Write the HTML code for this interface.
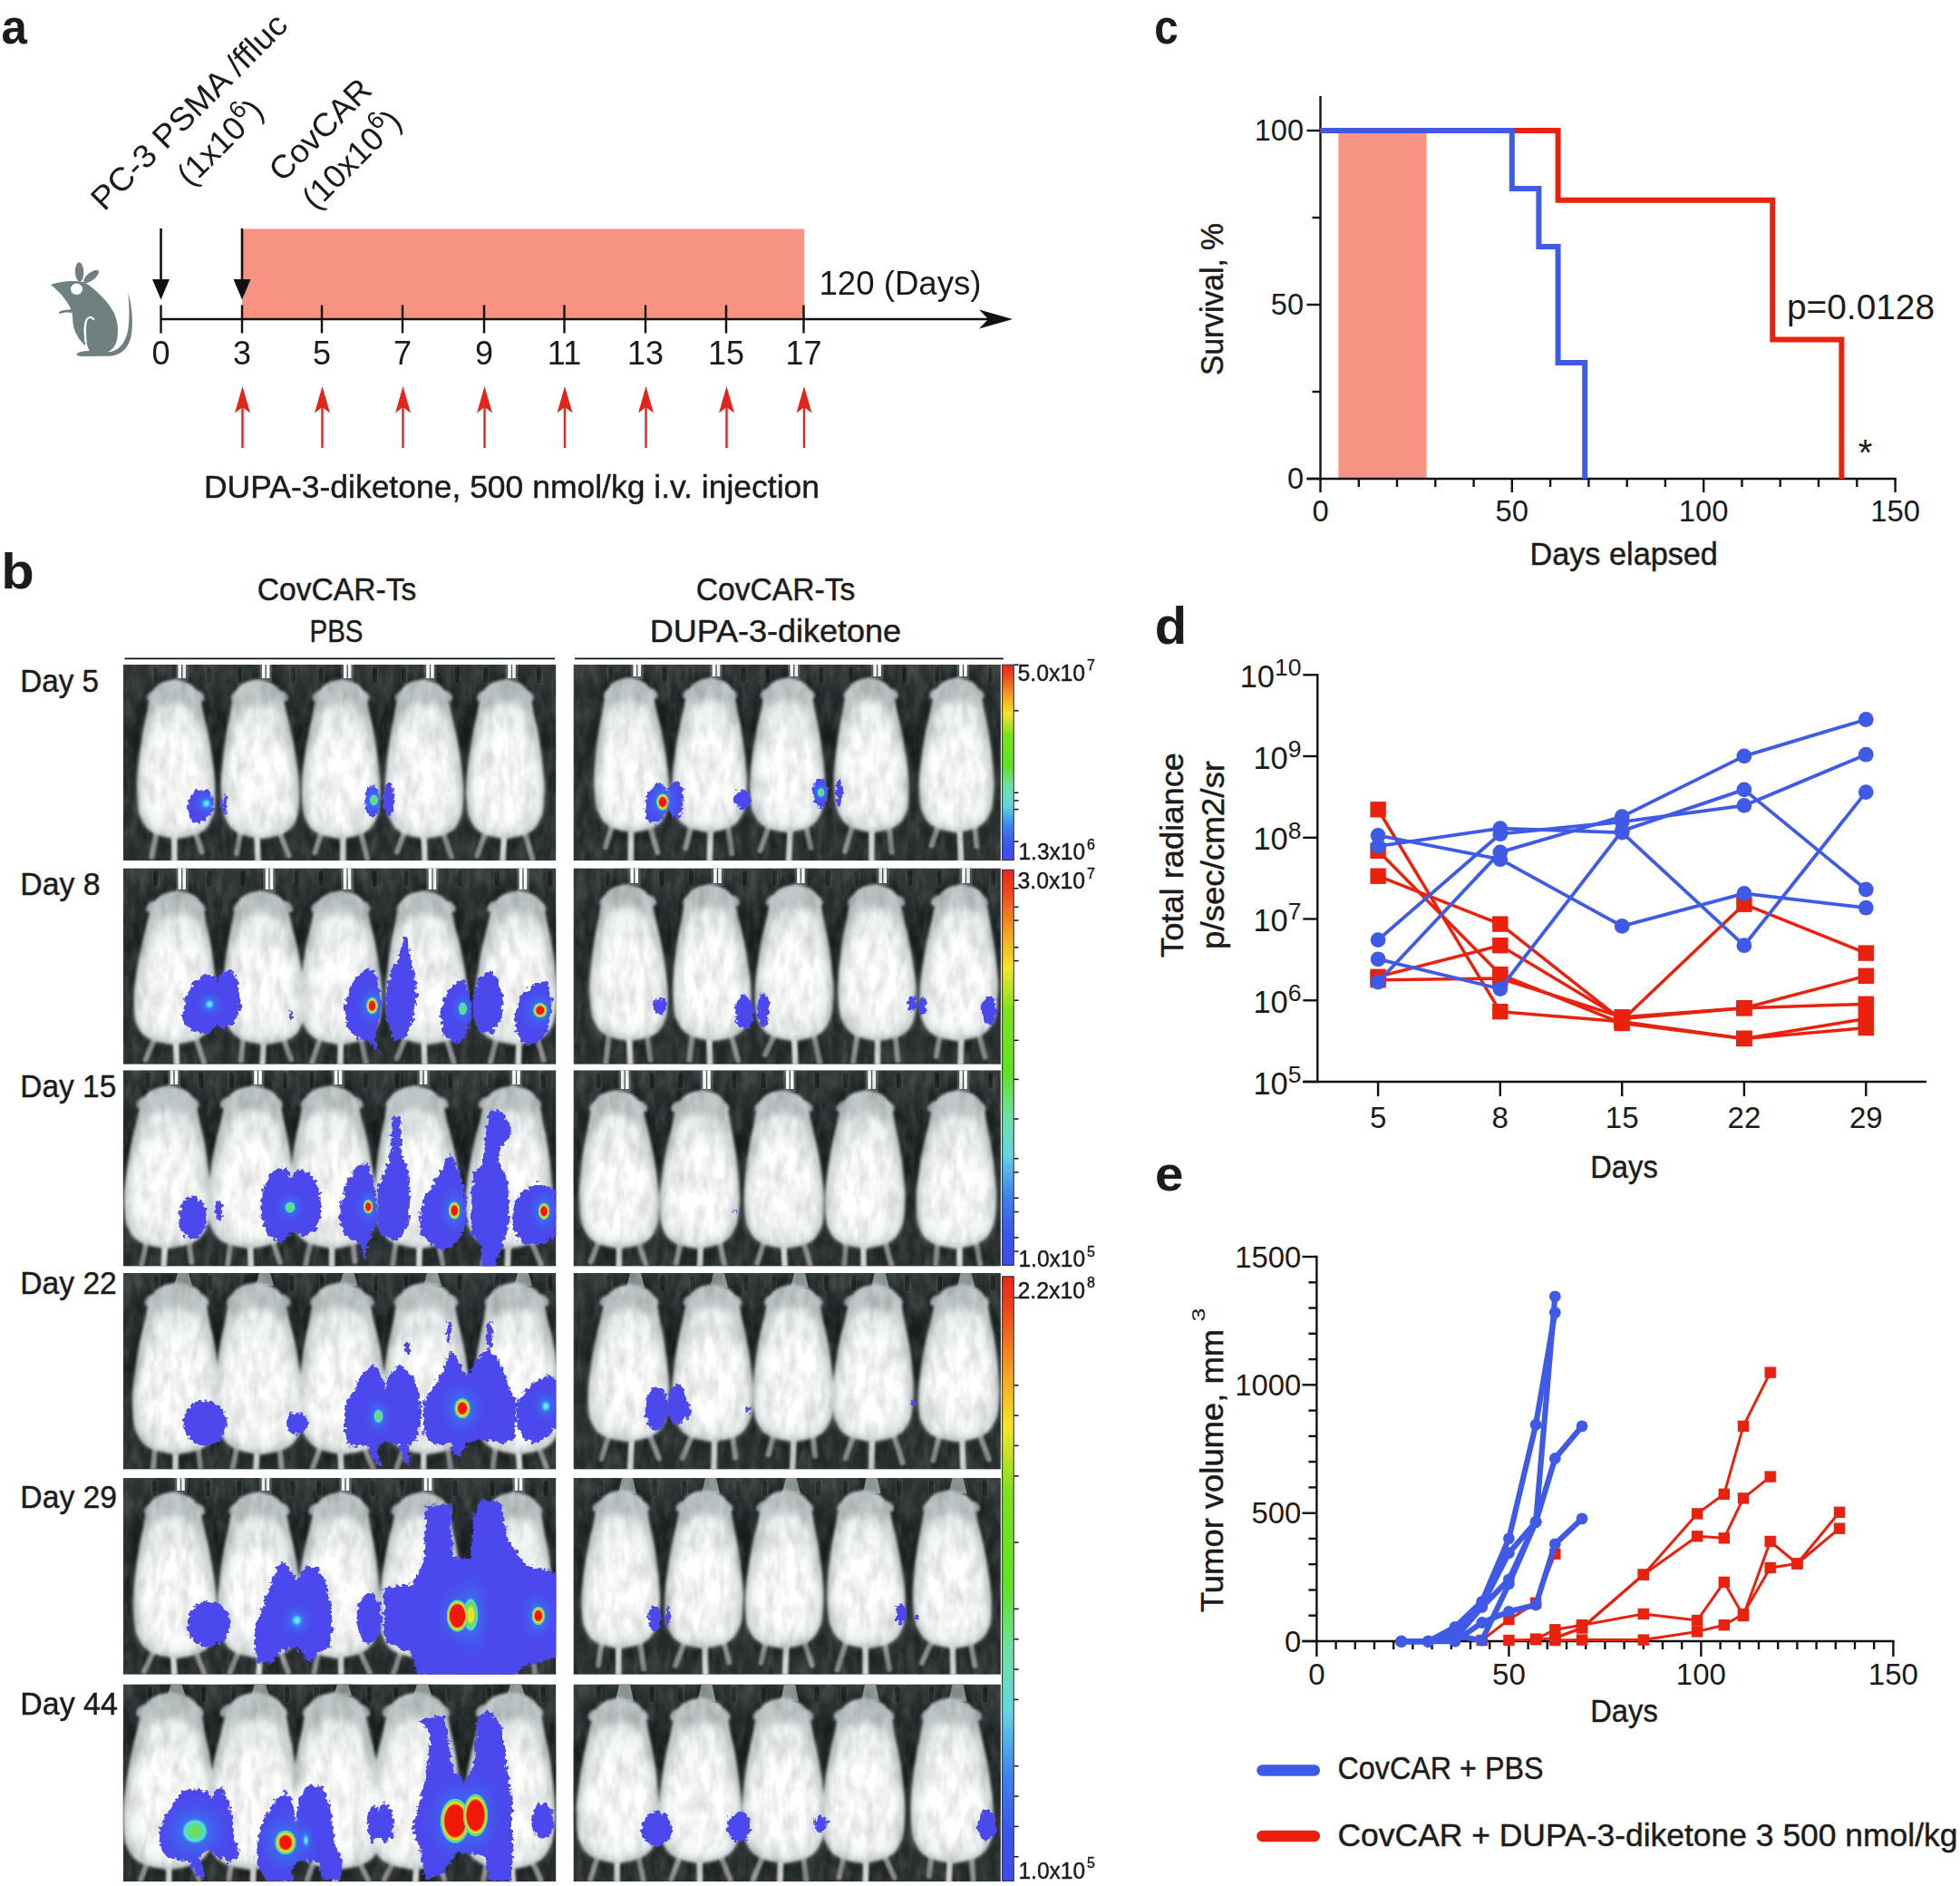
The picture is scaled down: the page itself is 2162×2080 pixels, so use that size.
<!DOCTYPE html>
<html><head><meta charset="utf-8"><title>Figure</title>
<style>
html,body{margin:0;padding:0;background:#fff;}
svg{display:block;}
text{font-family:"Liberation Sans",sans-serif;fill:#1c1a1a;}
.my{stroke:#1c1a1a;stroke-width:0.45px;}
</style></head><body>
<svg width="2162" height="2080" viewBox="0 0 2162 2080">
<defs>
<linearGradient id="bgG" x1="0" y1="0" x2="0" y2="1"><stop offset="0" stop-color="#323838"/><stop offset="0.2" stop-color="#2b3131"/><stop offset="1" stop-color="#282e2e"/></linearGradient>
<filter id="bl1" x="-20%" y="-20%" width="140%" height="140%"><feGaussianBlur stdDeviation="1.1"/></filter>
<filter id="bl2" x="-20%" y="-20%" width="140%" height="140%"><feGaussianBlur stdDeviation="1.5"/></filter>
<filter id="bl4" x="-20%" y="-20%" width="140%" height="140%"><feGaussianBlur stdDeviation="4.5"/></filter>
<filter id="furw" x="0" y="0" width="100%" height="100%"><feTurbulence type="fractalNoise" baseFrequency="0.11 0.04" numOctaves="3" seed="5"/><feColorMatrix type="matrix" values="0 0 0 0 1  0 0 0 0 1  0 0 0 0 1  1.8 0 0 0 -0.6"/></filter>
<filter id="bl5" x="-30%" y="-30%" width="160%" height="160%"><feGaussianBlur stdDeviation="7"/></filter>
<filter id="bl6" x="-30%" y="-30%" width="160%" height="160%"><feGaussianBlur stdDeviation="7"/></filter>
<filter id="rag" x="-10%" y="-10%" width="120%" height="120%"><feTurbulence type="fractalNoise" baseFrequency="0.22" numOctaves="2" seed="4" result="n"/><feDisplacementMap in="SourceGraphic" in2="n" scale="9" xChannelSelector="R" yChannelSelector="G"/></filter>
<filter id="fur" x="0" y="0" width="100%" height="100%"><feTurbulence type="fractalNoise" baseFrequency="0.09 0.035" numOctaves="3" seed="11"/><feColorMatrix type="matrix" values="0 0 0 0 0  0 0 0 0 0  0 0 0 0 0  1.6 0 0 0 -0.55"/></filter>
<linearGradient id="jet" x1="0" y1="0" x2="0" y2="1"><stop offset="0" stop-color="#e8251c"/><stop offset="0.06" stop-color="#ee4a1e"/><stop offset="0.16" stop-color="#f6a323"/><stop offset="0.25" stop-color="#f2e52c"/><stop offset="0.355" stop-color="#7fe01e"/><stop offset="0.51" stop-color="#5ee226"/><stop offset="0.62" stop-color="#6fe0a0"/><stop offset="0.72" stop-color="#63d6e0"/><stop offset="0.82" stop-color="#3f86ee"/><stop offset="0.92" stop-color="#3a55ee"/><stop offset="1" stop-color="#3f4cee"/></linearGradient>
<radialGradient id="glow"><stop offset="0" stop-color="#2f9cf5" stop-opacity="0.95"/><stop offset="0.4" stop-color="#3a72f0" stop-opacity="0.7"/><stop offset="1" stop-color="#4a48ea" stop-opacity="0"/></radialGradient>
<radialGradient id="hotR"><stop offset="0" stop-color="#f01808"/><stop offset="0.5" stop-color="#f01808"/><stop offset="0.62" stop-color="#f5a01e"/><stop offset="0.72" stop-color="#f0ea30"/><stop offset="0.84" stop-color="#5fdc50"/><stop offset="0.94" stop-color="#4fe0e0"/><stop offset="1" stop-color="#3a9af0" stop-opacity="0"/></radialGradient>
<radialGradient id="hotRR"><stop offset="0" stop-color="#f01808"/><stop offset="0.68" stop-color="#f01808"/><stop offset="0.75" stop-color="#f5a01e"/><stop offset="0.81" stop-color="#f0ea30"/><stop offset="0.89" stop-color="#5fdc50"/><stop offset="0.96" stop-color="#4fe0e0"/><stop offset="1" stop-color="#3a9af0" stop-opacity="0"/></radialGradient>
<radialGradient id="hotY"><stop offset="0" stop-color="#f0d030"/><stop offset="0.35" stop-color="#e8ea38"/><stop offset="0.65" stop-color="#5fdc50"/><stop offset="0.88" stop-color="#4fe0e0"/><stop offset="1" stop-color="#3a9af0" stop-opacity="0"/></radialGradient>
<radialGradient id="hotG"><stop offset="0" stop-color="#7be04a"/><stop offset="0.45" stop-color="#62dc78"/><stop offset="0.8" stop-color="#4fe0e0"/><stop offset="1" stop-color="#3a9af0" stop-opacity="0"/></radialGradient>
<radialGradient id="hotC"><stop offset="0" stop-color="#7cf0f0"/><stop offset="0.5" stop-color="#4ccff2"/><stop offset="1" stop-color="#3a8af0" stop-opacity="0"/></radialGradient>
<clipPath id="cp0"><rect x="135.8" y="733.0" width="477.6" height="216.2"/></clipPath>
<clipPath id="bc1"><ellipse cx="221.2" cy="888.8" rx="13.8" ry="19.0" transform="rotate(15 221.2 888.8)"/><ellipse cx="247.5" cy="887.5" rx="3.0" ry="11.2"/><ellipse cx="410.5" cy="883.8" rx="8.2" ry="17.5"/><ellipse cx="428.8" cy="882.5" rx="6.2" ry="18.0"/></clipPath>
<clipPath id="cp1"><rect x="632.5" y="733.0" width="471.4" height="216.2"/></clipPath>
<clipPath id="bc2"><ellipse cx="724.3" cy="886.0" rx="12.0" ry="22.6" transform="rotate(12 724.3 886.0)"/><ellipse cx="745.4" cy="881.5" rx="8.4" ry="21.1"/><ellipse cx="819.2" cy="881.5" rx="9.6" ry="10.5"/><ellipse cx="905.0" cy="874.6" rx="8.1" ry="15.1"/><ellipse cx="926.0" cy="874.0" rx="4.2" ry="15.1"/></clipPath>
<clipPath id="cp2"><rect x="135.8" y="957.5" width="477.6" height="216.3"/></clipPath>
<clipPath id="bc3"><polygon points="201.2,1120.0 205.0,1100.0 212.5,1085.0 225.0,1075.0 237.5,1076.2 240.2,1083.8 243.8,1072.5 255.0,1070.0 262.5,1085.0 266.2,1105.0 260.0,1125.0 247.5,1135.0 240.0,1130.5 230.0,1140.5 212.5,1138.0 203.8,1130.0"/><polygon points="380.0,1112.5 385.0,1090.0 395.0,1075.0 407.5,1067.5 415.0,1075.0 420.0,1100.0 420.0,1120.0 412.5,1140.0 417.5,1157.5 420.0,1163.0 405.0,1147.5 392.5,1145.0 382.5,1132.5"/><polygon points="425.0,1100.0 430.0,1075.0 440.0,1055.0 445.0,1032.5 450.0,1035.0 452.5,1057.5 457.5,1075.0 460.0,1100.0 455.0,1125.0 447.5,1145.0 435.0,1147.5 426.2,1125.0"/><polygon points="485.0,1120.0 490.0,1100.0 500.0,1085.0 512.5,1080.0 518.8,1100.0 520.0,1120.0 512.5,1145.0 502.5,1150.5 490.0,1142.5"/><polygon points="521.2,1105.0 527.5,1080.0 540.0,1070.0 550.0,1080.0 555.0,1100.0 552.5,1125.0 542.5,1140.0 530.0,1137.5 522.5,1122.5"/><polygon points="567.5,1120.0 575.0,1097.5 590.0,1085.0 605.0,1082.5 608.8,1105.0 605.0,1135.0 592.5,1150.0 580.0,1153.0 570.0,1140.0"/><ellipse cx="321.2" cy="1120.0" rx="2.2" ry="5.0"/></clipPath>
<clipPath id="cp3"><rect x="632.5" y="957.5" width="471.4" height="216.3"/></clipPath>
<clipPath id="cp4"><rect x="135.8" y="1180.3" width="477.6" height="216.3"/></clipPath>
<clipPath id="bc4"><ellipse cx="212.5" cy="1343.2" rx="15.5" ry="23.8"/><ellipse cx="241.2" cy="1334.5" rx="4.0" ry="11.2"/><polygon points="290.0,1312.0 300.0,1292.0 315.0,1287.0 321.2,1298.2 327.5,1289.5 342.5,1294.5 352.5,1312.0 355.0,1334.5 350.0,1354.5 337.5,1364.5 322.5,1358.2 310.0,1372.0 295.0,1362.0 287.5,1342.0"/><polygon points="376.2,1327.0 382.5,1302.0 395.0,1284.5 405.0,1282.0 413.8,1312.0 415.0,1347.0 410.0,1362.0 405.0,1372.0 403.0,1392.0 397.5,1372.0 380.0,1362.0 375.0,1344.5"/><polygon points="416.2,1312.0 425.0,1289.5 430.0,1277.0 433.8,1230.8 441.2,1230.8 442.5,1272.0 450.0,1289.5 452.5,1322.0 450.0,1352.0 437.5,1369.5 420.0,1362.0 415.0,1347.0"/><polygon points="462.5,1342.0 467.5,1322.0 480.0,1302.0 490.0,1282.0 497.5,1272.0 505.0,1289.5 512.5,1312.0 515.0,1347.0 505.0,1369.5 490.0,1379.5 475.0,1372.0 465.0,1362.0"/><polygon points="520.0,1322.0 522.5,1292.0 532.5,1282.0 535.0,1254.5 540.0,1223.2 555.0,1227.0 565.0,1247.0 552.5,1267.0 550.0,1282.0 560.0,1302.0 562.5,1347.0 555.0,1372.0 545.0,1398.2 532.5,1398.2 530.0,1372.0 520.0,1362.0"/><polygon points="565.0,1332.0 575.0,1314.5 592.5,1304.5 613.8,1312.0 613.8,1362.0 600.0,1372.0 577.5,1372.0 566.2,1357.0"/></clipPath>
<clipPath id="cp5"><rect x="632.5" y="1180.3" width="471.4" height="216.3"/></clipPath>
<clipPath id="cp6"><rect x="135.8" y="1403.9" width="477.6" height="216.7"/></clipPath>
<clipPath id="bc5"><ellipse cx="226.2" cy="1569.5" rx="23.8" ry="25.0"/><ellipse cx="327.5" cy="1569.5" rx="11.5" ry="12.0"/><polygon points="380.0,1552.0 387.5,1537.0 400.0,1514.5 412.5,1504.5 420.0,1514.5 425.0,1530.8 430.0,1514.5 442.5,1504.5 455.0,1517.0 462.5,1537.0 465.0,1567.0 460.0,1587.0 450.0,1594.5 452.5,1617.0 445.0,1612.0 440.0,1594.5 425.0,1589.5 415.0,1597.0 420.0,1618.2 412.5,1612.0 405.0,1594.5 385.0,1594.5 380.0,1577.0"/><polygon points="466.2,1547.0 480.0,1527.0 490.0,1507.0 497.5,1489.5 502.5,1494.5 515.0,1518.2 527.5,1497.0 540.0,1487.0 555.0,1507.0 562.5,1532.0 570.0,1547.0 567.5,1587.0 555.0,1592.0 530.0,1587.0 515.0,1592.0 507.5,1607.0 500.0,1604.5 497.5,1592.0 480.0,1594.5 467.5,1582.0"/><ellipse cx="540.0" cy="1472.0" rx="3.5" ry="15.0"/><ellipse cx="495.5" cy="1469.5" rx="2.5" ry="12.5"/><ellipse cx="450.0" cy="1487.0" rx="3.0" ry="6.2"/><polygon points="570.0,1547.0 580.0,1532.0 592.5,1522.0 605.0,1517.0 616.2,1522.0 616.2,1572.0 605.0,1582.0 592.5,1592.0 577.5,1587.0 570.0,1572.0"/></clipPath>
<clipPath id="cp7"><rect x="632.5" y="1403.9" width="471.4" height="216.7"/></clipPath>
<clipPath id="cp8"><rect x="135.8" y="1630.0" width="477.6" height="216.8"/></clipPath>
<clipPath id="bc6"><ellipse cx="230.0" cy="1790.8" rx="23.8" ry="25.0"/><polygon points="282.5,1792.0 290.0,1772.0 300.0,1742.0 310.0,1722.0 320.0,1729.5 327.5,1743.2 337.5,1727.0 350.0,1729.5 360.0,1747.0 365.0,1772.0 367.5,1797.0 362.5,1819.5 350.0,1822.0 342.5,1834.5 327.5,1817.0 310.0,1819.5 300.0,1834.5 285.0,1834.5 280.0,1812.0"/><ellipse cx="407.5" cy="1784.5" rx="14.0" ry="28.0"/><polygon points="422.5,1752.0 455.0,1747.0 467.5,1722.0 470.0,1659.5 497.5,1659.5 500.0,1717.0 518.8,1719.5 522.5,1669.5 530.0,1654.5 552.5,1657.0 560.0,1697.0 580.0,1727.0 616.2,1734.5 616.2,1827.0 580.0,1837.0 567.5,1848.2 462.5,1848.2 452.5,1822.0 425.0,1812.0"/></clipPath>
<clipPath id="cp9"><rect x="632.5" y="1630.0" width="471.4" height="216.8"/></clipPath>
<clipPath id="cp10"><rect x="135.8" y="1857.5" width="477.6" height="217.7"/></clipPath>
<clipPath id="bc7"><polygon points="175.0,2022.0 180.0,2007.0 192.5,1987.0 202.5,1974.5 217.5,1973.2 230.0,1977.0 233.8,1984.0 237.5,1974.5 245.0,1972.0 252.5,1987.0 256.2,2007.0 257.5,2027.0 265.0,2044.5 255.0,2054.5 240.0,2047.0 230.0,2039.5 220.0,2047.0 225.0,2064.5 226.2,2073.2 215.0,2067.0 207.5,2052.0 187.5,2049.5 177.5,2039.5"/><polygon points="283.8,2032.0 290.0,2007.0 302.5,1987.0 315.0,1975.8 322.5,1987.0 326.2,2009.5 330.0,1982.0 340.0,1969.5 355.0,1969.5 363.8,1987.0 366.2,2012.0 370.0,2034.5 377.5,2054.5 376.2,2073.2 355.0,2073.2 352.5,2054.5 330.0,2052.0 320.0,2062.0 325.0,2074.5 292.5,2074.5 282.5,2052.0"/><polygon points="405.0,2012.0 407.5,1997.0 412.5,1989.5 418.8,1997.5 423.8,1987.0 430.0,1994.5 435.0,2009.5 432.5,2027.0 425.0,2032.0 417.5,2027.0 410.0,2032.0 406.2,2022.0"/><polygon points="462.5,1897.0 490.0,1892.0 500.0,1952.0 512.5,1964.5 522.5,1947.0 527.5,1892.0 540.0,1887.0 552.5,1902.0 565.0,1987.0 565.0,2074.5 540.0,2074.5 535.0,2047.0 505.0,2042.0 490.0,2064.5 470.0,2074.5 462.5,2037.0 455.0,2017.0 470.0,1959.5 475.0,1912.0"/><ellipse cx="598.8" cy="2008.2" rx="12.0" ry="19.5"/></clipPath>
<clipPath id="cp11"><rect x="632.5" y="1857.5" width="471.4" height="217.7"/></clipPath>
</defs>
<rect width="2162" height="2080" fill="#fff"/>
<text x="1.2" y="648.8" font-size="55.5" textLength="36.5" lengthAdjust="spacingAndGlyphs" font-weight="bold">b</text>
<text x="371.5" y="662.0" font-size="35.5" class="my" text-anchor="middle" textLength="175.5" lengthAdjust="spacingAndGlyphs">CovCAR-Ts</text>
<text x="855.5" y="662.0" font-size="35.5" class="my" text-anchor="middle" textLength="175.5" lengthAdjust="spacingAndGlyphs">CovCAR-Ts</text>
<text x="371.0" y="707.7" font-size="35.5" class="my" text-anchor="middle" textLength="59.0" lengthAdjust="spacingAndGlyphs">PBS</text>
<text x="855.4" y="707.7" font-size="35.5" class="my" text-anchor="middle" textLength="277.5" lengthAdjust="spacingAndGlyphs">DUPA-3-diketone</text>
<line x1="137.5" y1="726.3" x2="612.0" y2="726.3" stroke="#111" stroke-width="1.8"/>
<line x1="634.0" y1="726.3" x2="1107.0" y2="726.3" stroke="#111" stroke-width="1.8"/>
<g clip-path="url(#cp0)">
<rect x="135.8" y="733.0" width="477.6" height="216.2" fill="url(#bgG)"/>
<g filter="url(#bl6)" fill="#161a1a" opacity="0.8">
<ellipse cx="193.8" cy="837.0" rx="49.9" ry="98.6"/>
<ellipse cx="286.2" cy="837.0" rx="49.9" ry="98.6"/>
<ellipse cx="376.2" cy="837.0" rx="49.9" ry="98.6"/>
<ellipse cx="467.5" cy="837.0" rx="49.9" ry="98.6"/>
<ellipse cx="557.5" cy="837.0" rx="49.9" ry="98.6"/>
</g>
<rect x="168.6" y="735.0" width="6.4" height="19" rx="3" fill="#1c2222" stroke="#3d4545" stroke-width="1"/>
<rect x="227.6" y="735.0" width="6.4" height="19" rx="3" fill="#1c2222" stroke="#3d4545" stroke-width="1"/>
<rect x="193.8" y="733.0" width="14" height="18.0" fill="#9aa5a5" opacity="0.35"/>
<rect x="196.4" y="733.0" width="3.6" height="15.0" fill="#fff"/>
<rect x="201.4" y="733.0" width="3.6" height="15.0" fill="#fff"/>
<rect x="261.1" y="735.0" width="6.4" height="19" rx="3" fill="#1c2222" stroke="#3d4545" stroke-width="1"/>
<rect x="320.1" y="735.0" width="6.4" height="19" rx="3" fill="#1c2222" stroke="#3d4545" stroke-width="1"/>
<rect x="286.2" y="733.0" width="14" height="18.0" fill="#9aa5a5" opacity="0.35"/>
<rect x="288.9" y="733.0" width="3.6" height="15.0" fill="#fff"/>
<rect x="293.9" y="733.0" width="3.6" height="15.0" fill="#fff"/>
<rect x="351.1" y="735.0" width="6.4" height="19" rx="3" fill="#1c2222" stroke="#3d4545" stroke-width="1"/>
<rect x="410.1" y="735.0" width="6.4" height="19" rx="3" fill="#1c2222" stroke="#3d4545" stroke-width="1"/>
<rect x="376.2" y="733.0" width="14" height="18.0" fill="#9aa5a5" opacity="0.35"/>
<rect x="378.9" y="733.0" width="3.6" height="15.0" fill="#fff"/>
<rect x="383.9" y="733.0" width="3.6" height="15.0" fill="#fff"/>
<rect x="442.3" y="735.0" width="6.4" height="19" rx="3" fill="#1c2222" stroke="#3d4545" stroke-width="1"/>
<rect x="501.3" y="735.0" width="6.4" height="19" rx="3" fill="#1c2222" stroke="#3d4545" stroke-width="1"/>
<rect x="467.5" y="733.0" width="14" height="18.0" fill="#9aa5a5" opacity="0.35"/>
<rect x="470.2" y="733.0" width="3.6" height="15.0" fill="#fff"/>
<rect x="475.2" y="733.0" width="3.6" height="15.0" fill="#fff"/>
<rect x="532.3" y="735.0" width="6.4" height="19" rx="3" fill="#1c2222" stroke="#3d4545" stroke-width="1"/>
<rect x="591.3" y="735.0" width="6.4" height="19" rx="3" fill="#1c2222" stroke="#3d4545" stroke-width="1"/>
<rect x="557.5" y="733.0" width="14" height="18.0" fill="#9aa5a5" opacity="0.35"/>
<rect x="560.2" y="733.0" width="3.6" height="15.0" fill="#fff"/>
<rect x="565.2" y="733.0" width="3.6" height="15.0" fill="#fff"/>
<g filter="url(#bl1)" stroke-linecap="round" fill="none">
<line x1="192.2" y1="917.0" x2="192.4" y2="953.2" stroke="#d6d6d6" stroke-width="6.5"/>
<line x1="173.1" y1="915.0" x2="167.4" y2="945.0" stroke="#8c8c8c" stroke-width="6"/>
<line x1="214.4" y1="915.0" x2="222.6" y2="939.7" stroke="#8c8c8c" stroke-width="6"/>
<line x1="283.3" y1="917.0" x2="284.7" y2="953.2" stroke="#d6d6d6" stroke-width="6.5"/>
<line x1="265.6" y1="915.0" x2="261.0" y2="941.3" stroke="#8c8c8c" stroke-width="6"/>
<line x1="306.9" y1="915.0" x2="318.8" y2="943.7" stroke="#8c8c8c" stroke-width="6"/>
<line x1="378.3" y1="917.0" x2="378.2" y2="953.2" stroke="#d6d6d6" stroke-width="6.5"/>
<line x1="355.6" y1="915.0" x2="347.2" y2="940.5" stroke="#8c8c8c" stroke-width="6"/>
<line x1="396.9" y1="915.0" x2="405.2" y2="947.2" stroke="#8c8c8c" stroke-width="6"/>
<line x1="467.6" y1="917.0" x2="468.6" y2="953.2" stroke="#d6d6d6" stroke-width="6.5"/>
<line x1="446.9" y1="915.0" x2="438.1" y2="939.6" stroke="#8c8c8c" stroke-width="6"/>
<line x1="488.1" y1="915.0" x2="497.7" y2="944.9" stroke="#8c8c8c" stroke-width="6"/>
<line x1="556.3" y1="917.0" x2="554.4" y2="953.2" stroke="#d6d6d6" stroke-width="6.5"/>
<line x1="536.9" y1="915.0" x2="526.2" y2="943.7" stroke="#8c8c8c" stroke-width="6"/>
<line x1="578.1" y1="915.0" x2="587.3" y2="947.2" stroke="#8c8c8c" stroke-width="6"/>
</g>
<g filter="url(#bl2)">
<ellipse cx="167.9" cy="767.5" rx="6.9" ry="4.6" fill="#a4afaf" transform="rotate(-48 167.9 767.5)"/>
<ellipse cx="219.6" cy="767.5" rx="6.9" ry="4.6" fill="#a4afaf" transform="rotate(48 219.6 767.5)"/>
<path d="M192.6,749.0 L204.6,751.8 L210.2,754.6 L213.7,757.4 L216.1,760.3 L217.9,763.1 L219.6,766.6 L222.2,775.4 L223.8,784.2 L225.8,793.0 L227.9,801.8 L229.7,810.6 L231.4,819.4 L232.8,828.2 L234.0,837.0 L235.1,845.8 L236.2,854.6 L237.0,863.4 L237.2,872.2 L237.0,881.0 L236.4,889.8 L235.1,898.6 L231.2,907.4 L229.1,910.9 L226.8,913.7 L223.5,916.6 L218.7,919.4 L209.6,922.2 L194.9,925.0 L194.9,925.0 L180.1,922.2 L170.9,919.4 L166.0,916.6 L162.6,913.7 L160.3,910.9 L158.0,907.4 L153.9,898.6 L152.4,889.8 L151.6,881.0 L151.2,872.2 L151.2,863.4 L151.7,854.6 L152.6,845.8 L153.5,837.0 L154.5,828.2 L155.7,819.4 L157.1,810.6 L158.7,801.8 L160.6,793.0 L162.4,784.2 L163.8,775.4 L166.1,766.6 L167.8,763.1 L169.5,760.3 L171.8,757.4 L175.2,754.6 L180.7,751.8 L192.6,749.0Z" fill="#bdc6c6"/>
<ellipse cx="260.4" cy="767.5" rx="6.9" ry="4.6" fill="#a4afaf" transform="rotate(-48 260.4 767.5)"/>
<ellipse cx="312.1" cy="767.5" rx="6.9" ry="4.6" fill="#a4afaf" transform="rotate(48 312.1 767.5)"/>
<path d="M284.1,749.0 L296.1,751.8 L301.7,754.6 L305.3,757.4 L307.6,760.3 L309.5,763.1 L311.2,766.6 L313.9,775.4 L315.7,784.2 L317.7,793.0 L320.0,801.8 L321.9,810.6 L323.6,819.4 L325.2,828.2 L326.5,837.0 L327.7,845.8 L328.9,854.6 L329.8,863.4 L330.1,872.2 L330.0,881.0 L329.6,889.8 L328.4,898.6 L324.6,907.4 L322.5,910.9 L320.2,913.7 L316.9,916.6 L312.2,919.4 L303.1,922.2 L288.4,925.0 L288.4,925.0 L273.6,922.2 L264.4,919.4 L259.5,916.6 L256.0,913.7 L253.7,910.9 L251.4,907.4 L247.2,898.6 L245.5,889.8 L244.7,881.0 L244.1,872.2 L244.0,863.4 L244.4,854.6 L245.2,845.8 L246.0,837.0 L246.9,828.2 L248.0,819.4 L249.3,810.6 L250.8,801.8 L252.6,793.0 L254.2,784.2 L255.5,775.4 L257.8,766.6 L259.4,763.1 L261.1,760.3 L263.3,757.4 L266.7,754.6 L272.2,751.8 L284.1,749.0Z" fill="#bdc6c6"/>
<ellipse cx="350.4" cy="767.5" rx="6.9" ry="4.6" fill="#a4afaf" transform="rotate(-48 350.4 767.5)"/>
<ellipse cx="402.1" cy="767.5" rx="6.9" ry="4.6" fill="#a4afaf" transform="rotate(48 402.1 767.5)"/>
<path d="M376.8,749.0 L388.7,751.8 L394.3,754.6 L397.7,757.4 L400.0,760.3 L401.7,763.1 L403.4,766.6 L405.8,775.4 L407.3,784.2 L409.1,793.0 L411.1,801.8 L412.7,810.6 L414.2,819.4 L415.4,828.2 L416.5,837.0 L417.5,845.8 L418.4,854.6 L419.0,863.4 L419.0,872.2 L418.6,881.0 L418.0,889.8 L416.5,898.6 L412.4,907.4 L410.2,910.9 L407.9,913.7 L404.5,916.6 L399.7,919.4 L390.5,922.2 L375.7,925.0 L375.7,925.0 L361.0,922.2 L351.8,919.4 L347.0,916.6 L343.7,913.7 L341.4,910.9 L339.2,907.4 L335.3,898.6 L333.9,889.8 L333.3,881.0 L333.1,872.2 L333.2,863.4 L333.9,854.6 L334.9,845.8 L336.0,837.0 L337.2,828.2 L338.5,819.4 L340.1,810.6 L341.9,801.8 L344.0,793.0 L345.8,784.2 L347.4,775.4 L350.0,766.6 L351.7,763.1 L353.4,760.3 L355.7,757.4 L359.3,754.6 L364.8,751.8 L376.8,749.0Z" fill="#bdc6c6"/>
<ellipse cx="441.7" cy="767.5" rx="6.9" ry="4.6" fill="#a4afaf" transform="rotate(-48 441.7 767.5)"/>
<ellipse cx="493.3" cy="767.5" rx="6.9" ry="4.6" fill="#a4afaf" transform="rotate(48 493.3 767.5)"/>
<path d="M465.9,749.0 L477.9,751.8 L483.6,754.6 L487.1,757.4 L489.4,760.3 L491.2,763.1 L493.0,766.6 L495.6,775.4 L497.3,784.2 L499.3,793.0 L501.5,801.8 L503.4,810.6 L505.0,819.4 L506.5,828.2 L507.7,837.0 L508.9,845.8 L510.0,854.6 L510.8,863.4 L511.1,872.2 L510.9,881.0 L510.5,889.8 L509.2,898.6 L505.3,907.4 L503.2,910.9 L501.0,913.7 L497.6,916.6 L492.9,919.4 L483.7,922.2 L469.1,925.0 L469.1,925.0 L454.3,922.2 L445.0,919.4 L440.2,916.6 L436.8,913.7 L434.4,910.9 L432.1,907.4 L428.0,898.6 L426.4,889.8 L425.6,881.0 L425.2,872.2 L425.1,863.4 L425.6,854.6 L426.4,845.8 L427.3,837.0 L428.2,828.2 L429.4,819.4 L430.7,810.6 L432.3,801.8 L434.2,793.0 L435.8,784.2 L437.2,775.4 L439.5,766.6 L441.2,763.1 L442.9,760.3 L445.1,757.4 L448.5,754.6 L454.1,751.8 L465.9,749.0Z" fill="#bdc6c6"/>
<ellipse cx="531.7" cy="767.5" rx="6.9" ry="4.6" fill="#a4afaf" transform="rotate(-48 531.7 767.5)"/>
<ellipse cx="583.3" cy="767.5" rx="6.9" ry="4.6" fill="#a4afaf" transform="rotate(48 583.3 767.5)"/>
<path d="M557.8,749.0 L569.7,751.8 L575.3,754.6 L578.8,757.4 L581.0,760.3 L582.8,763.1 L584.5,766.6 L586.9,775.4 L588.4,784.2 L590.2,793.0 L592.2,801.8 L593.9,810.6 L595.4,819.4 L596.7,828.2 L597.7,837.0 L598.7,845.8 L599.7,854.6 L600.3,863.4 L600.4,872.2 L600.0,881.0 L599.4,889.8 L597.9,898.6 L593.9,907.4 L591.7,910.9 L589.4,913.7 L586.0,916.6 L581.2,919.4 L572.0,922.2 L557.2,925.0 L557.2,925.0 L542.5,922.2 L533.3,919.4 L528.5,916.6 L525.2,913.7 L522.9,910.9 L520.7,907.4 L516.7,898.6 L515.3,889.8 L514.7,881.0 L514.4,872.2 L514.5,863.4 L515.2,854.6 L516.2,845.8 L517.3,837.0 L518.4,828.2 L519.7,819.4 L521.3,810.6 L523.0,801.8 L525.1,793.0 L526.9,784.2 L528.5,775.4 L531.0,766.6 L532.7,763.1 L534.5,760.3 L536.8,757.4 L540.3,754.6 L545.8,751.8 L557.8,749.0Z" fill="#bdc6c6"/>
</g>
<g filter="url(#bl4)">
<path d="M192.6,775.4 L203.6,777.7 L208.6,780.1 L211.9,782.4 L214.0,784.7 L215.6,787.1 L217.2,790.0 L219.6,797.3 L221.0,804.6 L222.8,811.9 L224.8,819.2 L226.5,826.5 L227.9,833.8 L229.3,841.1 L230.4,848.4 L231.4,855.7 L232.4,863.0 L233.1,870.4 L233.3,877.7 L233.1,885.0 L232.7,892.3 L231.5,899.6 L227.9,906.9 L226.0,909.8 L223.9,912.1 L220.9,914.5 L216.6,916.8 L208.2,919.1 L194.9,921.5 L194.9,921.5 L181.4,919.1 L173.0,916.8 L168.6,914.5 L165.5,912.1 L163.4,909.8 L161.3,906.9 L157.6,899.6 L156.2,892.3 L155.5,885.0 L155.1,877.7 L155.1,870.4 L155.5,863.0 L156.3,855.7 L157.1,848.4 L158.0,841.1 L159.1,833.8 L160.4,826.5 L161.8,819.2 L163.6,811.9 L165.1,804.6 L166.4,797.3 L168.5,790.0 L170.0,787.1 L171.6,784.7 L173.6,782.4 L176.8,780.1 L181.8,777.7 L192.6,775.4Z" fill="#f1f4f4"/>
<path d="M284.1,775.4 L295.0,777.7 L300.1,780.1 L303.4,782.4 L305.5,784.7 L307.2,787.1 L308.8,790.0 L311.3,797.3 L312.9,804.6 L314.8,811.9 L316.9,819.2 L318.7,826.5 L320.2,833.8 L321.7,841.1 L322.9,848.4 L324.0,855.7 L325.1,863.0 L325.9,870.4 L326.2,877.7 L326.2,885.0 L325.8,892.3 L324.7,899.6 L321.3,906.9 L319.4,909.8 L317.4,912.1 L314.4,914.5 L310.1,916.8 L301.8,919.1 L288.4,921.5 L288.4,921.5 L274.9,919.1 L266.5,916.8 L262.1,914.5 L258.9,912.1 L256.8,909.8 L254.7,906.9 L250.8,899.6 L249.3,892.3 L248.5,885.0 L248.0,877.7 L247.9,870.4 L248.2,863.0 L248.9,855.7 L249.6,848.4 L250.4,841.1 L251.4,833.8 L252.5,826.5 L253.9,819.2 L255.5,811.9 L257.0,804.6 L258.1,797.3 L260.2,790.0 L261.6,787.1 L263.2,784.7 L265.2,782.4 L268.3,780.1 L273.3,777.7 L284.1,775.4Z" fill="#f1f4f4"/>
<path d="M376.8,775.4 L387.6,777.7 L392.7,780.1 L395.8,782.4 L397.9,784.7 L399.5,787.1 L401.0,790.0 L403.2,797.3 L404.5,804.6 L406.2,811.9 L408.0,819.2 L409.5,826.5 L410.8,833.8 L411.9,841.1 L412.9,848.4 L413.8,855.7 L414.6,863.0 L415.1,870.4 L415.1,877.7 L414.8,885.0 L414.2,892.3 L412.8,899.6 L409.1,906.9 L407.1,909.8 L405.0,912.1 L401.9,914.5 L397.5,916.8 L389.1,919.1 L375.7,921.5 L375.7,921.5 L362.3,919.1 L354.0,916.8 L349.6,914.5 L346.6,912.1 L344.5,909.8 L342.5,906.9 L338.9,899.6 L337.7,892.3 L337.2,885.0 L336.9,877.7 L337.1,870.4 L337.7,863.0 L338.6,855.7 L339.6,848.4 L340.7,841.1 L341.9,833.8 L343.4,826.5 L345.0,819.2 L346.9,811.9 L348.6,804.6 L350.0,797.3 L352.4,790.0 L353.9,787.1 L355.5,784.7 L357.6,782.4 L360.8,780.1 L365.9,777.7 L376.8,775.4Z" fill="#f1f4f4"/>
<path d="M465.9,775.4 L476.9,777.7 L482.0,780.1 L485.2,782.4 L487.3,784.7 L489.0,787.1 L490.6,790.0 L493.0,797.3 L494.5,804.6 L496.4,811.9 L498.4,819.2 L500.1,826.5 L501.6,833.8 L503.0,841.1 L504.1,848.4 L505.2,855.7 L506.2,863.0 L507.0,870.4 L507.2,877.7 L507.1,885.0 L506.7,892.3 L505.5,899.6 L502.0,906.9 L500.1,909.8 L498.1,912.1 L495.0,914.5 L490.7,916.8 L482.4,919.1 L469.1,921.5 L469.1,921.5 L455.6,919.1 L447.2,916.8 L442.8,914.5 L439.6,912.1 L437.5,909.8 L435.4,906.9 L431.6,899.6 L430.2,892.3 L429.5,885.0 L429.0,877.7 L428.9,870.4 L429.4,863.0 L430.1,855.7 L430.9,848.4 L431.7,841.1 L432.8,833.8 L434.0,826.5 L435.4,819.2 L437.1,811.9 L438.6,804.6 L439.8,797.3 L441.9,790.0 L443.4,787.1 L445.0,784.7 L447.0,782.4 L450.1,780.1 L455.1,777.7 L465.9,775.4Z" fill="#f1f4f4"/>
<path d="M557.8,775.4 L568.6,777.7 L573.7,780.1 L576.9,782.4 L578.9,784.7 L580.5,787.1 L582.1,790.0 L584.3,797.3 L585.6,804.6 L587.3,811.9 L589.1,819.2 L590.6,826.5 L592.0,833.8 L593.2,841.1 L594.1,848.4 L595.0,855.7 L595.9,863.0 L596.4,870.4 L596.5,877.7 L596.2,885.0 L595.6,892.3 L594.3,899.6 L590.6,906.9 L588.6,909.8 L586.5,912.1 L583.4,914.5 L579.0,916.8 L570.6,919.1 L557.2,921.5 L557.2,921.5 L543.8,919.1 L535.5,916.8 L531.1,914.5 L528.0,912.1 L526.0,909.8 L524.0,906.9 L520.3,899.6 L519.1,892.3 L518.5,885.0 L518.3,877.7 L518.4,870.4 L519.0,863.0 L519.9,855.7 L520.9,848.4 L521.9,841.1 L523.1,833.8 L524.5,826.5 L526.1,819.2 L528.0,811.9 L529.7,804.6 L531.1,797.3 L533.4,790.0 L535.0,787.1 L536.6,784.7 L538.7,782.4 L541.8,780.1 L546.9,777.7 L557.8,775.4Z" fill="#f1f4f4"/>
</g>
<g filter="url(#bl5)">
<ellipse cx="193.8" cy="858.1" rx="31.8" ry="52.8" fill="#fff"/>
<ellipse cx="286.2" cy="858.1" rx="31.8" ry="52.8" fill="#fff"/>
<ellipse cx="376.2" cy="858.1" rx="31.8" ry="52.8" fill="#fff"/>
<ellipse cx="467.5" cy="858.1" rx="31.8" ry="52.8" fill="#fff"/>
<ellipse cx="557.5" cy="858.1" rx="31.8" ry="52.8" fill="#fff"/>
</g>
<rect x="135.8" y="733.0" width="477.6" height="216.2" filter="url(#fur)" opacity="0.16"/>
<rect x="135.8" y="733.0" width="477.6" height="216.2" filter="url(#furw)" opacity="0.12"/>
<g filter="url(#rag)" fill="#4c48ee">
<ellipse cx="221.2" cy="888.8" rx="13.8" ry="19.0" transform="rotate(15 221.2 888.8)"/>
<ellipse cx="247.5" cy="887.5" rx="3.0" ry="11.2"/>
<ellipse cx="410.5" cy="883.8" rx="8.2" ry="17.5"/>
<ellipse cx="428.8" cy="882.5" rx="6.2" ry="18.0"/>
</g>
<g clip-path="url(#bc1)">
<ellipse cx="227.5" cy="886.2" rx="16.5" ry="16.5" fill="url(#glow)"/>
<ellipse cx="412.5" cy="882.5" rx="15.0" ry="19.5" fill="url(#glow)"/>
<ellipse cx="227.5" cy="886.2" rx="5.5" ry="5.5" fill="url(#hotC)"/>
<ellipse cx="412.5" cy="882.5" rx="5.0" ry="6.5" fill="url(#hotG)"/>
</g>
</g>
<g clip-path="url(#cp1)">
<rect x="632.5" y="733.0" width="471.4" height="216.2" fill="url(#bgG)"/>
<g filter="url(#bl6)" fill="#161a1a" opacity="0.8">
<ellipse cx="695.7" cy="832.5" rx="47.6" ry="95.8"/>
<ellipse cx="783.0" cy="832.5" rx="47.6" ry="95.8"/>
<ellipse cx="868.8" cy="832.5" rx="47.6" ry="95.8"/>
<ellipse cx="960.6" cy="832.5" rx="47.6" ry="95.8"/>
<ellipse cx="1055.5" cy="832.5" rx="47.6" ry="95.8"/>
</g>
<rect x="670.5" y="735.0" width="6.4" height="19" rx="3" fill="#1c2222" stroke="#3d4545" stroke-width="1"/>
<rect x="729.5" y="735.0" width="6.4" height="19" rx="3" fill="#1c2222" stroke="#3d4545" stroke-width="1"/>
<rect x="695.7" y="733.0" width="14" height="16.0" fill="#9aa5a5" opacity="0.35"/>
<rect x="698.4" y="733.0" width="3.6" height="13.0" fill="#fff"/>
<rect x="703.4" y="733.0" width="3.6" height="13.0" fill="#fff"/>
<rect x="757.8" y="735.0" width="6.4" height="19" rx="3" fill="#1c2222" stroke="#3d4545" stroke-width="1"/>
<rect x="816.8" y="735.0" width="6.4" height="19" rx="3" fill="#1c2222" stroke="#3d4545" stroke-width="1"/>
<rect x="783.0" y="733.0" width="14" height="16.0" fill="#9aa5a5" opacity="0.35"/>
<rect x="785.7" y="733.0" width="3.6" height="13.0" fill="#fff"/>
<rect x="790.7" y="733.0" width="3.6" height="13.0" fill="#fff"/>
<rect x="843.6" y="735.0" width="6.4" height="19" rx="3" fill="#1c2222" stroke="#3d4545" stroke-width="1"/>
<rect x="902.6" y="735.0" width="6.4" height="19" rx="3" fill="#1c2222" stroke="#3d4545" stroke-width="1"/>
<rect x="868.8" y="733.0" width="14" height="16.0" fill="#9aa5a5" opacity="0.35"/>
<rect x="871.5" y="733.0" width="3.6" height="13.0" fill="#fff"/>
<rect x="876.5" y="733.0" width="3.6" height="13.0" fill="#fff"/>
<rect x="935.4" y="735.0" width="6.4" height="19" rx="3" fill="#1c2222" stroke="#3d4545" stroke-width="1"/>
<rect x="994.4" y="735.0" width="6.4" height="19" rx="3" fill="#1c2222" stroke="#3d4545" stroke-width="1"/>
<rect x="960.6" y="733.0" width="14" height="16.0" fill="#9aa5a5" opacity="0.35"/>
<rect x="963.3" y="733.0" width="3.6" height="13.0" fill="#fff"/>
<rect x="968.3" y="733.0" width="3.6" height="13.0" fill="#fff"/>
<rect x="1030.3" y="735.0" width="6.4" height="19" rx="3" fill="#1c2222" stroke="#3d4545" stroke-width="1"/>
<rect x="1089.3" y="735.0" width="6.4" height="19" rx="3" fill="#1c2222" stroke="#3d4545" stroke-width="1"/>
<rect x="1055.5" y="733.0" width="14" height="16.0" fill="#9aa5a5" opacity="0.35"/>
<rect x="1058.2" y="733.0" width="3.6" height="13.0" fill="#fff"/>
<rect x="1063.2" y="733.0" width="3.6" height="13.0" fill="#fff"/>
<g filter="url(#bl1)" stroke-linecap="round" fill="none">
<line x1="696.1" y1="910.0" x2="695.8" y2="953.2" stroke="#d6d6d6" stroke-width="6.5"/>
<line x1="676.0" y1="908.0" x2="668.2" y2="934.1" stroke="#8c8c8c" stroke-width="6"/>
<line x1="715.4" y1="908.0" x2="725.5" y2="940.2" stroke="#8c8c8c" stroke-width="6"/>
<line x1="783.9" y1="910.0" x2="782.6" y2="953.2" stroke="#d6d6d6" stroke-width="6.5"/>
<line x1="763.3" y1="908.0" x2="756.1" y2="935.3" stroke="#8c8c8c" stroke-width="6"/>
<line x1="802.7" y1="908.0" x2="807.2" y2="941.5" stroke="#8c8c8c" stroke-width="6"/>
<line x1="871.8" y1="910.0" x2="870.0" y2="953.2" stroke="#d6d6d6" stroke-width="6.5"/>
<line x1="849.1" y1="908.0" x2="838.5" y2="938.0" stroke="#8c8c8c" stroke-width="6"/>
<line x1="888.5" y1="908.0" x2="894.3" y2="934.8" stroke="#8c8c8c" stroke-width="6"/>
<line x1="961.6" y1="910.0" x2="961.5" y2="953.2" stroke="#d6d6d6" stroke-width="6.5"/>
<line x1="940.9" y1="908.0" x2="932.1" y2="938.6" stroke="#8c8c8c" stroke-width="6"/>
<line x1="980.3" y1="908.0" x2="983.6" y2="939.7" stroke="#8c8c8c" stroke-width="6"/>
<line x1="1058.4" y1="910.0" x2="1060.3" y2="953.2" stroke="#d6d6d6" stroke-width="6.5"/>
<line x1="1035.8" y1="908.0" x2="1027.7" y2="932.4" stroke="#8c8c8c" stroke-width="6"/>
<line x1="1075.2" y1="908.0" x2="1077.2" y2="933.3" stroke="#8c8c8c" stroke-width="6"/>
</g>
<g filter="url(#bl2)">
<ellipse cx="671.1" cy="765.0" rx="6.6" ry="4.4" fill="#a4afaf" transform="rotate(-48 671.1 765.0)"/>
<ellipse cx="720.3" cy="765.0" rx="6.6" ry="4.4" fill="#a4afaf" transform="rotate(48 720.3 765.0)"/>
<path d="M693.5,747.0 L705.0,749.7 L710.4,752.5 L713.8,755.2 L716.0,757.9 L717.8,760.7 L719.5,764.1 L722.0,772.6 L723.7,781.2 L725.7,789.8 L727.8,798.3 L729.7,806.9 L731.3,815.4 L732.8,824.0 L734.1,832.5 L735.3,841.0 L736.4,849.6 L737.2,858.1 L737.5,866.7 L737.5,875.2 L737.1,883.8 L735.9,892.4 L732.3,900.9 L730.3,904.3 L728.2,907.1 L725.0,909.8 L720.6,912.5 L711.9,915.3 L697.9,918.0 L697.9,918.0 L683.7,915.3 L674.9,912.5 L670.3,909.8 L667.0,907.1 L664.7,904.3 L662.5,900.9 L658.5,892.4 L656.9,883.8 L656.1,875.2 L655.6,866.7 L655.5,858.1 L655.9,849.6 L656.6,841.0 L657.3,832.5 L658.2,824.0 L659.2,815.4 L660.4,806.9 L661.8,798.3 L663.6,789.8 L665.1,781.2 L666.3,772.6 L668.5,764.1 L670.0,760.7 L671.6,757.9 L673.7,755.2 L677.0,752.5 L682.2,749.7 L693.5,747.0Z" fill="#bdc6c6"/>
<ellipse cx="758.4" cy="765.0" rx="6.6" ry="4.4" fill="#a4afaf" transform="rotate(-48 758.4 765.0)"/>
<ellipse cx="807.6" cy="765.0" rx="6.6" ry="4.4" fill="#a4afaf" transform="rotate(48 807.6 765.0)"/>
<path d="M784.0,747.0 L795.3,749.7 L800.6,752.5 L803.9,755.2 L806.1,757.9 L807.7,760.7 L809.3,764.1 L811.5,772.6 L812.9,781.2 L814.5,789.8 L816.4,798.3 L817.9,806.9 L819.3,815.4 L820.4,824.0 L821.4,832.5 L822.3,841.0 L823.1,849.6 L823.6,858.1 L823.6,866.7 L823.2,875.2 L822.5,883.8 L821.0,892.4 L817.1,900.9 L815.0,904.3 L812.8,907.1 L809.5,909.8 L804.9,912.5 L796.1,915.3 L782.0,918.0 L782.0,918.0 L768.0,915.3 L759.3,912.5 L754.7,909.8 L751.5,907.1 L749.4,904.3 L747.3,900.9 L743.6,892.4 L742.3,883.8 L741.8,875.2 L741.6,866.7 L741.8,858.1 L742.5,849.6 L743.5,841.0 L744.6,832.5 L745.8,824.0 L747.1,815.4 L748.7,806.9 L750.4,798.3 L752.4,789.8 L754.3,781.2 L755.8,772.6 L758.3,764.1 L759.9,760.7 L761.6,757.9 L763.9,755.2 L767.2,752.5 L772.5,749.7 L784.0,747.0Z" fill="#bdc6c6"/>
<ellipse cx="844.2" cy="765.0" rx="6.6" ry="4.4" fill="#a4afaf" transform="rotate(-48 844.2 765.0)"/>
<ellipse cx="893.4" cy="765.0" rx="6.6" ry="4.4" fill="#a4afaf" transform="rotate(48 893.4 765.0)"/>
<path d="M869.5,747.0 L880.8,749.7 L886.1,752.5 L889.4,755.2 L891.6,757.9 L893.2,760.7 L894.8,764.1 L897.1,772.6 L898.5,781.2 L900.2,789.8 L902.1,798.3 L903.6,806.9 L905.0,815.4 L906.2,824.0 L907.2,832.5 L908.1,841.0 L908.9,849.6 L909.5,858.1 L909.5,866.7 L909.1,875.2 L908.5,883.8 L907.1,892.4 L903.2,900.9 L901.0,904.3 L898.8,907.1 L895.6,909.8 L891.0,912.5 L882.2,915.3 L868.1,918.0 L868.1,918.0 L854.1,915.3 L845.4,912.5 L840.8,909.8 L837.6,907.1 L835.4,904.3 L833.4,900.9 L829.6,892.4 L828.3,883.8 L827.8,875.2 L827.6,866.7 L827.7,858.1 L828.4,849.6 L829.4,841.0 L830.4,832.5 L831.5,824.0 L832.9,815.4 L834.4,806.9 L836.1,798.3 L838.1,789.8 L839.9,781.2 L841.4,772.6 L843.8,764.1 L845.5,760.7 L847.2,757.9 L849.4,755.2 L852.7,752.5 L858.0,749.7 L869.5,747.0Z" fill="#bdc6c6"/>
<ellipse cx="936.0" cy="765.0" rx="6.6" ry="4.4" fill="#a4afaf" transform="rotate(-48 936.0 765.0)"/>
<ellipse cx="985.2" cy="765.0" rx="6.6" ry="4.4" fill="#a4afaf" transform="rotate(48 985.2 765.0)"/>
<path d="M958.6,747.0 L970.1,749.7 L975.5,752.5 L978.8,755.2 L981.1,757.9 L982.8,760.7 L984.5,764.1 L987.1,772.6 L988.7,781.2 L990.7,789.8 L992.8,798.3 L994.6,806.9 L996.3,815.4 L997.7,824.0 L999.0,832.5 L1000.2,841.0 L1001.3,849.6 L1002.1,858.1 L1002.4,866.7 L1002.2,875.2 L1001.9,883.8 L1000.7,892.4 L997.1,900.9 L995.0,904.3 L992.9,907.1 L989.8,909.8 L985.3,912.5 L976.5,915.3 L962.6,918.0 L962.6,918.0 L948.4,915.3 L939.6,912.5 L935.0,909.8 L931.7,907.1 L929.4,904.3 L927.3,900.9 L923.2,892.4 L921.7,883.8 L920.9,875.2 L920.4,866.7 L920.3,858.1 L920.7,849.6 L921.4,841.0 L922.2,832.5 L923.1,824.0 L924.1,815.4 L925.4,806.9 L926.8,798.3 L928.6,789.8 L930.1,781.2 L931.4,772.6 L933.5,764.1 L935.1,760.7 L936.7,757.9 L938.8,755.2 L942.1,752.5 L947.3,749.7 L958.6,747.0Z" fill="#bdc6c6"/>
<ellipse cx="1030.9" cy="765.0" rx="6.6" ry="4.4" fill="#a4afaf" transform="rotate(-48 1030.9 765.0)"/>
<ellipse cx="1080.1" cy="765.0" rx="6.6" ry="4.4" fill="#a4afaf" transform="rotate(48 1080.1 765.0)"/>
<path d="M1056.4,747.0 L1067.8,749.7 L1073.0,752.5 L1076.3,755.2 L1078.5,757.9 L1080.1,760.7 L1081.7,764.1 L1084.0,772.6 L1085.3,781.2 L1087.0,789.8 L1088.9,798.3 L1090.4,806.9 L1091.7,815.4 L1092.9,824.0 L1093.9,832.5 L1094.8,841.0 L1095.6,849.6 L1096.1,858.1 L1096.1,866.7 L1095.7,875.2 L1095.0,883.8 L1093.6,892.4 L1089.7,900.9 L1087.5,904.3 L1085.3,907.1 L1082.1,909.8 L1077.5,912.5 L1068.7,915.3 L1054.6,918.0 L1054.6,918.0 L1040.6,915.3 L1031.8,912.5 L1027.3,909.8 L1024.1,907.1 L1021.9,904.3 L1019.9,900.9 L1016.1,892.4 L1014.9,883.8 L1014.4,875.2 L1014.2,866.7 L1014.3,858.1 L1015.0,849.6 L1016.1,841.0 L1017.1,832.5 L1018.3,824.0 L1019.6,815.4 L1021.1,806.9 L1022.9,798.3 L1024.9,789.8 L1026.7,781.2 L1028.3,772.6 L1030.7,764.1 L1032.4,760.7 L1034.1,757.9 L1036.3,755.2 L1039.7,752.5 L1045.0,749.7 L1056.4,747.0Z" fill="#bdc6c6"/>
</g>
<g filter="url(#bl4)">
<path d="M693.5,772.6 L704.0,774.9 L708.9,777.2 L712.0,779.5 L714.0,781.7 L715.6,784.0 L717.2,786.8 L719.5,793.9 L721.1,801.0 L722.9,808.1 L724.9,815.2 L726.6,822.3 L728.1,829.4 L729.4,836.5 L730.6,843.6 L731.7,850.7 L732.8,857.8 L733.6,864.9 L733.9,872.0 L733.8,879.1 L733.5,886.2 L732.5,893.3 L729.2,900.4 L727.4,903.2 L725.4,905.5 L722.6,907.8 L718.5,910.0 L710.6,912.3 L697.9,914.6 L697.9,914.6 L685.0,912.3 L677.0,910.0 L672.7,907.8 L669.7,905.5 L667.7,903.2 L665.7,900.4 L662.0,893.3 L660.5,886.2 L659.8,879.1 L659.3,872.0 L659.1,864.9 L659.5,857.8 L660.1,850.7 L660.8,843.6 L661.5,836.5 L662.4,829.4 L663.5,822.3 L664.8,815.2 L666.4,808.1 L667.7,801.0 L668.8,793.9 L670.8,786.8 L672.1,784.0 L673.6,781.7 L675.5,779.5 L678.5,777.2 L683.2,774.9 L693.5,772.6Z" fill="#f1f4f4"/>
<path d="M784.0,772.6 L794.3,774.9 L799.1,777.2 L802.1,779.5 L804.1,781.7 L805.5,784.0 L807.0,786.8 L809.0,793.9 L810.2,801.0 L811.7,808.1 L813.4,815.2 L814.8,822.3 L816.0,829.4 L817.1,836.5 L817.9,843.6 L818.7,850.7 L819.5,857.8 L819.9,864.9 L819.9,872.0 L819.5,879.1 L818.9,886.2 L817.6,893.3 L814.0,900.4 L812.0,903.2 L810.0,905.5 L807.0,907.8 L802.9,910.0 L794.8,912.3 L782.0,914.6 L782.0,914.6 L769.3,912.3 L761.3,910.0 L757.2,907.8 L754.3,905.5 L752.3,903.2 L750.5,900.4 L747.1,893.3 L745.9,886.2 L745.5,879.1 L745.3,872.0 L745.5,864.9 L746.2,857.8 L747.1,850.7 L748.1,843.6 L749.1,836.5 L750.4,829.4 L751.8,822.3 L753.4,815.2 L755.2,808.1 L756.9,801.0 L758.3,793.9 L760.6,786.8 L762.1,784.0 L763.6,781.7 L765.7,779.5 L768.7,777.2 L773.6,774.9 L784.0,772.6Z" fill="#f1f4f4"/>
<path d="M869.5,772.6 L879.8,774.9 L884.6,777.2 L887.6,779.5 L889.6,781.7 L891.1,784.0 L892.5,786.8 L894.6,793.9 L895.9,801.0 L897.4,808.1 L899.1,815.2 L900.5,822.3 L901.7,829.4 L902.8,836.5 L903.7,843.6 L904.5,850.7 L905.3,857.8 L905.8,864.9 L905.8,872.0 L905.5,879.1 L904.9,886.2 L903.6,893.3 L900.0,900.4 L898.1,903.2 L896.1,905.5 L893.1,907.8 L889.0,910.0 L880.9,912.3 L868.1,914.6 L868.1,914.6 L855.4,912.3 L847.4,910.0 L843.3,907.8 L840.4,905.5 L838.4,903.2 L836.5,900.4 L833.1,893.3 L831.9,886.2 L831.5,879.1 L831.3,872.0 L831.4,864.9 L832.0,857.8 L832.9,850.7 L833.9,843.6 L834.9,836.5 L836.1,829.4 L837.5,822.3 L839.0,815.2 L840.9,808.1 L842.5,801.0 L843.9,793.9 L846.1,786.8 L847.6,784.0 L849.2,781.7 L851.2,779.5 L854.2,777.2 L859.1,774.9 L869.5,772.6Z" fill="#f1f4f4"/>
<path d="M958.6,772.6 L969.1,774.9 L974.0,777.2 L977.0,779.5 L979.1,781.7 L980.7,784.0 L982.2,786.8 L984.6,793.9 L986.1,801.0 L987.9,808.1 L989.8,815.2 L991.5,822.3 L993.0,829.4 L994.4,836.5 L995.5,843.6 L996.6,850.7 L997.6,857.8 L998.4,864.9 L998.7,872.0 L998.6,879.1 L998.2,886.2 L997.2,893.3 L993.9,900.4 L992.1,903.2 L990.2,905.5 L987.3,907.8 L983.2,910.0 L975.3,912.3 L962.6,914.6 L962.6,914.6 L949.7,912.3 L941.7,910.0 L937.5,907.8 L934.5,905.5 L932.4,903.2 L930.4,900.4 L926.7,893.3 L925.3,886.2 L924.6,879.1 L924.1,872.0 L924.0,864.9 L924.3,857.8 L925.0,850.7 L925.7,843.6 L926.4,836.5 L927.4,829.4 L928.5,822.3 L929.8,815.2 L931.4,808.1 L932.8,801.0 L933.9,793.9 L935.8,786.8 L937.2,784.0 L938.7,781.7 L940.6,779.5 L943.6,777.2 L948.3,774.9 L958.6,772.6Z" fill="#f1f4f4"/>
<path d="M1056.4,772.6 L1066.7,774.9 L1071.5,777.2 L1074.5,779.5 L1076.5,781.7 L1078.0,784.0 L1079.4,786.8 L1081.5,793.9 L1082.7,801.0 L1084.2,808.1 L1085.9,815.2 L1087.3,822.3 L1088.5,829.4 L1089.6,836.5 L1090.4,843.6 L1091.2,850.7 L1092.0,857.8 L1092.4,864.9 L1092.4,872.0 L1092.1,879.1 L1091.4,886.2 L1090.1,893.3 L1086.5,900.4 L1084.6,903.2 L1082.6,905.5 L1079.6,907.8 L1075.4,910.0 L1067.4,912.3 L1054.6,914.6 L1054.6,914.6 L1041.8,912.3 L1033.9,910.0 L1029.8,907.8 L1026.9,905.5 L1024.9,903.2 L1023.0,900.4 L1019.6,893.3 L1018.5,886.2 L1018.0,879.1 L1017.9,872.0 L1018.0,864.9 L1018.7,857.8 L1019.6,850.7 L1020.6,843.6 L1021.6,836.5 L1022.9,829.4 L1024.3,822.3 L1025.8,815.2 L1027.7,808.1 L1029.4,801.0 L1030.8,793.9 L1033.0,786.8 L1034.5,784.0 L1036.1,781.7 L1038.1,779.5 L1041.2,777.2 L1046.0,774.9 L1056.4,772.6Z" fill="#f1f4f4"/>
</g>
<g filter="url(#bl5)">
<ellipse cx="695.7" cy="853.0" rx="30.3" ry="51.3" fill="#fff"/>
<ellipse cx="783.0" cy="853.0" rx="30.3" ry="51.3" fill="#fff"/>
<ellipse cx="868.8" cy="853.0" rx="30.3" ry="51.3" fill="#fff"/>
<ellipse cx="960.6" cy="853.0" rx="30.3" ry="51.3" fill="#fff"/>
<ellipse cx="1055.5" cy="853.0" rx="30.3" ry="51.3" fill="#fff"/>
</g>
<rect x="632.5" y="733.0" width="471.4" height="216.2" filter="url(#fur)" opacity="0.16"/>
<rect x="632.5" y="733.0" width="471.4" height="216.2" filter="url(#furw)" opacity="0.12"/>
<g filter="url(#rag)" fill="#4c48ee">
<ellipse cx="724.3" cy="886.0" rx="12.0" ry="22.6" transform="rotate(12 724.3 886.0)"/>
<ellipse cx="745.4" cy="881.5" rx="8.4" ry="21.1"/>
<ellipse cx="819.2" cy="881.5" rx="9.6" ry="10.5"/>
<ellipse cx="905.0" cy="874.6" rx="8.1" ry="15.1"/>
<ellipse cx="926.0" cy="874.0" rx="4.2" ry="15.1"/>
</g>
<g clip-path="url(#bc2)">
<ellipse cx="731.0" cy="884.5" rx="21.7" ry="28.9" fill="url(#glow)"/>
<ellipse cx="905.6" cy="874.0" rx="12.6" ry="16.3" fill="url(#glow)"/>
<ellipse cx="731.0" cy="884.5" rx="7.2" ry="9.6" fill="url(#hotR)"/>
<ellipse cx="905.6" cy="874.0" rx="4.2" ry="5.4" fill="url(#hotG)"/>
</g>
</g>
<text x="22.3" y="763.0" font-size="35.5" class="my" textLength="86.8" lengthAdjust="spacingAndGlyphs">Day 5</text>
<g clip-path="url(#cp2)">
<rect x="135.8" y="957.5" width="477.6" height="216.3" fill="url(#bgG)"/>
<g filter="url(#bl6)" fill="#161a1a" opacity="0.8">
<ellipse cx="193.8" cy="1067.0" rx="52.2" ry="95.2"/>
<ellipse cx="290.0" cy="1067.0" rx="52.2" ry="95.2"/>
<ellipse cx="376.0" cy="1067.0" rx="52.2" ry="95.2"/>
<ellipse cx="470.0" cy="1067.0" rx="52.2" ry="95.2"/>
<ellipse cx="570.0" cy="1067.0" rx="52.2" ry="95.2"/>
</g>
<rect x="168.6" y="959.5" width="6.4" height="19" rx="3" fill="#1c2222" stroke="#3d4545" stroke-width="1"/>
<rect x="227.6" y="959.5" width="6.4" height="19" rx="3" fill="#1c2222" stroke="#3d4545" stroke-width="1"/>
<rect x="193.8" y="957.5" width="14" height="26.5" fill="#9aa5a5" opacity="0.35"/>
<rect x="196.4" y="957.5" width="3.6" height="23.5" fill="#fff"/>
<rect x="201.4" y="957.5" width="3.6" height="23.5" fill="#fff"/>
<rect x="264.8" y="959.5" width="6.4" height="19" rx="3" fill="#1c2222" stroke="#3d4545" stroke-width="1"/>
<rect x="323.8" y="959.5" width="6.4" height="19" rx="3" fill="#1c2222" stroke="#3d4545" stroke-width="1"/>
<rect x="290.0" y="957.5" width="14" height="26.5" fill="#9aa5a5" opacity="0.35"/>
<rect x="292.7" y="957.5" width="3.6" height="23.5" fill="#fff"/>
<rect x="297.7" y="957.5" width="3.6" height="23.5" fill="#fff"/>
<rect x="350.8" y="959.5" width="6.4" height="19" rx="3" fill="#1c2222" stroke="#3d4545" stroke-width="1"/>
<rect x="409.8" y="959.5" width="6.4" height="19" rx="3" fill="#1c2222" stroke="#3d4545" stroke-width="1"/>
<rect x="376.0" y="957.5" width="14" height="26.5" fill="#9aa5a5" opacity="0.35"/>
<rect x="378.7" y="957.5" width="3.6" height="23.5" fill="#fff"/>
<rect x="383.7" y="957.5" width="3.6" height="23.5" fill="#fff"/>
<rect x="444.8" y="959.5" width="6.4" height="19" rx="3" fill="#1c2222" stroke="#3d4545" stroke-width="1"/>
<rect x="503.8" y="959.5" width="6.4" height="19" rx="3" fill="#1c2222" stroke="#3d4545" stroke-width="1"/>
<rect x="470.0" y="957.5" width="14" height="26.5" fill="#9aa5a5" opacity="0.35"/>
<rect x="472.7" y="957.5" width="3.6" height="23.5" fill="#fff"/>
<rect x="477.7" y="957.5" width="3.6" height="23.5" fill="#fff"/>
<rect x="544.8" y="959.5" width="6.4" height="19" rx="3" fill="#1c2222" stroke="#3d4545" stroke-width="1"/>
<rect x="603.8" y="959.5" width="6.4" height="19" rx="3" fill="#1c2222" stroke="#3d4545" stroke-width="1"/>
<rect x="570.0" y="957.5" width="14" height="26.5" fill="#9aa5a5" opacity="0.35"/>
<rect x="572.7" y="957.5" width="3.6" height="23.5" fill="#fff"/>
<rect x="577.7" y="957.5" width="3.6" height="23.5" fill="#fff"/>
<g filter="url(#bl1)" stroke-linecap="round" fill="none">
<line x1="193.9" y1="1144.0" x2="195.1" y2="1177.8" stroke="#d6d6d6" stroke-width="6.5"/>
<line x1="172.2" y1="1142.0" x2="160.5" y2="1168.9" stroke="#8c8c8c" stroke-width="6"/>
<line x1="215.3" y1="1142.0" x2="225.0" y2="1171.8" stroke="#8c8c8c" stroke-width="6"/>
<line x1="291.0" y1="1144.0" x2="289.4" y2="1177.8" stroke="#d6d6d6" stroke-width="6.5"/>
<line x1="268.4" y1="1142.0" x2="266.1" y2="1169.8" stroke="#8c8c8c" stroke-width="6"/>
<line x1="311.6" y1="1142.0" x2="321.1" y2="1168.5" stroke="#8c8c8c" stroke-width="6"/>
<line x1="376.0" y1="1144.0" x2="375.3" y2="1177.8" stroke="#d6d6d6" stroke-width="6.5"/>
<line x1="354.4" y1="1142.0" x2="343.9" y2="1171.8" stroke="#8c8c8c" stroke-width="6"/>
<line x1="397.6" y1="1142.0" x2="403.6" y2="1171.8" stroke="#8c8c8c" stroke-width="6"/>
<line x1="467.4" y1="1144.0" x2="468.6" y2="1177.8" stroke="#d6d6d6" stroke-width="6.5"/>
<line x1="448.4" y1="1142.0" x2="437.6" y2="1167.5" stroke="#8c8c8c" stroke-width="6"/>
<line x1="491.6" y1="1142.0" x2="500.7" y2="1171.6" stroke="#8c8c8c" stroke-width="6"/>
<line x1="572.7" y1="1144.0" x2="571.6" y2="1177.8" stroke="#d6d6d6" stroke-width="6.5"/>
<line x1="548.4" y1="1142.0" x2="541.0" y2="1171.8" stroke="#8c8c8c" stroke-width="6"/>
<line x1="591.6" y1="1142.0" x2="600.0" y2="1169.1" stroke="#8c8c8c" stroke-width="6"/>
</g>
<g filter="url(#bl2)">
<ellipse cx="166.8" cy="999.9" rx="7.2" ry="4.4" fill="#a4afaf" transform="rotate(-48 166.8 999.9)"/>
<ellipse cx="220.8" cy="999.9" rx="7.2" ry="4.4" fill="#a4afaf" transform="rotate(48 220.8 999.9)"/>
<path d="M196.0,982.0 L208.4,984.7 L214.2,987.4 L217.8,990.2 L220.1,992.9 L221.9,995.6 L223.5,999.0 L225.9,1007.5 L227.3,1016.0 L229.0,1024.5 L230.9,1033.0 L232.4,1041.5 L233.8,1050.0 L234.9,1058.5 L235.9,1067.0 L236.7,1075.5 L237.5,1084.0 L237.9,1092.5 L237.8,1101.0 L237.3,1109.5 L236.4,1118.0 L234.7,1126.5 L230.2,1135.0 L227.9,1138.4 L225.4,1141.1 L221.8,1143.8 L216.7,1146.6 L207.0,1149.3 L191.5,1152.0 L191.5,1152.0 L176.1,1149.3 L166.6,1146.6 L161.7,1143.8 L158.2,1141.1 L155.9,1138.4 L153.6,1135.0 L149.7,1126.5 L148.4,1118.0 L148.0,1109.5 L147.9,1101.0 L148.2,1092.5 L149.1,1084.0 L150.3,1075.5 L151.6,1067.0 L153.0,1058.5 L154.6,1050.0 L156.4,1041.5 L158.4,1033.0 L160.8,1024.5 L162.9,1016.0 L164.8,1007.5 L167.6,999.0 L169.4,995.6 L171.3,992.9 L173.8,990.2 L177.5,987.4 L183.4,984.7 L196.0,982.0Z" fill="#bdc6c6"/>
<ellipse cx="263.0" cy="999.9" rx="7.2" ry="4.4" fill="#a4afaf" transform="rotate(-48 263.0 999.9)"/>
<ellipse cx="317.0" cy="999.9" rx="7.2" ry="4.4" fill="#a4afaf" transform="rotate(48 317.0 999.9)"/>
<path d="M287.6,982.0 L300.2,984.7 L306.1,987.4 L309.8,990.2 L312.3,992.9 L314.2,995.6 L316.1,999.0 L318.9,1007.5 L320.7,1016.0 L322.9,1024.5 L325.3,1033.0 L327.3,1041.5 L329.1,1050.0 L330.7,1058.5 L332.1,1067.0 L333.4,1075.5 L334.7,1084.0 L335.6,1092.5 L335.9,1101.0 L335.8,1109.5 L335.4,1118.0 L334.2,1126.5 L330.2,1135.0 L328.0,1138.4 L325.7,1141.1 L322.2,1143.8 L317.3,1146.6 L307.7,1149.3 L292.4,1152.0 L292.4,1152.0 L276.9,1149.3 L267.2,1146.6 L262.1,1143.8 L258.5,1141.1 L256.0,1138.4 L253.6,1135.0 L249.2,1126.5 L247.4,1118.0 L246.5,1109.5 L246.0,1101.0 L245.8,1092.5 L246.3,1084.0 L247.0,1075.5 L247.9,1067.0 L248.8,1058.5 L249.9,1050.0 L251.3,1041.5 L252.8,1033.0 L254.7,1024.5 L256.4,1016.0 L257.8,1007.5 L260.1,999.0 L261.8,995.6 L263.6,992.9 L265.9,990.2 L269.5,987.4 L275.2,984.7 L287.6,982.0Z" fill="#bdc6c6"/>
<ellipse cx="349.0" cy="999.9" rx="7.2" ry="4.4" fill="#a4afaf" transform="rotate(-48 349.0 999.9)"/>
<ellipse cx="403.0" cy="999.9" rx="7.2" ry="4.4" fill="#a4afaf" transform="rotate(48 403.0 999.9)"/>
<path d="M376.1,982.0 L388.6,984.7 L394.5,987.4 L398.1,990.2 L400.5,992.9 L402.3,995.6 L404.1,999.0 L406.7,1007.5 L408.2,1016.0 L410.1,1024.5 L412.3,1033.0 L414.1,1041.5 L415.6,1050.0 L417.0,1058.5 L418.1,1067.0 L419.2,1075.5 L420.2,1084.0 L420.8,1092.5 L420.9,1101.0 L420.6,1109.5 L419.9,1118.0 L418.4,1126.5 L414.2,1135.0 L411.9,1138.4 L409.5,1141.1 L405.9,1143.8 L400.9,1146.6 L391.3,1149.3 L375.9,1152.0 L375.9,1152.0 L360.4,1149.3 L350.8,1146.6 L345.8,1143.8 L342.3,1141.1 L339.9,1138.4 L337.6,1135.0 L333.4,1126.5 L331.9,1118.0 L331.3,1109.5 L331.0,1101.0 L331.1,1092.5 L331.8,1084.0 L332.8,1075.5 L333.9,1067.0 L335.0,1058.5 L336.4,1050.0 L338.0,1041.5 L339.8,1033.0 L342.0,1024.5 L343.9,1016.0 L345.5,1007.5 L348.1,999.0 L349.9,995.6 L351.7,992.9 L354.2,990.2 L357.8,987.4 L363.6,984.7 L376.1,982.0Z" fill="#bdc6c6"/>
<ellipse cx="443.0" cy="999.9" rx="7.2" ry="4.4" fill="#a4afaf" transform="rotate(-48 443.0 999.9)"/>
<ellipse cx="497.0" cy="999.9" rx="7.2" ry="4.4" fill="#a4afaf" transform="rotate(48 497.0 999.9)"/>
<path d="M467.3,982.0 L479.9,984.7 L485.8,987.4 L489.5,990.2 L492.0,992.9 L494.0,995.6 L495.8,999.0 L498.7,1007.5 L500.5,1016.0 L502.7,1024.5 L505.1,1033.0 L507.2,1041.5 L509.0,1050.0 L510.7,1058.5 L512.1,1067.0 L513.5,1075.5 L514.7,1084.0 L515.7,1092.5 L516.0,1101.0 L516.0,1109.5 L515.6,1118.0 L514.4,1126.5 L510.4,1135.0 L508.3,1138.4 L505.9,1141.1 L502.5,1143.8 L497.6,1146.6 L488.0,1149.3 L472.7,1152.0 L472.7,1152.0 L457.2,1149.3 L447.5,1146.6 L442.4,1143.8 L438.7,1141.1 L436.3,1138.4 L433.8,1135.0 L429.4,1126.5 L427.6,1118.0 L426.7,1109.5 L426.1,1101.0 L425.9,1092.5 L426.3,1084.0 L427.1,1075.5 L427.9,1067.0 L428.8,1058.5 L429.9,1050.0 L431.2,1041.5 L432.7,1033.0 L434.6,1024.5 L436.2,1016.0 L437.6,1007.5 L439.9,999.0 L441.5,995.6 L443.3,992.9 L445.6,990.2 L449.2,987.4 L454.9,984.7 L467.3,982.0Z" fill="#bdc6c6"/>
<ellipse cx="543.0" cy="999.9" rx="7.2" ry="4.4" fill="#a4afaf" transform="rotate(-48 543.0 999.9)"/>
<ellipse cx="597.0" cy="999.9" rx="7.2" ry="4.4" fill="#a4afaf" transform="rotate(48 597.0 999.9)"/>
<path d="M571.9,982.0 L584.4,984.7 L590.1,987.4 L593.7,990.2 L596.1,992.9 L597.8,995.6 L599.5,999.0 L601.9,1007.5 L603.3,1016.0 L605.0,1024.5 L607.0,1033.0 L608.6,1041.5 L610.0,1050.0 L611.2,1058.5 L612.1,1067.0 L613.0,1075.5 L613.8,1084.0 L614.3,1092.5 L614.2,1101.0 L613.7,1109.5 L612.8,1118.0 L611.1,1126.5 L606.8,1135.0 L604.4,1138.4 L601.9,1141.1 L598.3,1143.8 L593.2,1146.6 L583.5,1149.3 L568.1,1152.0 L568.1,1152.0 L552.7,1149.3 L543.1,1146.6 L538.2,1143.8 L534.7,1141.1 L532.4,1138.4 L530.1,1135.0 L526.1,1126.5 L524.9,1118.0 L524.4,1109.5 L524.3,1101.0 L524.5,1092.5 L525.4,1084.0 L526.6,1075.5 L527.9,1067.0 L529.2,1058.5 L530.8,1050.0 L532.6,1041.5 L534.6,1033.0 L536.9,1024.5 L539.0,1016.0 L540.8,1007.5 L543.6,999.0 L545.4,995.6 L547.3,992.9 L549.8,990.2 L553.5,987.4 L559.4,984.7 L571.9,982.0Z" fill="#bdc6c6"/>
</g>
<g filter="url(#bl4)">
<path d="M196.0,1007.5 L207.3,1009.8 L212.5,1012.0 L215.8,1014.3 L217.9,1016.5 L219.5,1018.8 L221.0,1021.6 L223.1,1028.7 L224.4,1035.7 L225.9,1042.8 L227.6,1049.8 L229.0,1056.9 L230.2,1063.9 L231.3,1071.0 L232.1,1078.0 L232.8,1085.1 L233.5,1092.2 L233.9,1099.2 L233.8,1106.3 L233.2,1113.3 L232.4,1120.4 L230.8,1127.4 L226.8,1134.5 L224.6,1137.3 L222.4,1139.6 L219.1,1141.8 L214.4,1144.1 L205.6,1146.3 L191.5,1148.6 L191.5,1148.6 L177.5,1146.3 L168.8,1144.1 L164.4,1141.8 L161.2,1139.6 L159.1,1137.3 L157.1,1134.5 L153.5,1127.4 L152.4,1120.4 L152.0,1113.3 L151.9,1106.3 L152.2,1099.2 L153.1,1092.2 L154.2,1085.1 L155.4,1078.0 L156.7,1071.0 L158.2,1063.9 L159.8,1056.9 L161.7,1049.8 L163.9,1042.8 L165.8,1035.7 L167.5,1028.7 L170.1,1021.6 L171.8,1018.8 L173.5,1016.5 L175.8,1014.3 L179.2,1012.0 L184.6,1009.8 L196.0,1007.5Z" fill="#f1f4f4"/>
<path d="M287.6,1007.5 L299.1,1009.8 L304.4,1012.0 L307.8,1014.3 L310.1,1016.5 L311.9,1018.8 L313.6,1021.6 L316.2,1028.7 L317.8,1035.7 L319.8,1042.8 L322.0,1049.8 L323.9,1056.9 L325.5,1063.9 L327.0,1071.0 L328.3,1078.0 L329.5,1085.1 L330.7,1092.2 L331.5,1099.2 L331.9,1106.3 L331.8,1113.3 L331.5,1120.4 L330.3,1127.4 L326.8,1134.5 L324.8,1137.3 L322.6,1139.6 L319.5,1141.8 L315.0,1144.1 L306.3,1146.3 L292.4,1148.6 L292.4,1148.6 L278.3,1146.3 L269.4,1144.1 L264.8,1141.8 L261.5,1139.6 L259.2,1137.3 L257.0,1134.5 L253.0,1127.4 L251.4,1120.4 L250.6,1113.3 L250.0,1106.3 L249.9,1099.2 L250.3,1092.2 L250.9,1085.1 L251.7,1078.0 L252.5,1071.0 L253.5,1063.9 L254.7,1056.9 L256.1,1049.8 L257.8,1042.8 L259.3,1035.7 L260.5,1028.7 L262.6,1021.6 L264.2,1018.8 L265.7,1016.5 L267.9,1014.3 L271.1,1012.0 L276.3,1009.8 L287.6,1007.5Z" fill="#f1f4f4"/>
<path d="M376.1,1007.5 L387.5,1009.8 L392.8,1012.0 L396.1,1014.3 L398.3,1016.5 L400.0,1018.8 L401.6,1021.6 L403.9,1028.7 L405.3,1035.7 L407.1,1042.8 L409.0,1049.8 L410.6,1056.9 L412.0,1063.9 L413.3,1071.0 L414.3,1078.0 L415.3,1085.1 L416.2,1092.2 L416.8,1099.2 L416.9,1106.3 L416.6,1113.3 L415.9,1120.4 L414.6,1127.4 L410.7,1134.5 L408.6,1137.3 L406.4,1139.6 L403.2,1141.8 L398.7,1144.1 L389.9,1146.3 L375.9,1148.6 L375.9,1148.6 L361.8,1146.3 L353.1,1144.1 L348.5,1141.8 L345.3,1139.6 L343.1,1137.3 L341.0,1134.5 L337.2,1127.4 L335.9,1120.4 L335.3,1113.3 L335.0,1106.3 L335.1,1099.2 L335.7,1092.2 L336.7,1085.1 L337.7,1078.0 L338.7,1071.0 L340.0,1063.9 L341.4,1056.9 L343.1,1049.8 L345.1,1042.8 L346.8,1035.7 L348.3,1028.7 L350.7,1021.6 L352.3,1018.8 L353.9,1016.5 L356.1,1014.3 L359.5,1012.0 L364.8,1009.8 L376.1,1007.5Z" fill="#f1f4f4"/>
<path d="M467.3,1007.5 L478.8,1009.8 L484.2,1012.0 L487.6,1014.3 L489.8,1016.5 L491.6,1018.8 L493.3,1021.6 L495.9,1028.7 L497.7,1035.7 L499.7,1042.8 L501.9,1049.8 L503.8,1056.9 L505.5,1063.9 L507.0,1071.0 L508.3,1078.0 L509.6,1085.1 L510.8,1092.2 L511.6,1099.2 L512.0,1106.3 L512.0,1113.3 L511.6,1120.4 L510.6,1127.4 L507.0,1134.5 L505.0,1137.3 L502.9,1139.6 L499.8,1141.8 L495.3,1144.1 L486.6,1146.3 L472.7,1148.6 L472.7,1148.6 L458.6,1146.3 L449.7,1144.1 L445.1,1141.8 L441.8,1139.6 L439.5,1137.3 L437.3,1134.5 L433.2,1127.4 L431.6,1120.4 L430.7,1113.3 L430.2,1106.3 L430.0,1099.2 L430.3,1092.2 L431.0,1085.1 L431.7,1078.0 L432.5,1071.0 L433.4,1063.9 L434.6,1056.9 L436.0,1049.8 L437.6,1042.8 L439.1,1035.7 L440.3,1028.7 L442.4,1021.6 L443.9,1018.8 L445.5,1016.5 L447.6,1014.3 L450.8,1012.0 L456.0,1009.8 L467.3,1007.5Z" fill="#f1f4f4"/>
<path d="M571.9,1007.5 L583.2,1009.8 L588.5,1012.0 L591.7,1014.3 L593.9,1016.5 L595.5,1018.8 L597.0,1021.6 L599.2,1028.7 L600.4,1035.7 L602.0,1042.8 L603.7,1049.8 L605.2,1056.9 L606.4,1063.9 L607.5,1071.0 L608.3,1078.0 L609.1,1085.1 L609.8,1092.2 L610.3,1099.2 L610.1,1106.3 L609.7,1113.3 L608.9,1120.4 L607.3,1127.4 L603.3,1134.5 L601.1,1137.3 L598.9,1139.6 L595.6,1141.8 L591.0,1144.1 L582.2,1146.3 L568.1,1148.6 L568.1,1148.6 L554.1,1146.3 L545.4,1144.1 L540.9,1141.8 L537.7,1139.6 L535.6,1137.3 L533.6,1134.5 L530.0,1127.4 L528.8,1120.4 L528.4,1113.3 L528.3,1106.3 L528.6,1099.2 L529.4,1092.2 L530.5,1085.1 L531.7,1078.0 L532.9,1071.0 L534.4,1063.9 L536.0,1056.9 L537.8,1049.8 L540.0,1042.8 L541.9,1035.7 L543.5,1028.7 L546.1,1021.6 L547.8,1018.8 L549.5,1016.5 L551.8,1014.3 L555.1,1012.0 L560.5,1009.8 L571.9,1007.5Z" fill="#f1f4f4"/>
</g>
<g filter="url(#bl5)">
<ellipse cx="193.8" cy="1087.4" rx="33.3" ry="51.0" fill="#fff"/>
<ellipse cx="290.0" cy="1087.4" rx="33.3" ry="51.0" fill="#fff"/>
<ellipse cx="376.0" cy="1087.4" rx="33.3" ry="51.0" fill="#fff"/>
<ellipse cx="470.0" cy="1087.4" rx="33.3" ry="51.0" fill="#fff"/>
<ellipse cx="570.0" cy="1087.4" rx="33.3" ry="51.0" fill="#fff"/>
</g>
<rect x="135.8" y="957.5" width="477.6" height="216.3" filter="url(#fur)" opacity="0.16"/>
<rect x="135.8" y="957.5" width="477.6" height="216.3" filter="url(#furw)" opacity="0.12"/>
<g filter="url(#rag)" fill="#4c48ee">
<polygon points="201.2,1120.0 205.0,1100.0 212.5,1085.0 225.0,1075.0 237.5,1076.2 240.2,1083.8 243.8,1072.5 255.0,1070.0 262.5,1085.0 266.2,1105.0 260.0,1125.0 247.5,1135.0 240.0,1130.5 230.0,1140.5 212.5,1138.0 203.8,1130.0"/>
<polygon points="380.0,1112.5 385.0,1090.0 395.0,1075.0 407.5,1067.5 415.0,1075.0 420.0,1100.0 420.0,1120.0 412.5,1140.0 417.5,1157.5 420.0,1163.0 405.0,1147.5 392.5,1145.0 382.5,1132.5"/>
<polygon points="425.0,1100.0 430.0,1075.0 440.0,1055.0 445.0,1032.5 450.0,1035.0 452.5,1057.5 457.5,1075.0 460.0,1100.0 455.0,1125.0 447.5,1145.0 435.0,1147.5 426.2,1125.0"/>
<polygon points="485.0,1120.0 490.0,1100.0 500.0,1085.0 512.5,1080.0 518.8,1100.0 520.0,1120.0 512.5,1145.0 502.5,1150.5 490.0,1142.5"/>
<polygon points="521.2,1105.0 527.5,1080.0 540.0,1070.0 550.0,1080.0 555.0,1100.0 552.5,1125.0 542.5,1140.0 530.0,1137.5 522.5,1122.5"/>
<polygon points="567.5,1120.0 575.0,1097.5 590.0,1085.0 605.0,1082.5 608.8,1105.0 605.0,1135.0 592.5,1150.0 580.0,1153.0 570.0,1140.0"/>
<ellipse cx="321.2" cy="1120.0" rx="2.2" ry="5.0"/>
</g>
<g clip-path="url(#bc3)">
<ellipse cx="231.2" cy="1107.5" rx="16.5" ry="16.5" fill="url(#glow)"/>
<ellipse cx="410.5" cy="1109.2" rx="19.5" ry="28.5" fill="url(#glow)"/>
<ellipse cx="510.5" cy="1112.5" rx="15.0" ry="22.5" fill="url(#glow)"/>
<ellipse cx="595.8" cy="1114.2" rx="24.0" ry="25.5" fill="url(#glow)"/>
<ellipse cx="231.2" cy="1107.5" rx="5.5" ry="5.5" fill="url(#hotC)"/>
<ellipse cx="410.5" cy="1109.2" rx="6.5" ry="9.5" fill="url(#hotR)"/>
<ellipse cx="510.5" cy="1112.5" rx="5.0" ry="7.5" fill="url(#hotG)"/>
<ellipse cx="595.8" cy="1114.2" rx="8.0" ry="8.5" fill="url(#hotR)"/>
</g>
</g>
<g clip-path="url(#cp3)">
<rect x="632.5" y="957.5" width="471.4" height="216.3" fill="url(#bgG)"/>
<g filter="url(#bl6)" fill="#161a1a" opacity="0.8">
<ellipse cx="692.7" cy="1061.5" rx="49.9" ry="96.9"/>
<ellipse cx="784.5" cy="1061.5" rx="49.9" ry="96.9"/>
<ellipse cx="876.4" cy="1061.5" rx="49.9" ry="96.9"/>
<ellipse cx="966.7" cy="1061.5" rx="49.9" ry="96.9"/>
<ellipse cx="1058.5" cy="1061.5" rx="49.9" ry="96.9"/>
</g>
<rect x="667.5" y="959.5" width="6.4" height="19" rx="3" fill="#1c2222" stroke="#3d4545" stroke-width="1"/>
<rect x="726.5" y="959.5" width="6.4" height="19" rx="3" fill="#1c2222" stroke="#3d4545" stroke-width="1"/>
<rect x="692.7" y="957.5" width="14" height="19.5" fill="#9aa5a5" opacity="0.35"/>
<rect x="695.4" y="957.5" width="3.6" height="16.5" fill="#fff"/>
<rect x="700.4" y="957.5" width="3.6" height="16.5" fill="#fff"/>
<rect x="759.3" y="959.5" width="6.4" height="19" rx="3" fill="#1c2222" stroke="#3d4545" stroke-width="1"/>
<rect x="818.3" y="959.5" width="6.4" height="19" rx="3" fill="#1c2222" stroke="#3d4545" stroke-width="1"/>
<rect x="784.5" y="957.5" width="14" height="19.5" fill="#9aa5a5" opacity="0.35"/>
<rect x="787.2" y="957.5" width="3.6" height="16.5" fill="#fff"/>
<rect x="792.2" y="957.5" width="3.6" height="16.5" fill="#fff"/>
<rect x="851.2" y="959.5" width="6.4" height="19" rx="3" fill="#1c2222" stroke="#3d4545" stroke-width="1"/>
<rect x="910.2" y="959.5" width="6.4" height="19" rx="3" fill="#1c2222" stroke="#3d4545" stroke-width="1"/>
<rect x="876.4" y="957.5" width="14" height="19.5" fill="#9aa5a5" opacity="0.35"/>
<rect x="879.1" y="957.5" width="3.6" height="16.5" fill="#fff"/>
<rect x="884.1" y="957.5" width="3.6" height="16.5" fill="#fff"/>
<rect x="941.5" y="959.5" width="6.4" height="19" rx="3" fill="#1c2222" stroke="#3d4545" stroke-width="1"/>
<rect x="1000.5" y="959.5" width="6.4" height="19" rx="3" fill="#1c2222" stroke="#3d4545" stroke-width="1"/>
<rect x="966.7" y="957.5" width="14" height="19.5" fill="#9aa5a5" opacity="0.35"/>
<rect x="969.4" y="957.5" width="3.6" height="16.5" fill="#fff"/>
<rect x="974.4" y="957.5" width="3.6" height="16.5" fill="#fff"/>
<rect x="1033.3" y="959.5" width="6.4" height="19" rx="3" fill="#1c2222" stroke="#3d4545" stroke-width="1"/>
<rect x="1092.3" y="959.5" width="6.4" height="19" rx="3" fill="#1c2222" stroke="#3d4545" stroke-width="1"/>
<rect x="1058.5" y="957.5" width="14" height="19.5" fill="#9aa5a5" opacity="0.35"/>
<rect x="1061.2" y="957.5" width="3.6" height="16.5" fill="#fff"/>
<rect x="1066.2" y="957.5" width="3.6" height="16.5" fill="#fff"/>
<g filter="url(#bl1)" stroke-linecap="round" fill="none">
<line x1="694.0" y1="1140.0" x2="695.3" y2="1177.8" stroke="#d6d6d6" stroke-width="6.5"/>
<line x1="672.1" y1="1138.0" x2="668.2" y2="1171.8" stroke="#8c8c8c" stroke-width="6"/>
<line x1="713.3" y1="1138.0" x2="717.3" y2="1168.7" stroke="#8c8c8c" stroke-width="6"/>
<line x1="782.1" y1="1140.0" x2="783.1" y2="1177.8" stroke="#d6d6d6" stroke-width="6.5"/>
<line x1="763.9" y1="1138.0" x2="760.3" y2="1169.1" stroke="#8c8c8c" stroke-width="6"/>
<line x1="805.1" y1="1138.0" x2="814.4" y2="1169.7" stroke="#8c8c8c" stroke-width="6"/>
<line x1="876.0" y1="1140.0" x2="877.5" y2="1177.8" stroke="#d6d6d6" stroke-width="6.5"/>
<line x1="855.8" y1="1138.0" x2="843.9" y2="1163.2" stroke="#8c8c8c" stroke-width="6"/>
<line x1="897.0" y1="1138.0" x2="904.2" y2="1171.6" stroke="#8c8c8c" stroke-width="6"/>
<line x1="968.1" y1="1140.0" x2="967.9" y2="1177.8" stroke="#d6d6d6" stroke-width="6.5"/>
<line x1="946.1" y1="1138.0" x2="941.0" y2="1171.5" stroke="#8c8c8c" stroke-width="6"/>
<line x1="987.3" y1="1138.0" x2="990.2" y2="1169.6" stroke="#8c8c8c" stroke-width="6"/>
<line x1="1060.6" y1="1140.0" x2="1059.2" y2="1177.8" stroke="#d6d6d6" stroke-width="6.5"/>
<line x1="1037.9" y1="1138.0" x2="1032.6" y2="1165.1" stroke="#8c8c8c" stroke-width="6"/>
<line x1="1079.1" y1="1138.0" x2="1086.6" y2="1165.7" stroke="#8c8c8c" stroke-width="6"/>
</g>
<g filter="url(#bl2)">
<ellipse cx="666.9" cy="993.2" rx="6.9" ry="4.5" fill="#a4afaf" transform="rotate(-48 666.9 993.2)"/>
<ellipse cx="718.5" cy="993.2" rx="6.9" ry="4.5" fill="#a4afaf" transform="rotate(48 718.5 993.2)"/>
<path d="M690.7,975.0 L702.7,977.8 L708.3,980.5 L711.9,983.3 L714.2,986.1 L716.0,988.8 L717.8,992.3 L720.5,1001.0 L722.2,1009.6 L724.2,1018.2 L726.5,1026.9 L728.4,1035.5 L730.1,1044.2 L731.6,1052.8 L732.9,1061.5 L734.2,1070.2 L735.3,1078.8 L736.2,1087.5 L736.5,1096.1 L736.4,1104.8 L736.0,1113.4 L734.7,1122.0 L730.9,1130.7 L728.8,1134.2 L726.6,1136.9 L723.3,1139.7 L718.5,1142.5 L709.4,1145.2 L694.7,1148.0 L694.7,1148.0 L679.9,1145.2 L670.7,1142.5 L665.8,1139.7 L662.4,1136.9 L660.0,1134.2 L657.7,1130.7 L653.5,1122.0 L651.9,1113.4 L651.1,1104.8 L650.5,1096.1 L650.4,1087.5 L650.9,1078.8 L651.6,1070.2 L652.5,1061.5 L653.4,1052.8 L654.5,1044.2 L655.8,1035.5 L657.3,1026.9 L659.1,1018.2 L660.8,1009.6 L662.1,1001.0 L664.3,992.3 L666.0,988.8 L667.6,986.1 L669.9,983.3 L673.3,980.5 L678.8,977.8 L690.7,975.0Z" fill="#bdc6c6"/>
<ellipse cx="758.7" cy="993.2" rx="6.9" ry="4.5" fill="#a4afaf" transform="rotate(-48 758.7 993.2)"/>
<ellipse cx="810.3" cy="993.2" rx="6.9" ry="4.5" fill="#a4afaf" transform="rotate(48 810.3 993.2)"/>
<path d="M782.3,975.0 L794.3,977.8 L800.0,980.5 L803.5,983.3 L805.9,986.1 L807.7,988.8 L809.5,992.3 L812.2,1001.0 L813.9,1009.6 L816.0,1018.2 L818.2,1026.9 L820.2,1035.5 L821.9,1044.2 L823.4,1052.8 L824.7,1061.5 L826.0,1070.2 L827.2,1078.8 L828.0,1087.5 L828.3,1096.1 L828.2,1104.8 L827.8,1113.4 L826.6,1122.0 L822.9,1130.7 L820.7,1134.2 L818.5,1136.9 L815.2,1139.7 L810.5,1142.5 L801.4,1145.2 L786.7,1148.0 L786.7,1148.0 L771.9,1145.2 L762.6,1142.5 L757.8,1139.7 L754.3,1136.9 L751.9,1134.2 L749.7,1130.7 L745.4,1122.0 L743.8,1113.4 L742.9,1104.8 L742.4,1096.1 L742.3,1087.5 L742.7,1078.8 L743.4,1070.2 L744.3,1061.5 L745.1,1052.8 L746.2,1044.2 L747.5,1035.5 L749.0,1026.9 L750.8,1018.2 L752.5,1009.6 L753.8,1001.0 L756.0,992.3 L757.6,988.8 L759.3,986.1 L761.5,983.3 L764.9,980.5 L770.4,977.8 L782.3,975.0Z" fill="#bdc6c6"/>
<ellipse cx="850.6" cy="993.2" rx="6.9" ry="4.5" fill="#a4afaf" transform="rotate(-48 850.6 993.2)"/>
<ellipse cx="902.2" cy="993.2" rx="6.9" ry="4.5" fill="#a4afaf" transform="rotate(48 902.2 993.2)"/>
<path d="M877.3,975.0 L889.3,977.8 L894.8,980.5 L898.2,983.3 L900.5,986.1 L902.2,988.8 L903.9,992.3 L906.3,1001.0 L907.7,1009.6 L909.4,1018.2 L911.4,1026.9 L913.0,1035.5 L914.4,1044.2 L915.6,1052.8 L916.6,1061.5 L917.6,1070.2 L918.4,1078.8 L919.0,1087.5 L919.0,1096.1 L918.6,1104.8 L917.9,1113.4 L916.4,1122.0 L912.2,1130.7 L910.0,1134.2 L907.7,1136.9 L904.3,1139.7 L899.4,1142.5 L890.2,1145.2 L875.5,1148.0 L875.5,1148.0 L860.7,1145.2 L851.6,1142.5 L846.8,1139.7 L843.5,1136.9 L841.2,1134.2 L839.0,1130.7 L835.1,1122.0 L833.8,1113.4 L833.3,1104.8 L833.1,1096.1 L833.2,1087.5 L834.0,1078.8 L835.0,1070.2 L836.2,1061.5 L837.3,1052.8 L838.8,1044.2 L840.4,1035.5 L842.2,1026.9 L844.3,1018.2 L846.2,1009.6 L847.9,1001.0 L850.4,992.3 L852.2,988.8 L853.9,986.1 L856.3,983.3 L859.8,980.5 L865.4,977.8 L877.3,975.0Z" fill="#bdc6c6"/>
<ellipse cx="940.9" cy="993.2" rx="6.9" ry="4.5" fill="#a4afaf" transform="rotate(-48 940.9 993.2)"/>
<ellipse cx="992.5" cy="993.2" rx="6.9" ry="4.5" fill="#a4afaf" transform="rotate(48 992.5 993.2)"/>
<path d="M964.7,975.0 L976.7,977.8 L982.3,980.5 L985.9,983.3 L988.2,986.1 L990.0,988.8 L991.8,992.3 L994.5,1001.0 L996.2,1009.6 L998.2,1018.2 L1000.5,1026.9 L1002.4,1035.5 L1004.1,1044.2 L1005.6,1052.8 L1006.9,1061.5 L1008.2,1070.2 L1009.3,1078.8 L1010.2,1087.5 L1010.5,1096.1 L1010.4,1104.8 L1010.0,1113.4 L1008.7,1122.0 L1004.9,1130.7 L1002.8,1134.2 L1000.6,1136.9 L997.3,1139.7 L992.5,1142.5 L983.4,1145.2 L968.7,1148.0 L968.7,1148.0 L953.9,1145.2 L944.7,1142.5 L939.8,1139.7 L936.4,1136.9 L934.0,1134.2 L931.7,1130.7 L927.5,1122.0 L925.9,1113.4 L925.1,1104.8 L924.5,1096.1 L924.4,1087.5 L924.9,1078.8 L925.6,1070.2 L926.5,1061.5 L927.4,1052.8 L928.5,1044.2 L929.8,1035.5 L931.3,1026.9 L933.1,1018.2 L934.8,1009.6 L936.1,1001.0 L938.3,992.3 L939.9,988.8 L941.6,986.1 L943.9,983.3 L947.3,980.5 L952.8,977.8 L964.7,975.0Z" fill="#bdc6c6"/>
<ellipse cx="1032.7" cy="993.2" rx="6.9" ry="4.5" fill="#a4afaf" transform="rotate(-48 1032.7 993.2)"/>
<ellipse cx="1084.3" cy="993.2" rx="6.9" ry="4.5" fill="#a4afaf" transform="rotate(48 1084.3 993.2)"/>
<path d="M1060.7,975.0 L1072.6,977.8 L1078.1,980.5 L1081.5,983.3 L1083.7,986.1 L1085.4,988.8 L1087.0,992.3 L1089.3,1001.0 L1090.6,1009.6 L1092.2,1018.2 L1094.0,1026.9 L1095.5,1035.5 L1096.8,1044.2 L1097.9,1052.8 L1098.7,1061.5 L1099.6,1070.2 L1100.3,1078.8 L1100.7,1087.5 L1100.6,1096.1 L1100.0,1104.8 L1099.2,1113.4 L1097.6,1122.0 L1093.3,1130.7 L1091.0,1134.2 L1088.7,1136.9 L1085.2,1139.7 L1080.4,1142.5 L1071.1,1145.2 L1056.3,1148.0 L1056.3,1148.0 L1041.6,1145.2 L1032.5,1142.5 L1027.8,1139.7 L1024.5,1136.9 L1022.2,1134.2 L1020.1,1130.7 L1016.3,1122.0 L1015.1,1113.4 L1014.7,1104.8 L1014.6,1096.1 L1015.0,1087.5 L1015.8,1078.8 L1017.0,1070.2 L1018.3,1061.5 L1019.6,1052.8 L1021.1,1044.2 L1022.8,1035.5 L1024.8,1026.9 L1027.0,1018.2 L1029.1,1009.6 L1030.8,1001.0 L1033.5,992.3 L1035.3,988.8 L1037.1,986.1 L1039.5,983.3 L1043.1,980.5 L1048.7,977.8 L1060.7,975.0Z" fill="#bdc6c6"/>
</g>
<g filter="url(#bl4)">
<path d="M690.7,1001.0 L701.6,1003.2 L706.7,1005.5 L710.0,1007.8 L712.1,1010.1 L713.8,1012.4 L715.4,1015.3 L717.9,1022.5 L719.4,1029.7 L721.3,1036.8 L723.4,1044.0 L725.1,1051.2 L726.7,1058.4 L728.1,1065.6 L729.3,1072.7 L730.5,1079.9 L731.5,1087.1 L732.3,1094.3 L732.6,1101.5 L732.5,1108.6 L732.2,1115.8 L731.1,1123.0 L727.6,1130.2 L725.7,1133.1 L723.7,1135.4 L720.7,1137.6 L716.4,1139.9 L708.1,1142.2 L694.7,1144.5 L694.7,1144.5 L681.3,1142.2 L672.8,1139.9 L668.4,1137.6 L665.3,1135.4 L663.1,1133.1 L661.0,1130.2 L657.2,1123.0 L655.7,1115.8 L654.9,1108.6 L654.4,1101.5 L654.3,1094.3 L654.7,1087.1 L655.3,1079.9 L656.1,1072.7 L656.9,1065.6 L657.9,1058.4 L659.0,1051.2 L660.4,1044.0 L662.1,1036.8 L663.5,1029.7 L664.7,1022.5 L666.8,1015.3 L668.2,1012.4 L669.7,1010.1 L671.8,1007.8 L674.9,1005.5 L679.9,1003.2 L690.7,1001.0Z" fill="#f1f4f4"/>
<path d="M782.3,1001.0 L793.2,1003.2 L798.4,1005.5 L801.6,1007.8 L803.8,1010.1 L805.4,1012.4 L807.1,1015.3 L809.5,1022.5 L811.1,1029.7 L813.0,1036.8 L815.1,1044.0 L816.9,1051.2 L818.5,1058.4 L819.9,1065.6 L821.1,1072.7 L822.3,1079.9 L823.4,1087.1 L824.2,1094.3 L824.5,1101.5 L824.4,1108.6 L824.1,1115.8 L823.0,1123.0 L819.6,1130.2 L817.6,1133.1 L815.6,1135.4 L812.6,1137.6 L808.3,1139.9 L800.0,1142.2 L786.7,1144.5 L786.7,1144.5 L773.2,1142.2 L764.8,1139.9 L760.3,1137.6 L757.2,1135.4 L755.0,1133.1 L752.9,1130.2 L749.1,1123.0 L747.6,1115.8 L746.8,1108.6 L746.3,1101.5 L746.1,1094.3 L746.5,1087.1 L747.2,1079.9 L747.9,1072.7 L748.7,1065.6 L749.6,1058.4 L750.8,1051.2 L752.1,1044.0 L753.8,1036.8 L755.2,1029.7 L756.4,1022.5 L758.4,1015.3 L759.9,1012.4 L761.4,1010.1 L763.4,1007.8 L766.5,1005.5 L771.5,1003.2 L782.3,1001.0Z" fill="#f1f4f4"/>
<path d="M877.3,1001.0 L888.2,1003.2 L893.2,1005.5 L896.4,1007.8 L898.4,1010.1 L900.0,1012.4 L901.5,1015.3 L903.6,1022.5 L904.9,1029.7 L906.5,1036.8 L908.3,1044.0 L909.7,1051.2 L911.0,1058.4 L912.1,1065.6 L913.0,1072.7 L913.9,1079.9 L914.6,1087.1 L915.1,1094.3 L915.1,1101.5 L914.7,1108.6 L914.1,1115.8 L912.7,1123.0 L908.9,1130.2 L906.9,1133.1 L904.8,1135.4 L901.7,1137.6 L897.3,1139.9 L888.9,1142.2 L875.5,1144.5 L875.5,1144.5 L862.1,1142.2 L853.7,1139.9 L849.4,1137.6 L846.4,1135.4 L844.3,1133.1 L842.3,1130.2 L838.8,1123.0 L837.6,1115.8 L837.1,1108.6 L836.9,1101.5 L837.1,1094.3 L837.8,1087.1 L838.7,1079.9 L839.8,1072.7 L840.9,1065.6 L842.2,1058.4 L843.6,1051.2 L845.3,1044.0 L847.2,1036.8 L849.0,1029.7 L850.5,1022.5 L852.8,1015.3 L854.4,1012.4 L856.0,1010.1 L858.2,1007.8 L861.4,1005.5 L866.4,1003.2 L877.3,1001.0Z" fill="#f1f4f4"/>
<path d="M964.7,1001.0 L975.6,1003.2 L980.7,1005.5 L984.0,1007.8 L986.1,1010.1 L987.8,1012.4 L989.4,1015.3 L991.9,1022.5 L993.4,1029.7 L995.3,1036.8 L997.4,1044.0 L999.1,1051.2 L1000.7,1058.4 L1002.1,1065.6 L1003.3,1072.7 L1004.5,1079.9 L1005.5,1087.1 L1006.3,1094.3 L1006.6,1101.5 L1006.5,1108.6 L1006.2,1115.8 L1005.1,1123.0 L1001.6,1130.2 L999.7,1133.1 L997.7,1135.4 L994.7,1137.6 L990.4,1139.9 L982.1,1142.2 L968.7,1144.5 L968.7,1144.5 L955.3,1142.2 L946.8,1139.9 L942.4,1137.6 L939.3,1135.4 L937.1,1133.1 L935.0,1130.2 L931.2,1123.0 L929.7,1115.8 L928.9,1108.6 L928.4,1101.5 L928.3,1094.3 L928.7,1087.1 L929.3,1079.9 L930.1,1072.7 L930.9,1065.6 L931.9,1058.4 L933.0,1051.2 L934.4,1044.0 L936.0,1036.8 L937.5,1029.7 L938.7,1022.5 L940.7,1015.3 L942.2,1012.4 L943.7,1010.1 L945.8,1007.8 L948.9,1005.5 L953.9,1003.2 L964.7,1001.0Z" fill="#f1f4f4"/>
<path d="M1060.7,1001.0 L1071.5,1003.2 L1076.5,1005.5 L1079.6,1007.8 L1081.6,1010.1 L1083.2,1012.4 L1084.6,1015.3 L1086.6,1022.5 L1087.8,1029.7 L1089.2,1036.8 L1090.9,1044.0 L1092.2,1051.2 L1093.4,1058.4 L1094.3,1065.6 L1095.1,1072.7 L1095.8,1079.9 L1096.5,1087.1 L1096.9,1094.3 L1096.7,1101.5 L1096.2,1108.6 L1095.4,1115.8 L1093.9,1123.0 L1090.0,1130.2 L1087.9,1133.1 L1085.8,1135.4 L1082.6,1137.6 L1078.2,1139.9 L1069.8,1142.2 L1056.3,1144.5 L1056.3,1144.5 L1042.9,1142.2 L1034.6,1139.9 L1030.4,1137.6 L1027.4,1135.4 L1025.3,1133.1 L1023.4,1130.2 L1020.0,1123.0 L1018.9,1115.8 L1018.6,1108.6 L1018.5,1101.5 L1018.8,1094.3 L1019.6,1087.1 L1020.7,1079.9 L1021.9,1072.7 L1023.1,1065.6 L1024.5,1058.4 L1026.1,1051.2 L1027.9,1044.0 L1030.0,1036.8 L1031.9,1029.7 L1033.5,1022.5 L1036.0,1015.3 L1037.6,1012.4 L1039.2,1010.1 L1041.4,1007.8 L1044.6,1005.5 L1049.8,1003.2 L1060.7,1001.0Z" fill="#f1f4f4"/>
</g>
<g filter="url(#bl5)">
<ellipse cx="692.7" cy="1082.3" rx="31.8" ry="51.9" fill="#fff"/>
<ellipse cx="784.5" cy="1082.3" rx="31.8" ry="51.9" fill="#fff"/>
<ellipse cx="876.4" cy="1082.3" rx="31.8" ry="51.9" fill="#fff"/>
<ellipse cx="966.7" cy="1082.3" rx="31.8" ry="51.9" fill="#fff"/>
<ellipse cx="1058.5" cy="1082.3" rx="31.8" ry="51.9" fill="#fff"/>
</g>
<rect x="632.5" y="957.5" width="471.4" height="216.3" filter="url(#fur)" opacity="0.16"/>
<rect x="632.5" y="957.5" width="471.4" height="216.3" filter="url(#furw)" opacity="0.12"/>
<g filter="url(#rag)" fill="#4c48ee">
<ellipse cx="727.3" cy="1109.5" rx="7.5" ry="9.0"/>
<ellipse cx="821.3" cy="1116.2" rx="9.9" ry="18.7"/>
<ellipse cx="841.7" cy="1114.1" rx="6.6" ry="18.7"/>
<ellipse cx="1005.8" cy="1106.5" rx="4.2" ry="9.6"/>
<ellipse cx="1018.4" cy="1110.1" rx="3.6" ry="10.8"/>
<ellipse cx="1091.0" cy="1114.1" rx="8.4" ry="15.7"/>
</g>
</g>
<text x="22.3" y="987.2" font-size="35.5" class="my" textLength="88.3" lengthAdjust="spacingAndGlyphs">Day 8</text>
<g clip-path="url(#cp4)">
<rect x="135.8" y="1180.3" width="477.6" height="216.3" fill="url(#bgG)"/>
<g filter="url(#bl6)" fill="#161a1a" opacity="0.8">
<ellipse cx="185.0" cy="1287.0" rx="55.1" ry="100.8"/>
<ellipse cx="277.5" cy="1287.0" rx="55.1" ry="100.8"/>
<ellipse cx="366.0" cy="1287.0" rx="55.1" ry="100.8"/>
<ellipse cx="460.0" cy="1287.0" rx="55.1" ry="100.8"/>
<ellipse cx="562.5" cy="1287.0" rx="55.1" ry="100.8"/>
</g>
<rect x="159.8" y="1182.3" width="6.4" height="19" rx="3" fill="#1c2222" stroke="#3d4545" stroke-width="1"/>
<rect x="218.8" y="1182.3" width="6.4" height="19" rx="3" fill="#1c2222" stroke="#3d4545" stroke-width="1"/>
<rect x="185.0" y="1180.3" width="14" height="18.7" fill="#9aa5a5" opacity="0.35"/>
<rect x="187.7" y="1180.3" width="3.6" height="15.7" fill="#fff"/>
<rect x="192.7" y="1180.3" width="3.6" height="15.7" fill="#fff"/>
<rect x="252.3" y="1182.3" width="6.4" height="19" rx="3" fill="#1c2222" stroke="#3d4545" stroke-width="1"/>
<rect x="311.3" y="1182.3" width="6.4" height="19" rx="3" fill="#1c2222" stroke="#3d4545" stroke-width="1"/>
<rect x="277.5" y="1180.3" width="14" height="18.7" fill="#9aa5a5" opacity="0.35"/>
<rect x="280.2" y="1180.3" width="3.6" height="15.7" fill="#fff"/>
<rect x="285.2" y="1180.3" width="3.6" height="15.7" fill="#fff"/>
<rect x="340.8" y="1182.3" width="6.4" height="19" rx="3" fill="#1c2222" stroke="#3d4545" stroke-width="1"/>
<rect x="399.8" y="1182.3" width="6.4" height="19" rx="3" fill="#1c2222" stroke="#3d4545" stroke-width="1"/>
<rect x="366.0" y="1180.3" width="14" height="18.7" fill="#9aa5a5" opacity="0.35"/>
<rect x="368.7" y="1180.3" width="3.6" height="15.7" fill="#fff"/>
<rect x="373.7" y="1180.3" width="3.6" height="15.7" fill="#fff"/>
<rect x="434.8" y="1182.3" width="6.4" height="19" rx="3" fill="#1c2222" stroke="#3d4545" stroke-width="1"/>
<rect x="493.8" y="1182.3" width="6.4" height="19" rx="3" fill="#1c2222" stroke="#3d4545" stroke-width="1"/>
<rect x="460.0" y="1180.3" width="14" height="18.7" fill="#9aa5a5" opacity="0.35"/>
<rect x="462.7" y="1180.3" width="3.6" height="15.7" fill="#fff"/>
<rect x="467.7" y="1180.3" width="3.6" height="15.7" fill="#fff"/>
<rect x="537.3" y="1182.3" width="6.4" height="19" rx="3" fill="#1c2222" stroke="#3d4545" stroke-width="1"/>
<rect x="596.3" y="1182.3" width="6.4" height="19" rx="3" fill="#1c2222" stroke="#3d4545" stroke-width="1"/>
<rect x="562.5" y="1180.3" width="14" height="18.7" fill="#9aa5a5" opacity="0.35"/>
<rect x="565.2" y="1180.3" width="3.6" height="15.7" fill="#fff"/>
<rect x="570.2" y="1180.3" width="3.6" height="15.7" fill="#fff"/>
<g filter="url(#bl1)" stroke-linecap="round" fill="none">
<line x1="182.1" y1="1369.0" x2="180.5" y2="1400.6" stroke="#d6d6d6" stroke-width="6.5"/>
<line x1="162.2" y1="1367.0" x2="156.3" y2="1394.6" stroke="#8c8c8c" stroke-width="6"/>
<line x1="207.8" y1="1367.0" x2="211.2" y2="1392.1" stroke="#8c8c8c" stroke-width="6"/>
<line x1="275.9" y1="1369.0" x2="276.9" y2="1400.6" stroke="#d6d6d6" stroke-width="6.5"/>
<line x1="254.7" y1="1367.0" x2="251.2" y2="1394.6" stroke="#8c8c8c" stroke-width="6"/>
<line x1="300.3" y1="1367.0" x2="308.9" y2="1392.4" stroke="#8c8c8c" stroke-width="6"/>
<line x1="366.2" y1="1369.0" x2="366.0" y2="1400.6" stroke="#d6d6d6" stroke-width="6.5"/>
<line x1="343.2" y1="1367.0" x2="337.1" y2="1394.6" stroke="#8c8c8c" stroke-width="6"/>
<line x1="388.8" y1="1367.0" x2="391.7" y2="1391.2" stroke="#8c8c8c" stroke-width="6"/>
<line x1="462.6" y1="1369.0" x2="462.3" y2="1400.6" stroke="#d6d6d6" stroke-width="6.5"/>
<line x1="437.2" y1="1367.0" x2="433.2" y2="1394.3" stroke="#8c8c8c" stroke-width="6"/>
<line x1="482.8" y1="1367.0" x2="488.4" y2="1394.6" stroke="#8c8c8c" stroke-width="6"/>
<line x1="560.8" y1="1369.0" x2="559.6" y2="1400.6" stroke="#d6d6d6" stroke-width="6.5"/>
<line x1="539.7" y1="1367.0" x2="531.9" y2="1394.6" stroke="#8c8c8c" stroke-width="6"/>
<line x1="585.3" y1="1367.0" x2="596.8" y2="1394.6" stroke="#8c8c8c" stroke-width="6"/>
</g>
<g filter="url(#bl2)">
<ellipse cx="156.5" cy="1215.9" rx="7.6" ry="4.7" fill="#a4afaf" transform="rotate(-48 156.5 1215.9)"/>
<ellipse cx="213.5" cy="1215.9" rx="7.6" ry="4.7" fill="#a4afaf" transform="rotate(48 213.5 1215.9)"/>
<path d="M185.8,1197.0 L199.0,1199.9 L205.1,1202.8 L208.9,1205.6 L211.4,1208.5 L213.4,1211.4 L215.2,1215.0 L217.8,1224.0 L219.4,1233.0 L221.4,1242.0 L223.6,1251.0 L225.4,1260.0 L226.9,1269.0 L228.3,1278.0 L229.5,1287.0 L230.5,1296.0 L231.5,1305.0 L232.1,1314.0 L232.1,1323.0 L231.7,1332.0 L230.9,1341.0 L229.3,1350.0 L224.8,1359.0 L222.3,1362.6 L219.7,1365.5 L216.0,1368.4 L210.7,1371.2 L200.5,1374.1 L184.2,1377.0 L184.2,1377.0 L167.9,1374.1 L157.8,1371.2 L152.5,1368.4 L148.8,1365.5 L146.3,1362.6 L143.9,1359.0 L139.6,1350.0 L138.1,1341.0 L137.5,1332.0 L137.2,1323.0 L137.4,1314.0 L138.2,1305.0 L139.3,1296.0 L140.5,1287.0 L141.8,1278.0 L143.4,1269.0 L145.1,1260.0 L147.1,1251.0 L149.4,1242.0 L151.6,1233.0 L153.3,1224.0 L156.1,1215.0 L158.0,1211.4 L160.0,1208.5 L162.6,1205.6 L166.4,1202.8 L172.6,1199.9 L185.8,1197.0Z" fill="#bdc6c6"/>
<ellipse cx="249.0" cy="1215.9" rx="7.6" ry="4.7" fill="#a4afaf" transform="rotate(-48 249.0 1215.9)"/>
<ellipse cx="306.0" cy="1215.9" rx="7.6" ry="4.7" fill="#a4afaf" transform="rotate(48 306.0 1215.9)"/>
<path d="M279.2,1197.0 L292.3,1199.9 L298.4,1202.8 L302.2,1205.6 L304.7,1208.5 L306.6,1211.4 L308.4,1215.0 L311.0,1224.0 L312.5,1233.0 L314.3,1242.0 L316.4,1251.0 L318.1,1260.0 L319.6,1269.0 L320.9,1278.0 L322.0,1287.0 L322.9,1296.0 L323.8,1305.0 L324.4,1314.0 L324.3,1323.0 L323.8,1332.0 L322.9,1341.0 L321.2,1350.0 L316.6,1359.0 L314.1,1362.6 L311.5,1365.5 L307.7,1368.4 L302.4,1371.2 L292.1,1374.1 L275.8,1377.0 L275.8,1377.0 L259.6,1374.1 L249.5,1371.2 L244.2,1368.4 L240.6,1365.5 L238.1,1362.6 L235.7,1359.0 L231.5,1350.0 L230.1,1341.0 L229.5,1332.0 L229.4,1323.0 L229.6,1314.0 L230.5,1305.0 L231.7,1296.0 L233.0,1287.0 L234.4,1278.0 L236.1,1269.0 L237.9,1260.0 L239.9,1251.0 L242.4,1242.0 L244.6,1233.0 L246.4,1224.0 L249.3,1215.0 L251.3,1211.4 L253.2,1208.5 L255.8,1205.6 L259.7,1202.8 L265.9,1199.9 L279.2,1197.0Z" fill="#bdc6c6"/>
<ellipse cx="337.5" cy="1215.9" rx="7.6" ry="4.7" fill="#a4afaf" transform="rotate(-48 337.5 1215.9)"/>
<ellipse cx="394.5" cy="1215.9" rx="7.6" ry="4.7" fill="#a4afaf" transform="rotate(48 394.5 1215.9)"/>
<path d="M364.1,1197.0 L377.3,1199.9 L383.5,1202.8 L387.5,1205.6 L390.1,1208.5 L392.1,1211.4 L394.0,1215.0 L396.9,1224.0 L398.8,1233.0 L401.0,1242.0 L403.5,1251.0 L405.6,1260.0 L407.4,1269.0 L409.1,1278.0 L410.5,1287.0 L411.8,1296.0 L413.0,1305.0 L413.9,1314.0 L414.2,1323.0 L414.1,1332.0 L413.6,1341.0 L412.2,1350.0 L408.0,1359.0 L405.6,1362.6 L403.1,1365.5 L399.5,1368.4 L394.2,1371.2 L384.1,1374.1 L367.9,1377.0 L367.9,1377.0 L351.6,1374.1 L341.4,1371.2 L336.0,1368.4 L332.2,1365.5 L329.6,1362.6 L327.1,1359.0 L322.5,1350.0 L320.7,1341.0 L319.8,1332.0 L319.3,1323.0 L319.2,1314.0 L319.7,1305.0 L320.6,1296.0 L321.5,1287.0 L322.6,1278.0 L323.8,1269.0 L325.3,1260.0 L327.0,1251.0 L329.1,1242.0 L330.9,1233.0 L332.4,1224.0 L334.9,1215.0 L336.7,1211.4 L338.6,1208.5 L341.1,1205.6 L344.9,1202.8 L350.9,1199.9 L364.1,1197.0Z" fill="#bdc6c6"/>
<ellipse cx="431.5" cy="1215.9" rx="7.6" ry="4.7" fill="#a4afaf" transform="rotate(-48 431.5 1215.9)"/>
<ellipse cx="488.5" cy="1215.9" rx="7.6" ry="4.7" fill="#a4afaf" transform="rotate(48 488.5 1215.9)"/>
<path d="M457.2,1197.0 L470.5,1199.9 L476.7,1202.8 L480.7,1205.6 L483.3,1208.5 L485.3,1211.4 L487.3,1215.0 L490.3,1224.0 L492.3,1233.0 L494.6,1242.0 L497.1,1251.0 L499.3,1260.0 L501.2,1269.0 L503.0,1278.0 L504.5,1287.0 L505.9,1296.0 L507.2,1305.0 L508.2,1314.0 L508.6,1323.0 L508.5,1332.0 L508.1,1341.0 L506.8,1350.0 L502.7,1359.0 L500.3,1362.6 L497.9,1365.5 L494.2,1368.4 L489.0,1371.2 L479.0,1374.1 L462.8,1377.0 L462.8,1377.0 L446.4,1374.1 L436.2,1371.2 L430.8,1368.4 L427.0,1365.5 L424.3,1362.6 L421.8,1359.0 L417.1,1350.0 L415.2,1341.0 L414.3,1332.0 L413.6,1323.0 L413.5,1314.0 L413.9,1305.0 L414.7,1296.0 L415.5,1287.0 L416.5,1278.0 L417.7,1269.0 L419.0,1260.0 L420.7,1251.0 L422.6,1242.0 L424.4,1233.0 L425.8,1224.0 L428.2,1215.0 L430.0,1211.4 L431.8,1208.5 L434.3,1205.6 L438.1,1202.8 L444.1,1199.9 L457.2,1197.0Z" fill="#bdc6c6"/>
<ellipse cx="534.0" cy="1215.9" rx="7.6" ry="4.7" fill="#a4afaf" transform="rotate(-48 534.0 1215.9)"/>
<ellipse cx="591.0" cy="1215.9" rx="7.6" ry="4.7" fill="#a4afaf" transform="rotate(48 591.0 1215.9)"/>
<path d="M565.2,1197.0 L578.3,1199.9 L584.3,1202.8 L588.1,1205.6 L590.6,1208.5 L592.4,1211.4 L594.2,1215.0 L596.6,1224.0 L598.0,1233.0 L599.8,1242.0 L601.8,1251.0 L603.4,1260.0 L604.8,1269.0 L606.0,1278.0 L607.0,1287.0 L607.8,1296.0 L608.6,1305.0 L609.1,1314.0 L608.9,1323.0 L608.3,1332.0 L607.3,1341.0 L605.5,1350.0 L600.8,1359.0 L598.3,1362.6 L595.6,1365.5 L591.8,1368.4 L586.4,1371.2 L576.2,1374.1 L559.8,1377.0 L559.8,1377.0 L543.6,1374.1 L533.6,1371.2 L528.4,1368.4 L524.7,1365.5 L522.3,1362.6 L519.9,1359.0 L515.8,1350.0 L514.5,1341.0 L514.0,1332.0 L514.0,1323.0 L514.3,1314.0 L515.3,1305.0 L516.6,1296.0 L518.0,1287.0 L519.5,1278.0 L521.3,1269.0 L523.2,1260.0 L525.3,1251.0 L527.9,1242.0 L530.2,1233.0 L532.1,1224.0 L535.1,1215.0 L537.1,1211.4 L539.1,1208.5 L541.7,1205.6 L545.7,1202.8 L551.9,1199.9 L565.2,1197.0Z" fill="#bdc6c6"/>
</g>
<g filter="url(#bl4)">
<path d="M185.8,1224.0 L197.8,1226.4 L203.4,1228.8 L206.8,1231.2 L209.1,1233.6 L210.9,1236.0 L212.5,1238.9 L214.9,1246.4 L216.4,1253.9 L218.1,1261.3 L220.1,1268.8 L221.8,1276.3 L223.2,1283.8 L224.4,1291.2 L225.5,1298.7 L226.4,1306.2 L227.3,1313.6 L227.9,1321.1 L227.9,1328.6 L227.5,1336.1 L226.8,1343.5 L225.3,1351.0 L221.1,1358.5 L218.9,1361.4 L216.6,1363.8 L213.1,1366.2 L208.3,1368.6 L199.0,1371.0 L184.2,1373.4 L184.2,1373.4 L169.4,1371.0 L160.2,1368.6 L155.4,1366.2 L152.0,1363.8 L149.7,1361.4 L147.5,1358.5 L143.6,1351.0 L142.3,1343.5 L141.7,1336.1 L141.5,1328.6 L141.7,1321.1 L142.4,1313.6 L143.4,1306.2 L144.5,1298.7 L145.7,1291.2 L147.1,1283.8 L148.7,1276.3 L150.5,1268.8 L152.7,1261.3 L154.6,1253.9 L156.2,1246.4 L158.8,1238.9 L160.5,1236.0 L162.3,1233.6 L164.6,1231.2 L168.2,1228.8 L173.8,1226.4 L185.8,1224.0Z" fill="#f1f4f4"/>
<path d="M279.2,1224.0 L291.1,1226.4 L296.7,1228.8 L300.1,1231.2 L302.4,1233.6 L304.1,1236.0 L305.7,1238.9 L308.0,1246.4 L309.4,1253.9 L311.1,1261.3 L313.0,1268.8 L314.5,1276.3 L315.9,1283.8 L317.0,1291.2 L318.0,1298.7 L318.8,1306.2 L319.6,1313.6 L320.1,1321.1 L320.0,1328.6 L319.5,1336.1 L318.7,1343.5 L317.1,1351.0 L312.9,1358.5 L310.7,1361.4 L308.3,1363.8 L304.8,1366.2 L300.0,1368.6 L290.7,1371.0 L275.8,1373.4 L275.8,1373.4 L261.1,1371.0 L251.9,1368.6 L247.1,1366.2 L243.8,1363.8 L241.5,1361.4 L239.4,1358.5 L235.5,1351.0 L234.2,1343.5 L233.8,1336.1 L233.6,1328.6 L233.9,1321.1 L234.7,1313.6 L235.8,1306.2 L237.0,1298.7 L238.3,1291.2 L239.8,1283.8 L241.5,1276.3 L243.4,1268.8 L245.6,1261.3 L247.6,1253.9 L249.3,1246.4 L252.0,1238.9 L253.7,1236.0 L255.6,1233.6 L257.9,1231.2 L261.5,1228.8 L267.1,1226.4 L279.2,1224.0Z" fill="#f1f4f4"/>
<path d="M364.1,1224.0 L376.2,1226.4 L381.8,1228.8 L385.4,1231.2 L387.7,1233.6 L389.6,1236.0 L391.3,1238.9 L394.0,1246.4 L395.7,1253.9 L397.8,1261.3 L400.0,1268.8 L401.9,1276.3 L403.6,1283.8 L405.2,1291.2 L406.5,1298.7 L407.7,1306.2 L408.8,1313.6 L409.7,1321.1 L410.0,1328.6 L409.8,1336.1 L409.4,1343.5 L408.2,1351.0 L404.3,1358.5 L402.2,1361.4 L399.9,1363.8 L396.6,1366.2 L391.9,1368.6 L382.7,1371.0 L367.9,1373.4 L367.9,1373.4 L353.0,1371.0 L343.7,1368.6 L338.9,1366.2 L335.4,1363.8 L333.0,1361.4 L330.7,1358.5 L326.5,1351.0 L324.9,1343.5 L324.1,1336.1 L323.6,1328.6 L323.5,1321.1 L323.9,1313.6 L324.7,1306.2 L325.5,1298.7 L326.5,1291.2 L327.6,1283.8 L328.9,1276.3 L330.4,1268.8 L332.3,1261.3 L334.0,1253.9 L335.3,1246.4 L337.6,1238.9 L339.2,1236.0 L340.9,1233.6 L343.2,1231.2 L346.6,1228.8 L352.1,1226.4 L364.1,1224.0Z" fill="#f1f4f4"/>
<path d="M457.2,1224.0 L469.3,1226.4 L475.0,1228.8 L478.6,1231.2 L481.0,1233.6 L482.8,1236.0 L484.6,1238.9 L487.4,1246.4 L489.2,1253.9 L491.3,1261.3 L493.7,1268.8 L495.7,1276.3 L497.5,1283.8 L499.1,1291.2 L500.5,1298.7 L501.8,1306.2 L503.0,1313.6 L503.9,1321.1 L504.3,1328.6 L504.3,1336.1 L503.9,1343.5 L502.8,1351.0 L499.0,1358.5 L496.9,1361.4 L494.7,1363.8 L491.4,1366.2 L486.7,1368.6 L477.5,1371.0 L462.8,1373.4 L462.8,1373.4 L447.9,1371.0 L438.5,1368.6 L433.6,1366.2 L430.2,1363.8 L427.8,1361.4 L425.4,1358.5 L421.1,1351.0 L419.4,1343.5 L418.5,1336.1 L417.9,1328.6 L417.7,1321.1 L418.1,1313.6 L418.8,1306.2 L419.5,1298.7 L420.4,1291.2 L421.4,1283.8 L422.6,1276.3 L424.1,1268.8 L425.9,1261.3 L427.4,1253.9 L428.7,1246.4 L430.9,1238.9 L432.5,1236.0 L434.2,1233.6 L436.4,1231.2 L439.8,1228.8 L445.3,1226.4 L457.2,1224.0Z" fill="#f1f4f4"/>
<path d="M565.2,1224.0 L577.1,1226.4 L582.6,1228.8 L586.0,1231.2 L588.2,1233.6 L589.9,1236.0 L591.5,1238.9 L593.7,1246.4 L595.0,1253.9 L596.6,1261.3 L598.4,1268.8 L599.8,1276.3 L601.1,1283.8 L602.1,1291.2 L603.0,1298.7 L603.7,1306.2 L604.4,1313.6 L604.8,1321.1 L604.6,1328.6 L604.0,1336.1 L603.1,1343.5 L601.5,1351.0 L597.2,1358.5 L594.8,1361.4 L592.4,1363.8 L589.0,1366.2 L584.1,1368.6 L574.7,1371.0 L559.8,1373.4 L559.8,1373.4 L545.1,1371.0 L535.9,1368.6 L531.2,1366.2 L527.9,1363.8 L525.7,1361.4 L523.6,1358.5 L519.8,1351.0 L518.6,1343.5 L518.3,1336.1 L518.2,1328.6 L518.6,1321.1 L519.5,1313.6 L520.7,1306.2 L522.0,1298.7 L523.4,1291.2 L525.0,1283.8 L526.8,1276.3 L528.8,1268.8 L531.1,1261.3 L533.2,1253.9 L535.0,1246.4 L537.8,1238.9 L539.6,1236.0 L541.4,1233.6 L543.8,1231.2 L547.4,1228.8 L553.1,1226.4 L565.2,1224.0Z" fill="#f1f4f4"/>
</g>
<g filter="url(#bl5)">
<ellipse cx="185.0" cy="1308.6" rx="35.1" ry="54.0" fill="#fff"/>
<ellipse cx="277.5" cy="1308.6" rx="35.1" ry="54.0" fill="#fff"/>
<ellipse cx="366.0" cy="1308.6" rx="35.1" ry="54.0" fill="#fff"/>
<ellipse cx="460.0" cy="1308.6" rx="35.1" ry="54.0" fill="#fff"/>
<ellipse cx="562.5" cy="1308.6" rx="35.1" ry="54.0" fill="#fff"/>
</g>
<rect x="135.8" y="1180.3" width="477.6" height="216.3" filter="url(#fur)" opacity="0.16"/>
<rect x="135.8" y="1180.3" width="477.6" height="216.3" filter="url(#furw)" opacity="0.12"/>
<g filter="url(#rag)" fill="#4c48ee">
<ellipse cx="212.5" cy="1343.2" rx="15.5" ry="23.8"/>
<ellipse cx="241.2" cy="1334.5" rx="4.0" ry="11.2"/>
<polygon points="290.0,1312.0 300.0,1292.0 315.0,1287.0 321.2,1298.2 327.5,1289.5 342.5,1294.5 352.5,1312.0 355.0,1334.5 350.0,1354.5 337.5,1364.5 322.5,1358.2 310.0,1372.0 295.0,1362.0 287.5,1342.0"/>
<polygon points="376.2,1327.0 382.5,1302.0 395.0,1284.5 405.0,1282.0 413.8,1312.0 415.0,1347.0 410.0,1362.0 405.0,1372.0 403.0,1392.0 397.5,1372.0 380.0,1362.0 375.0,1344.5"/>
<polygon points="416.2,1312.0 425.0,1289.5 430.0,1277.0 433.8,1230.8 441.2,1230.8 442.5,1272.0 450.0,1289.5 452.5,1322.0 450.0,1352.0 437.5,1369.5 420.0,1362.0 415.0,1347.0"/>
<polygon points="462.5,1342.0 467.5,1322.0 480.0,1302.0 490.0,1282.0 497.5,1272.0 505.0,1289.5 512.5,1312.0 515.0,1347.0 505.0,1369.5 490.0,1379.5 475.0,1372.0 465.0,1362.0"/>
<polygon points="520.0,1322.0 522.5,1292.0 532.5,1282.0 535.0,1254.5 540.0,1223.2 555.0,1227.0 565.0,1247.0 552.5,1267.0 550.0,1282.0 560.0,1302.0 562.5,1347.0 555.0,1372.0 545.0,1398.2 532.5,1398.2 530.0,1372.0 520.0,1362.0"/>
<polygon points="565.0,1332.0 575.0,1314.5 592.5,1304.5 613.8,1312.0 613.8,1362.0 600.0,1372.0 577.5,1372.0 566.2,1357.0"/>
</g>
<g clip-path="url(#bc4)">
<ellipse cx="320.0" cy="1331.5" rx="18.0" ry="19.5" fill="url(#glow)"/>
<ellipse cx="406.2" cy="1330.8" rx="16.5" ry="24.0" fill="url(#glow)"/>
<ellipse cx="501.2" cy="1335.0" rx="19.5" ry="30.0" fill="url(#glow)"/>
<ellipse cx="600.0" cy="1335.8" rx="19.5" ry="28.5" fill="url(#glow)"/>
<ellipse cx="320.0" cy="1331.5" rx="6.0" ry="6.5" fill="url(#hotG)"/>
<ellipse cx="406.2" cy="1330.8" rx="5.5" ry="8.0" fill="url(#hotR)"/>
<ellipse cx="501.2" cy="1335.0" rx="6.5" ry="10.0" fill="url(#hotR)"/>
<ellipse cx="600.0" cy="1335.8" rx="6.5" ry="9.5" fill="url(#hotR)"/>
</g>
</g>
<g clip-path="url(#cp5)">
<rect x="632.5" y="1180.3" width="471.4" height="216.3" fill="url(#bgG)"/>
<g filter="url(#bl6)" fill="#161a1a" opacity="0.8">
<ellipse cx="682.2" cy="1289.5" rx="51.0" ry="98.0"/>
<ellipse cx="772.5" cy="1289.5" rx="51.0" ry="98.0"/>
<ellipse cx="864.3" cy="1289.5" rx="51.0" ry="98.0"/>
<ellipse cx="954.6" cy="1289.5" rx="51.0" ry="98.0"/>
<ellipse cx="1055.5" cy="1289.5" rx="51.0" ry="98.0"/>
</g>
<rect x="657.0" y="1182.3" width="6.4" height="19" rx="3" fill="#1c2222" stroke="#3d4545" stroke-width="1"/>
<rect x="716.0" y="1182.3" width="6.4" height="19" rx="3" fill="#1c2222" stroke="#3d4545" stroke-width="1"/>
<rect x="682.2" y="1180.3" width="14" height="23.7" fill="#9aa5a5" opacity="0.35"/>
<rect x="684.9" y="1180.3" width="3.6" height="20.7" fill="#fff"/>
<rect x="689.9" y="1180.3" width="3.6" height="20.7" fill="#fff"/>
<rect x="747.3" y="1182.3" width="6.4" height="19" rx="3" fill="#1c2222" stroke="#3d4545" stroke-width="1"/>
<rect x="806.3" y="1182.3" width="6.4" height="19" rx="3" fill="#1c2222" stroke="#3d4545" stroke-width="1"/>
<rect x="772.5" y="1180.3" width="14" height="23.7" fill="#9aa5a5" opacity="0.35"/>
<rect x="775.2" y="1180.3" width="3.6" height="20.7" fill="#fff"/>
<rect x="780.2" y="1180.3" width="3.6" height="20.7" fill="#fff"/>
<rect x="839.1" y="1182.3" width="6.4" height="19" rx="3" fill="#1c2222" stroke="#3d4545" stroke-width="1"/>
<rect x="898.1" y="1182.3" width="6.4" height="19" rx="3" fill="#1c2222" stroke="#3d4545" stroke-width="1"/>
<rect x="864.3" y="1180.3" width="14" height="23.7" fill="#9aa5a5" opacity="0.35"/>
<rect x="867.0" y="1180.3" width="3.6" height="20.7" fill="#fff"/>
<rect x="872.0" y="1180.3" width="3.6" height="20.7" fill="#fff"/>
<rect x="929.4" y="1182.3" width="6.4" height="19" rx="3" fill="#1c2222" stroke="#3d4545" stroke-width="1"/>
<rect x="988.4" y="1182.3" width="6.4" height="19" rx="3" fill="#1c2222" stroke="#3d4545" stroke-width="1"/>
<rect x="954.6" y="1180.3" width="14" height="23.7" fill="#9aa5a5" opacity="0.35"/>
<rect x="957.3" y="1180.3" width="3.6" height="20.7" fill="#fff"/>
<rect x="962.3" y="1180.3" width="3.6" height="20.7" fill="#fff"/>
<rect x="1030.3" y="1182.3" width="6.4" height="19" rx="3" fill="#1c2222" stroke="#3d4545" stroke-width="1"/>
<rect x="1089.3" y="1182.3" width="6.4" height="19" rx="3" fill="#1c2222" stroke="#3d4545" stroke-width="1"/>
<rect x="1055.5" y="1180.3" width="14" height="23.7" fill="#9aa5a5" opacity="0.35"/>
<rect x="1058.2" y="1180.3" width="3.6" height="20.7" fill="#fff"/>
<rect x="1063.2" y="1180.3" width="3.6" height="20.7" fill="#fff"/>
<g filter="url(#bl1)" stroke-linecap="round" fill="none">
<line x1="683.0" y1="1369.0" x2="682.8" y2="1400.6" stroke="#d6d6d6" stroke-width="6.5"/>
<line x1="661.1" y1="1367.0" x2="651.8" y2="1391.7" stroke="#8c8c8c" stroke-width="6"/>
<line x1="703.3" y1="1367.0" x2="712.3" y2="1394.6" stroke="#8c8c8c" stroke-width="6"/>
<line x1="773.1" y1="1369.0" x2="771.8" y2="1400.6" stroke="#d6d6d6" stroke-width="6.5"/>
<line x1="751.4" y1="1367.0" x2="745.9" y2="1393.7" stroke="#8c8c8c" stroke-width="6"/>
<line x1="793.6" y1="1367.0" x2="798.9" y2="1394.6" stroke="#8c8c8c" stroke-width="6"/>
<line x1="864.1" y1="1369.0" x2="866.0" y2="1400.6" stroke="#d6d6d6" stroke-width="6.5"/>
<line x1="843.2" y1="1367.0" x2="835.4" y2="1393.2" stroke="#8c8c8c" stroke-width="6"/>
<line x1="885.4" y1="1367.0" x2="893.5" y2="1394.6" stroke="#8c8c8c" stroke-width="6"/>
<line x1="952.4" y1="1369.0" x2="952.6" y2="1400.6" stroke="#d6d6d6" stroke-width="6.5"/>
<line x1="933.5" y1="1367.0" x2="931.4" y2="1394.6" stroke="#8c8c8c" stroke-width="6"/>
<line x1="975.7" y1="1367.0" x2="983.1" y2="1394.6" stroke="#8c8c8c" stroke-width="6"/>
<line x1="1058.3" y1="1369.0" x2="1058.7" y2="1400.6" stroke="#d6d6d6" stroke-width="6.5"/>
<line x1="1034.4" y1="1367.0" x2="1032.1" y2="1394.6" stroke="#8c8c8c" stroke-width="6"/>
<line x1="1076.6" y1="1367.0" x2="1081.1" y2="1394.6" stroke="#8c8c8c" stroke-width="6"/>
</g>
<g filter="url(#bl2)">
<ellipse cx="655.8" cy="1220.4" rx="7.0" ry="4.5" fill="#a4afaf" transform="rotate(-48 655.8 1220.4)"/>
<ellipse cx="708.6" cy="1220.4" rx="7.0" ry="4.5" fill="#a4afaf" transform="rotate(48 708.6 1220.4)"/>
<path d="M680.1,1202.0 L692.4,1204.8 L698.2,1207.6 L701.8,1210.4 L704.2,1213.2 L706.1,1216.0 L707.9,1219.5 L710.6,1228.2 L712.4,1237.0 L714.5,1245.8 L716.8,1254.5 L718.7,1263.2 L720.5,1272.0 L722.0,1280.8 L723.4,1289.5 L724.6,1298.2 L725.8,1307.0 L726.7,1315.8 L727.0,1324.5 L726.9,1333.2 L726.5,1342.0 L725.2,1350.8 L721.3,1359.5 L719.1,1363.0 L716.9,1365.8 L713.5,1368.6 L708.6,1371.4 L699.3,1374.2 L684.3,1377.0 L684.3,1377.0 L669.1,1374.2 L659.7,1371.4 L654.7,1368.6 L651.2,1365.8 L648.7,1363.0 L646.4,1359.5 L642.1,1350.8 L640.4,1342.0 L639.6,1333.2 L639.1,1324.5 L638.9,1315.8 L639.4,1307.0 L640.2,1298.2 L641.0,1289.5 L641.9,1280.8 L643.1,1272.0 L644.4,1263.2 L646.0,1254.5 L647.8,1245.8 L649.5,1237.0 L650.9,1228.2 L653.2,1219.5 L654.8,1216.0 L656.6,1213.2 L658.8,1210.4 L662.3,1207.6 L668.0,1204.8 L680.1,1202.0Z" fill="#bdc6c6"/>
<ellipse cx="746.1" cy="1220.4" rx="7.0" ry="4.5" fill="#a4afaf" transform="rotate(-48 746.1 1220.4)"/>
<ellipse cx="798.9" cy="1220.4" rx="7.0" ry="4.5" fill="#a4afaf" transform="rotate(48 798.9 1220.4)"/>
<path d="M774.7,1202.0 L786.8,1204.8 L792.5,1207.6 L796.0,1210.4 L798.2,1213.2 L800.0,1216.0 L801.6,1219.5 L803.9,1228.2 L805.3,1237.0 L806.9,1245.8 L808.8,1254.5 L810.3,1263.2 L811.6,1272.0 L812.8,1280.8 L813.7,1289.5 L814.5,1298.2 L815.3,1307.0 L815.7,1315.8 L815.6,1324.5 L815.1,1333.2 L814.2,1342.0 L812.5,1350.8 L808.2,1359.5 L805.9,1363.0 L803.4,1365.8 L799.9,1368.6 L794.9,1371.4 L785.5,1374.2 L770.3,1377.0 L770.3,1377.0 L755.3,1374.2 L746.0,1371.4 L741.1,1368.6 L737.8,1365.8 L735.5,1363.0 L733.3,1359.5 L729.4,1350.8 L728.2,1342.0 L727.8,1333.2 L727.7,1324.5 L728.0,1315.8 L728.8,1307.0 L730.0,1298.2 L731.3,1289.5 L732.7,1280.8 L734.2,1272.0 L736.0,1263.2 L738.0,1254.5 L740.3,1245.8 L742.4,1237.0 L744.1,1228.2 L746.9,1219.5 L748.7,1216.0 L750.6,1213.2 L753.0,1210.4 L756.6,1207.6 L762.4,1204.8 L774.7,1202.0Z" fill="#bdc6c6"/>
<ellipse cx="837.9" cy="1220.4" rx="7.0" ry="4.5" fill="#a4afaf" transform="rotate(-48 837.9 1220.4)"/>
<ellipse cx="890.7" cy="1220.4" rx="7.0" ry="4.5" fill="#a4afaf" transform="rotate(48 890.7 1220.4)"/>
<path d="M862.9,1202.0 L875.1,1204.8 L880.9,1207.6 L884.5,1210.4 L886.9,1213.2 L888.7,1216.0 L890.5,1219.5 L893.2,1228.2 L894.9,1237.0 L896.9,1245.8 L899.1,1254.5 L901.0,1263.2 L902.7,1272.0 L904.2,1280.8 L905.5,1289.5 L906.7,1298.2 L907.8,1307.0 L908.6,1315.8 L908.8,1324.5 L908.7,1333.2 L908.2,1342.0 L906.9,1350.8 L902.9,1359.5 L900.7,1363.0 L898.4,1365.8 L895.0,1368.6 L890.1,1371.4 L880.8,1374.2 L865.7,1377.0 L865.7,1377.0 L850.6,1374.2 L841.2,1371.4 L836.2,1368.6 L832.7,1365.8 L830.3,1363.0 L828.0,1359.5 L823.7,1350.8 L822.2,1342.0 L821.4,1333.2 L820.9,1324.5 L820.9,1315.8 L821.4,1307.0 L822.2,1298.2 L823.1,1289.5 L824.1,1280.8 L825.3,1272.0 L826.7,1263.2 L828.3,1254.5 L830.3,1245.8 L832.0,1237.0 L833.4,1228.2 L835.8,1219.5 L837.5,1216.0 L839.2,1213.2 L841.5,1210.4 L845.0,1207.6 L850.7,1204.8 L862.9,1202.0Z" fill="#bdc6c6"/>
<ellipse cx="928.2" cy="1220.4" rx="7.0" ry="4.5" fill="#a4afaf" transform="rotate(-48 928.2 1220.4)"/>
<ellipse cx="981.0" cy="1220.4" rx="7.0" ry="4.5" fill="#a4afaf" transform="rotate(48 981.0 1220.4)"/>
<path d="M955.7,1202.0 L967.9,1204.8 L973.5,1207.6 L977.1,1210.4 L979.4,1213.2 L981.1,1216.0 L982.8,1219.5 L985.3,1228.2 L986.7,1237.0 L988.5,1245.8 L990.5,1254.5 L992.1,1263.2 L993.5,1272.0 L994.8,1280.8 L995.8,1289.5 L996.7,1298.2 L997.6,1307.0 L998.1,1315.8 L998.1,1324.5 L997.7,1333.2 L997.0,1342.0 L995.4,1350.8 L991.2,1359.5 L988.9,1363.0 L986.5,1365.8 L983.0,1368.6 L978.1,1371.4 L968.6,1374.2 L953.5,1377.0 L953.5,1377.0 L938.5,1374.2 L929.1,1371.4 L924.2,1368.6 L920.8,1365.8 L918.5,1363.0 L916.3,1359.5 L912.3,1350.8 L910.9,1342.0 L910.4,1333.2 L910.2,1324.5 L910.4,1315.8 L911.2,1307.0 L912.3,1298.2 L913.4,1289.5 L914.7,1280.8 L916.1,1272.0 L917.8,1263.2 L919.6,1254.5 L921.8,1245.8 L923.8,1237.0 L925.5,1228.2 L928.1,1219.5 L929.9,1216.0 L931.7,1213.2 L934.1,1210.4 L937.7,1207.6 L943.4,1204.8 L955.7,1202.0Z" fill="#bdc6c6"/>
<ellipse cx="1029.1" cy="1220.4" rx="7.0" ry="4.5" fill="#a4afaf" transform="rotate(-48 1029.1 1220.4)"/>
<ellipse cx="1081.9" cy="1220.4" rx="7.0" ry="4.5" fill="#a4afaf" transform="rotate(48 1081.9 1220.4)"/>
<path d="M1057.2,1202.0 L1069.3,1204.8 L1075.0,1207.6 L1078.5,1210.4 L1080.8,1213.2 L1082.5,1216.0 L1084.2,1219.5 L1086.6,1228.2 L1087.9,1237.0 L1089.7,1245.8 L1091.6,1254.5 L1093.2,1263.2 L1094.5,1272.0 L1095.7,1280.8 L1096.7,1289.5 L1097.6,1298.2 L1098.4,1307.0 L1098.9,1315.8 L1098.8,1324.5 L1098.3,1333.2 L1097.5,1342.0 L1095.9,1350.8 L1091.6,1359.5 L1089.3,1363.0 L1086.9,1365.8 L1083.4,1368.6 L1078.4,1371.4 L1069.0,1374.2 L1053.8,1377.0 L1053.8,1377.0 L1038.8,1374.2 L1029.4,1371.4 L1024.6,1368.6 L1021.2,1365.8 L1018.9,1363.0 L1016.7,1359.5 L1012.8,1350.8 L1011.5,1342.0 L1011.0,1333.2 L1010.9,1324.5 L1011.1,1315.8 L1011.9,1307.0 L1013.1,1298.2 L1014.3,1289.5 L1015.6,1280.8 L1017.1,1272.0 L1018.8,1263.2 L1020.8,1254.5 L1023.0,1245.8 L1025.1,1237.0 L1026.8,1228.2 L1029.5,1219.5 L1031.3,1216.0 L1033.1,1213.2 L1035.5,1210.4 L1039.2,1207.6 L1044.9,1204.8 L1057.2,1202.0Z" fill="#bdc6c6"/>
</g>
<g filter="url(#bl4)">
<path d="M680.1,1228.2 L691.3,1230.6 L696.6,1232.9 L699.9,1235.2 L702.1,1237.5 L703.8,1239.9 L705.4,1242.8 L707.9,1250.0 L709.6,1257.3 L711.5,1264.6 L713.6,1271.8 L715.4,1279.1 L717.0,1286.3 L718.4,1293.6 L719.7,1300.9 L720.8,1308.1 L721.9,1315.4 L722.7,1322.7 L723.0,1329.9 L723.0,1337.2 L722.6,1344.5 L721.5,1351.7 L717.9,1359.0 L716.0,1361.9 L713.9,1364.2 L710.8,1366.5 L706.4,1368.9 L697.9,1371.2 L684.3,1373.5 L684.3,1373.5 L670.5,1371.2 L661.9,1368.9 L657.3,1366.5 L654.1,1364.2 L651.9,1361.9 L649.8,1359.0 L645.8,1351.7 L644.3,1344.5 L643.5,1337.2 L643.0,1329.9 L642.9,1322.7 L643.3,1315.4 L644.0,1308.1 L644.7,1300.9 L645.5,1293.6 L646.6,1286.3 L647.8,1279.1 L649.1,1271.8 L650.8,1264.6 L652.3,1257.3 L653.5,1250.0 L655.6,1242.8 L657.1,1239.9 L658.7,1237.5 L660.8,1235.2 L664.0,1232.9 L669.1,1230.6 L680.1,1228.2Z" fill="#f1f4f4"/>
<path d="M774.7,1228.2 L785.7,1230.6 L790.8,1232.9 L794.0,1235.2 L796.1,1237.5 L797.7,1239.9 L799.1,1242.8 L801.2,1250.0 L802.4,1257.3 L803.9,1264.6 L805.6,1271.8 L807.0,1279.1 L808.2,1286.3 L809.2,1293.6 L810.0,1300.9 L810.7,1308.1 L811.4,1315.4 L811.8,1322.7 L811.6,1329.9 L811.1,1337.2 L810.3,1344.5 L808.8,1351.7 L804.8,1359.0 L802.7,1361.9 L800.5,1364.2 L797.3,1366.5 L792.7,1368.9 L784.1,1371.2 L770.3,1373.5 L770.3,1373.5 L756.7,1371.2 L748.2,1368.9 L743.8,1366.5 L740.7,1364.2 L738.6,1361.9 L736.7,1359.0 L733.2,1351.7 L732.1,1344.5 L731.7,1337.2 L731.6,1329.9 L731.9,1322.7 L732.7,1315.4 L733.8,1308.1 L735.0,1300.9 L736.3,1293.6 L737.7,1286.3 L739.3,1279.1 L741.1,1271.8 L743.3,1264.6 L745.2,1257.3 L746.8,1250.0 L749.4,1242.8 L751.0,1239.9 L752.7,1237.5 L754.9,1235.2 L758.2,1232.9 L763.5,1230.6 L774.7,1228.2Z" fill="#f1f4f4"/>
<path d="M862.9,1228.2 L874.0,1230.6 L879.3,1232.9 L882.6,1235.2 L884.7,1237.5 L886.4,1239.9 L888.0,1242.8 L890.5,1250.0 L892.1,1257.3 L893.9,1264.6 L896.0,1271.8 L897.7,1279.1 L899.2,1286.3 L900.6,1293.6 L901.8,1300.9 L902.9,1308.1 L903.9,1315.4 L904.7,1322.7 L904.9,1329.9 L904.7,1337.2 L904.3,1344.5 L903.1,1351.7 L899.5,1359.0 L897.5,1361.9 L895.4,1364.2 L892.3,1366.5 L887.9,1368.9 L879.4,1371.2 L865.7,1373.5 L865.7,1373.5 L852.0,1371.2 L843.4,1368.9 L838.9,1366.5 L835.7,1364.2 L833.5,1361.9 L831.4,1359.0 L827.5,1351.7 L826.0,1344.5 L825.3,1337.2 L824.9,1329.9 L824.8,1322.7 L825.3,1315.4 L826.0,1308.1 L826.8,1300.9 L827.7,1293.6 L828.8,1286.3 L830.0,1279.1 L831.5,1271.8 L833.3,1264.6 L834.8,1257.3 L836.1,1250.0 L838.3,1242.8 L839.8,1239.9 L841.4,1237.5 L843.5,1235.2 L846.7,1232.9 L851.8,1230.6 L862.9,1228.2Z" fill="#f1f4f4"/>
<path d="M955.7,1228.2 L966.8,1230.6 L971.9,1232.9 L975.1,1235.2 L977.2,1237.5 L978.8,1239.9 L980.4,1242.8 L982.6,1250.0 L983.9,1257.3 L985.5,1264.6 L987.3,1271.8 L988.8,1279.1 L990.0,1286.3 L991.2,1293.6 L992.1,1300.9 L992.9,1308.1 L993.7,1315.4 L994.2,1322.7 L994.2,1329.9 L993.8,1337.2 L993.1,1344.5 L991.7,1351.7 L987.8,1359.0 L985.7,1361.9 L983.5,1364.2 L980.4,1366.5 L975.9,1368.9 L967.3,1371.2 L953.5,1373.5 L953.5,1373.5 L939.8,1371.2 L931.3,1368.9 L926.9,1366.5 L923.8,1364.2 L921.7,1361.9 L919.6,1359.0 L916.0,1351.7 L914.8,1344.5 L914.3,1337.2 L914.2,1329.9 L914.3,1322.7 L915.1,1315.4 L916.1,1308.1 L917.1,1300.9 L918.3,1293.6 L919.6,1286.3 L921.1,1279.1 L922.8,1271.8 L924.8,1264.6 L926.6,1257.3 L928.2,1250.0 L930.6,1242.8 L932.2,1239.9 L933.9,1237.5 L936.0,1235.2 L939.3,1232.9 L944.5,1230.6 L955.7,1228.2Z" fill="#f1f4f4"/>
<path d="M1057.2,1228.2 L1068.2,1230.6 L1073.4,1232.9 L1076.6,1235.2 L1078.6,1237.5 L1080.2,1239.9 L1081.7,1242.8 L1083.9,1250.0 L1085.1,1257.3 L1086.7,1264.6 L1088.4,1271.8 L1089.8,1279.1 L1091.1,1286.3 L1092.1,1293.6 L1093.0,1300.9 L1093.8,1308.1 L1094.5,1315.4 L1094.9,1322.7 L1094.8,1329.9 L1094.4,1337.2 L1093.6,1344.5 L1092.1,1351.7 L1088.2,1359.0 L1086.1,1361.9 L1083.9,1364.2 L1080.7,1366.5 L1076.2,1368.9 L1067.6,1371.2 L1053.8,1373.5 L1053.8,1373.5 L1040.2,1371.2 L1031.6,1368.9 L1027.2,1366.5 L1024.1,1364.2 L1022.1,1361.9 L1020.1,1359.0 L1016.5,1351.7 L1015.4,1344.5 L1014.9,1337.2 L1014.8,1329.9 L1015.1,1322.7 L1015.8,1315.4 L1016.9,1308.1 L1018.0,1300.9 L1019.2,1293.6 L1020.6,1286.3 L1022.2,1279.1 L1023.9,1271.8 L1026.0,1264.6 L1027.9,1257.3 L1029.5,1250.0 L1031.9,1242.8 L1033.6,1239.9 L1035.3,1237.5 L1037.5,1235.2 L1040.8,1232.9 L1046.0,1230.6 L1057.2,1228.2Z" fill="#f1f4f4"/>
</g>
<g filter="url(#bl5)">
<ellipse cx="682.2" cy="1310.5" rx="32.6" ry="52.5" fill="#fff"/>
<ellipse cx="772.5" cy="1310.5" rx="32.6" ry="52.5" fill="#fff"/>
<ellipse cx="864.3" cy="1310.5" rx="32.6" ry="52.5" fill="#fff"/>
<ellipse cx="954.6" cy="1310.5" rx="32.6" ry="52.5" fill="#fff"/>
<ellipse cx="1055.5" cy="1310.5" rx="32.6" ry="52.5" fill="#fff"/>
</g>
<rect x="632.5" y="1180.3" width="471.4" height="216.3" filter="url(#fur)" opacity="0.16"/>
<rect x="632.5" y="1180.3" width="471.4" height="216.3" filter="url(#furw)" opacity="0.12"/>
<g filter="url(#rag)" fill="#4c48ee">
<ellipse cx="810.1" cy="1336.1" rx="1.8" ry="1.5"/>
</g>
</g>
<text x="22.3" y="1210.4" font-size="35.5" class="my" textLength="106.0" lengthAdjust="spacingAndGlyphs">Day 15</text>
<g clip-path="url(#cp6)">
<rect x="135.8" y="1403.9" width="477.6" height="216.7" fill="url(#bgG)"/>
<g filter="url(#bl6)" fill="#161a1a" opacity="0.8">
<ellipse cx="195.0" cy="1509.0" rx="56.3" ry="106.4"/>
<ellipse cx="285.0" cy="1509.0" rx="56.3" ry="106.4"/>
<ellipse cx="377.5" cy="1509.0" rx="56.3" ry="106.4"/>
<ellipse cx="470.0" cy="1509.0" rx="56.3" ry="106.4"/>
<ellipse cx="570.0" cy="1509.0" rx="56.3" ry="106.4"/>
</g>
<rect x="169.8" y="1405.9" width="6.4" height="19" rx="3" fill="#1c2222" stroke="#3d4545" stroke-width="1"/>
<rect x="228.8" y="1405.9" width="6.4" height="19" rx="3" fill="#1c2222" stroke="#3d4545" stroke-width="1"/>
<path d="M196.0,1403.9 L208.0,1403.9 L212.0,1418.0 L192.0,1418.0Z" fill="#8d9696"/>
<rect x="259.8" y="1405.9" width="6.4" height="19" rx="3" fill="#1c2222" stroke="#3d4545" stroke-width="1"/>
<rect x="318.8" y="1405.9" width="6.4" height="19" rx="3" fill="#1c2222" stroke="#3d4545" stroke-width="1"/>
<path d="M286.0,1403.9 L298.0,1403.9 L302.0,1418.0 L282.0,1418.0Z" fill="#8d9696"/>
<rect x="352.3" y="1405.9" width="6.4" height="19" rx="3" fill="#1c2222" stroke="#3d4545" stroke-width="1"/>
<rect x="411.3" y="1405.9" width="6.4" height="19" rx="3" fill="#1c2222" stroke="#3d4545" stroke-width="1"/>
<path d="M378.5,1403.9 L390.5,1403.9 L394.5,1418.0 L374.5,1418.0Z" fill="#8d9696"/>
<rect x="444.8" y="1405.9" width="6.4" height="19" rx="3" fill="#1c2222" stroke="#3d4545" stroke-width="1"/>
<rect x="503.8" y="1405.9" width="6.4" height="19" rx="3" fill="#1c2222" stroke="#3d4545" stroke-width="1"/>
<path d="M471.0,1403.9 L483.0,1403.9 L487.0,1418.0 L467.0,1418.0Z" fill="#8d9696"/>
<rect x="544.8" y="1405.9" width="6.4" height="19" rx="3" fill="#1c2222" stroke="#3d4545" stroke-width="1"/>
<rect x="603.8" y="1405.9" width="6.4" height="19" rx="3" fill="#1c2222" stroke="#3d4545" stroke-width="1"/>
<path d="M571.0,1403.9 L583.0,1403.9 L587.0,1418.0 L567.0,1418.0Z" fill="#8d9696"/>
<g filter="url(#bl1)" stroke-linecap="round" fill="none">
<line x1="193.6" y1="1596.0" x2="193.6" y2="1624.6" stroke="#d6d6d6" stroke-width="6.5"/>
<line x1="171.7" y1="1594.0" x2="168.9" y2="1618.6" stroke="#8c8c8c" stroke-width="6"/>
<line x1="218.3" y1="1594.0" x2="221.0" y2="1618.1" stroke="#8c8c8c" stroke-width="6"/>
<line x1="283.7" y1="1596.0" x2="282.2" y2="1624.6" stroke="#d6d6d6" stroke-width="6.5"/>
<line x1="261.7" y1="1594.0" x2="256.6" y2="1618.6" stroke="#8c8c8c" stroke-width="6"/>
<line x1="308.3" y1="1594.0" x2="310.6" y2="1618.6" stroke="#8c8c8c" stroke-width="6"/>
<line x1="375.3" y1="1596.0" x2="376.5" y2="1624.6" stroke="#d6d6d6" stroke-width="6.5"/>
<line x1="354.2" y1="1594.0" x2="344.9" y2="1618.6" stroke="#8c8c8c" stroke-width="6"/>
<line x1="400.8" y1="1594.0" x2="411.3" y2="1618.6" stroke="#8c8c8c" stroke-width="6"/>
<line x1="467.4" y1="1596.0" x2="467.1" y2="1624.6" stroke="#d6d6d6" stroke-width="6.5"/>
<line x1="446.7" y1="1594.0" x2="437.7" y2="1618.6" stroke="#8c8c8c" stroke-width="6"/>
<line x1="493.3" y1="1594.0" x2="497.0" y2="1618.6" stroke="#8c8c8c" stroke-width="6"/>
<line x1="571.7" y1="1596.0" x2="573.5" y2="1624.6" stroke="#d6d6d6" stroke-width="6.5"/>
<line x1="546.7" y1="1594.0" x2="543.8" y2="1618.6" stroke="#8c8c8c" stroke-width="6"/>
<line x1="593.3" y1="1594.0" x2="602.8" y2="1618.6" stroke="#8c8c8c" stroke-width="6"/>
</g>
<g filter="url(#bl2)">
<ellipse cx="165.9" cy="1434.0" rx="7.8" ry="4.9" fill="#a4afaf" transform="rotate(-48 165.9 1434.0)"/>
<ellipse cx="224.1" cy="1434.0" rx="7.8" ry="4.9" fill="#a4afaf" transform="rotate(48 224.1 1434.0)"/>
<path d="M195.7,1414.0 L209.1,1417.0 L215.4,1420.1 L219.3,1423.1 L221.8,1426.2 L223.8,1429.2 L225.7,1433.0 L228.4,1442.5 L230.1,1452.0 L232.1,1461.5 L234.3,1471.0 L236.2,1480.5 L237.8,1490.0 L239.2,1499.5 L240.4,1509.0 L241.5,1518.5 L242.5,1528.0 L243.2,1537.5 L243.2,1547.0 L242.8,1556.5 L242.0,1566.0 L240.3,1575.5 L235.8,1585.0 L233.2,1588.8 L230.6,1591.8 L226.8,1594.9 L221.4,1597.9 L211.0,1601.0 L194.3,1604.0 L194.3,1604.0 L177.7,1601.0 L167.4,1597.9 L162.0,1594.9 L158.2,1591.8 L155.6,1588.8 L153.2,1585.0 L148.7,1575.5 L147.2,1566.0 L146.6,1556.5 L146.3,1547.0 L146.4,1537.5 L147.2,1528.0 L148.4,1518.5 L149.6,1509.0 L150.9,1499.5 L152.5,1490.0 L154.2,1480.5 L156.2,1471.0 L158.6,1461.5 L160.7,1452.0 L162.5,1442.5 L165.4,1433.0 L167.3,1429.2 L169.3,1426.2 L171.9,1423.1 L175.9,1420.1 L182.2,1417.0 L195.7,1414.0Z" fill="#bdc6c6"/>
<ellipse cx="255.9" cy="1434.0" rx="7.8" ry="4.9" fill="#a4afaf" transform="rotate(-48 255.9 1434.0)"/>
<ellipse cx="314.1" cy="1434.0" rx="7.8" ry="4.9" fill="#a4afaf" transform="rotate(48 314.1 1434.0)"/>
<path d="M282.8,1414.0 L296.4,1417.0 L302.7,1420.1 L306.7,1423.1 L309.4,1426.2 L311.4,1429.2 L313.4,1433.0 L316.4,1442.5 L318.3,1452.0 L320.6,1461.5 L323.2,1471.0 L325.3,1480.5 L327.2,1490.0 L328.9,1499.5 L330.4,1509.0 L331.8,1518.5 L333.1,1528.0 L334.0,1537.5 L334.3,1547.0 L334.2,1556.5 L333.7,1566.0 L332.3,1575.5 L328.0,1585.0 L325.6,1588.8 L323.1,1591.8 L319.4,1594.9 L314.0,1597.9 L303.7,1601.0 L287.2,1604.0 L287.2,1604.0 L270.5,1601.0 L260.1,1597.9 L254.6,1594.9 L250.7,1591.8 L248.0,1588.8 L245.5,1585.0 L240.7,1575.5 L238.9,1566.0 L238.0,1556.5 L237.4,1547.0 L237.3,1537.5 L237.8,1528.0 L238.7,1518.5 L239.6,1509.0 L240.6,1499.5 L241.9,1490.0 L243.4,1480.5 L245.1,1471.0 L247.2,1461.5 L249.0,1452.0 L250.5,1442.5 L253.1,1433.0 L254.9,1429.2 L256.8,1426.2 L259.3,1423.1 L263.2,1420.1 L269.4,1417.0 L282.8,1414.0Z" fill="#bdc6c6"/>
<ellipse cx="348.4" cy="1434.0" rx="7.8" ry="4.9" fill="#a4afaf" transform="rotate(-48 348.4 1434.0)"/>
<ellipse cx="406.6" cy="1434.0" rx="7.8" ry="4.9" fill="#a4afaf" transform="rotate(48 406.6 1434.0)"/>
<path d="M376.1,1414.0 L389.6,1417.0 L395.9,1420.1 L399.9,1423.1 L402.5,1426.2 L404.5,1429.2 L406.5,1433.0 L409.4,1442.5 L411.3,1452.0 L413.5,1461.5 L416.0,1471.0 L418.0,1480.5 L419.9,1490.0 L421.5,1499.5 L422.9,1509.0 L424.2,1518.5 L425.4,1528.0 L426.3,1537.5 L426.5,1547.0 L426.3,1556.5 L425.8,1566.0 L424.3,1575.5 L419.9,1585.0 L417.5,1588.8 L415.0,1591.8 L411.2,1594.9 L405.8,1597.9 L395.5,1601.0 L378.9,1604.0 L378.9,1604.0 L362.3,1601.0 L351.8,1597.9 L346.4,1594.9 L342.5,1591.8 L339.9,1588.8 L337.4,1585.0 L332.7,1575.5 L330.9,1566.0 L330.1,1556.5 L329.6,1547.0 L329.6,1537.5 L330.1,1528.0 L331.1,1518.5 L332.1,1509.0 L333.2,1499.5 L334.6,1490.0 L336.1,1480.5 L337.9,1471.0 L340.1,1461.5 L342.0,1452.0 L343.6,1442.5 L346.2,1433.0 L348.1,1429.2 L350.0,1426.2 L352.5,1423.1 L356.4,1420.1 L362.6,1417.0 L376.1,1414.0Z" fill="#bdc6c6"/>
<ellipse cx="440.9" cy="1434.0" rx="7.8" ry="4.9" fill="#a4afaf" transform="rotate(-48 440.9 1434.0)"/>
<ellipse cx="499.1" cy="1434.0" rx="7.8" ry="4.9" fill="#a4afaf" transform="rotate(48 499.1 1434.0)"/>
<path d="M469.1,1414.0 L482.6,1417.0 L488.9,1420.1 L492.8,1423.1 L495.5,1426.2 L497.5,1429.2 L499.4,1433.0 L502.3,1442.5 L504.1,1452.0 L506.3,1461.5 L508.7,1471.0 L510.7,1480.5 L512.5,1490.0 L514.1,1499.5 L515.4,1509.0 L516.6,1518.5 L517.8,1528.0 L518.6,1537.5 L518.8,1547.0 L518.6,1556.5 L518.0,1566.0 L516.5,1575.5 L512.0,1585.0 L509.6,1588.8 L507.0,1591.8 L503.2,1594.9 L497.9,1597.9 L487.5,1601.0 L470.9,1604.0 L470.9,1604.0 L454.3,1601.0 L443.9,1597.9 L438.5,1594.9 L434.6,1591.8 L432.0,1588.8 L429.5,1585.0 L424.8,1575.5 L423.2,1566.0 L422.4,1556.5 L421.9,1547.0 L421.9,1537.5 L422.5,1528.0 L423.5,1518.5 L424.6,1509.0 L425.8,1499.5 L427.2,1490.0 L428.7,1480.5 L430.6,1471.0 L432.8,1461.5 L434.8,1452.0 L436.4,1442.5 L439.1,1433.0 L441.0,1429.2 L442.9,1426.2 L445.5,1423.1 L449.4,1420.1 L455.6,1417.0 L469.1,1414.0Z" fill="#bdc6c6"/>
<ellipse cx="540.9" cy="1434.0" rx="7.8" ry="4.9" fill="#a4afaf" transform="rotate(-48 540.9 1434.0)"/>
<ellipse cx="599.1" cy="1434.0" rx="7.8" ry="4.9" fill="#a4afaf" transform="rotate(48 599.1 1434.0)"/>
<path d="M567.9,1414.0 L581.4,1417.0 L587.7,1420.1 L591.7,1423.1 L594.4,1426.2 L596.4,1429.2 L598.4,1433.0 L601.5,1442.5 L603.4,1452.0 L605.7,1461.5 L608.2,1471.0 L610.3,1480.5 L612.2,1490.0 L613.9,1499.5 L615.4,1509.0 L616.8,1518.5 L618.1,1528.0 L619.0,1537.5 L619.3,1547.0 L619.2,1556.5 L618.7,1566.0 L617.3,1575.5 L613.0,1585.0 L610.6,1588.8 L608.1,1591.8 L604.3,1594.9 L599.0,1597.9 L588.7,1601.0 L572.1,1604.0 L572.1,1604.0 L555.4,1601.0 L545.0,1597.9 L539.5,1594.9 L535.7,1591.8 L533.0,1588.8 L530.4,1585.0 L525.7,1575.5 L523.9,1566.0 L523.0,1556.5 L522.4,1547.0 L522.3,1537.5 L522.8,1528.0 L523.7,1518.5 L524.6,1509.0 L525.6,1499.5 L526.9,1490.0 L528.4,1480.5 L530.1,1471.0 L532.2,1461.5 L534.1,1452.0 L535.6,1442.5 L538.1,1433.0 L540.0,1429.2 L541.9,1426.2 L544.4,1423.1 L548.3,1420.1 L554.5,1417.0 L567.9,1414.0Z" fill="#bdc6c6"/>
</g>
<g filter="url(#bl4)">
<path d="M195.7,1442.5 L207.9,1445.0 L213.6,1447.5 L217.1,1450.1 L219.5,1452.6 L221.3,1455.1 L223.0,1458.3 L225.4,1466.2 L226.9,1474.0 L228.8,1481.9 L230.8,1489.8 L232.5,1497.7 L234.0,1505.6 L235.2,1513.5 L236.3,1521.3 L237.3,1529.2 L238.2,1537.1 L238.8,1545.0 L238.8,1552.9 L238.5,1560.8 L237.7,1568.7 L236.2,1576.5 L232.0,1584.4 L229.8,1587.6 L227.4,1590.1 L223.9,1592.6 L218.9,1595.2 L209.5,1597.7 L194.3,1600.2 L194.3,1600.2 L179.2,1597.7 L169.8,1595.2 L164.9,1592.6 L161.5,1590.1 L159.1,1587.6 L156.9,1584.4 L152.9,1576.5 L151.5,1568.7 L150.9,1560.8 L150.6,1552.9 L150.8,1545.0 L151.5,1537.1 L152.6,1529.2 L153.7,1521.3 L154.9,1513.5 L156.3,1505.6 L157.9,1497.7 L159.7,1489.8 L161.9,1481.9 L163.9,1474.0 L165.5,1466.2 L168.1,1458.3 L169.9,1455.1 L171.7,1452.6 L174.0,1450.1 L177.6,1447.5 L183.4,1445.0 L195.7,1442.5Z" fill="#f1f4f4"/>
<path d="M282.8,1442.5 L295.1,1445.0 L300.9,1447.5 L304.6,1450.1 L307.0,1452.6 L308.9,1455.1 L310.7,1458.3 L313.4,1466.2 L315.2,1474.0 L317.3,1481.9 L319.6,1489.8 L321.6,1497.7 L323.4,1505.6 L325.0,1513.5 L326.3,1521.3 L327.6,1529.2 L328.8,1537.1 L329.7,1545.0 L330.0,1552.9 L329.9,1560.8 L329.5,1568.7 L328.2,1576.5 L324.3,1584.4 L322.1,1587.6 L319.9,1590.1 L316.5,1592.6 L311.6,1595.2 L302.2,1597.7 L287.2,1600.2 L287.2,1600.2 L272.0,1597.7 L262.5,1595.2 L257.5,1592.6 L254.0,1590.1 L251.5,1587.6 L249.2,1584.4 L244.8,1576.5 L243.2,1568.7 L242.3,1560.8 L241.8,1552.9 L241.6,1545.0 L242.1,1537.1 L242.9,1529.2 L243.7,1521.3 L244.6,1513.5 L245.7,1505.6 L247.1,1497.7 L248.6,1489.8 L250.5,1481.9 L252.1,1474.0 L253.5,1466.2 L255.8,1458.3 L257.5,1455.1 L259.2,1452.6 L261.5,1450.1 L265.0,1447.5 L270.6,1445.0 L282.8,1442.5Z" fill="#f1f4f4"/>
<path d="M376.1,1442.5 L388.4,1445.0 L394.1,1447.5 L397.8,1450.1 L400.2,1452.6 L402.0,1455.1 L403.8,1458.3 L406.5,1466.2 L408.2,1474.0 L410.2,1481.9 L412.5,1489.8 L414.4,1497.7 L416.0,1505.6 L417.5,1513.5 L418.8,1521.3 L420.0,1529.2 L421.1,1537.1 L421.9,1545.0 L422.2,1552.9 L422.0,1560.8 L421.5,1568.7 L420.2,1576.5 L416.2,1584.4 L414.0,1587.6 L411.7,1590.1 L408.3,1592.6 L403.4,1595.2 L394.0,1597.7 L378.9,1600.2 L378.9,1600.2 L363.8,1597.7 L354.3,1595.2 L349.3,1592.6 L345.8,1590.1 L343.4,1587.6 L341.1,1584.4 L336.8,1576.5 L335.2,1568.7 L334.4,1560.8 L334.0,1552.9 L333.9,1545.0 L334.4,1537.1 L335.3,1529.2 L336.2,1521.3 L337.2,1513.5 L338.4,1505.6 L339.8,1497.7 L341.4,1489.8 L343.4,1481.9 L345.1,1474.0 L346.5,1466.2 L348.9,1458.3 L350.6,1455.1 L352.3,1452.6 L354.7,1450.1 L358.2,1447.5 L363.9,1445.0 L376.1,1442.5Z" fill="#f1f4f4"/>
<path d="M469.1,1442.5 L481.4,1445.0 L487.1,1447.5 L490.7,1450.1 L493.1,1452.6 L494.9,1455.1 L496.7,1458.3 L499.3,1466.2 L501.0,1474.0 L503.0,1481.9 L505.2,1489.8 L507.0,1497.7 L508.6,1505.6 L510.1,1513.5 L511.3,1521.3 L512.5,1529.2 L513.5,1537.1 L514.3,1545.0 L514.5,1552.9 L514.2,1560.8 L513.7,1568.7 L512.3,1576.5 L508.3,1584.4 L506.1,1587.6 L503.8,1590.1 L500.3,1592.6 L495.4,1595.2 L486.0,1597.7 L470.9,1600.2 L470.9,1600.2 L455.8,1597.7 L446.3,1595.2 L441.4,1592.6 L437.9,1590.1 L435.5,1587.6 L433.2,1584.4 L429.0,1576.5 L427.4,1568.7 L426.7,1560.8 L426.3,1552.9 L426.3,1545.0 L426.8,1537.1 L427.7,1529.2 L428.7,1521.3 L429.7,1513.5 L431.0,1505.6 L432.4,1497.7 L434.1,1489.8 L436.1,1481.9 L437.9,1474.0 L439.4,1466.2 L441.8,1458.3 L443.5,1455.1 L445.3,1452.6 L447.6,1450.1 L451.2,1447.5 L456.8,1445.0 L469.1,1442.5Z" fill="#f1f4f4"/>
<path d="M567.9,1442.5 L580.2,1445.0 L586.0,1447.5 L589.6,1450.1 L592.0,1452.6 L593.9,1455.1 L595.7,1458.3 L598.5,1466.2 L600.3,1474.0 L602.4,1481.9 L604.7,1489.8 L606.6,1497.7 L608.4,1505.6 L610.0,1513.5 L611.3,1521.3 L612.6,1529.2 L613.8,1537.1 L614.7,1545.0 L615.0,1552.9 L614.9,1560.8 L614.4,1568.7 L613.2,1576.5 L609.3,1584.4 L607.1,1587.6 L604.8,1590.1 L601.4,1592.6 L596.6,1595.2 L587.2,1597.7 L572.1,1600.2 L572.1,1600.2 L556.9,1597.7 L547.4,1595.2 L542.5,1592.6 L538.9,1590.1 L536.5,1587.6 L534.1,1584.4 L529.8,1576.5 L528.1,1568.7 L527.3,1560.8 L526.8,1552.9 L526.6,1545.0 L527.1,1537.1 L527.8,1529.2 L528.7,1521.3 L529.6,1513.5 L530.8,1505.6 L532.1,1497.7 L533.6,1489.8 L535.5,1481.9 L537.2,1474.0 L538.5,1466.2 L540.9,1458.3 L542.5,1455.1 L544.2,1452.6 L546.5,1450.1 L550.0,1447.5 L555.7,1445.0 L567.9,1442.5Z" fill="#f1f4f4"/>
</g>
<g filter="url(#bl5)">
<ellipse cx="195.0" cy="1531.8" rx="35.9" ry="57.0" fill="#fff"/>
<ellipse cx="285.0" cy="1531.8" rx="35.9" ry="57.0" fill="#fff"/>
<ellipse cx="377.5" cy="1531.8" rx="35.9" ry="57.0" fill="#fff"/>
<ellipse cx="470.0" cy="1531.8" rx="35.9" ry="57.0" fill="#fff"/>
<ellipse cx="570.0" cy="1531.8" rx="35.9" ry="57.0" fill="#fff"/>
</g>
<rect x="135.8" y="1403.9" width="477.6" height="216.7" filter="url(#fur)" opacity="0.16"/>
<rect x="135.8" y="1403.9" width="477.6" height="216.7" filter="url(#furw)" opacity="0.12"/>
<g filter="url(#rag)" fill="#4c48ee">
<ellipse cx="226.2" cy="1569.5" rx="23.8" ry="25.0"/>
<ellipse cx="327.5" cy="1569.5" rx="11.5" ry="12.0"/>
<polygon points="380.0,1552.0 387.5,1537.0 400.0,1514.5 412.5,1504.5 420.0,1514.5 425.0,1530.8 430.0,1514.5 442.5,1504.5 455.0,1517.0 462.5,1537.0 465.0,1567.0 460.0,1587.0 450.0,1594.5 452.5,1617.0 445.0,1612.0 440.0,1594.5 425.0,1589.5 415.0,1597.0 420.0,1618.2 412.5,1612.0 405.0,1594.5 385.0,1594.5 380.0,1577.0"/>
<polygon points="466.2,1547.0 480.0,1527.0 490.0,1507.0 497.5,1489.5 502.5,1494.5 515.0,1518.2 527.5,1497.0 540.0,1487.0 555.0,1507.0 562.5,1532.0 570.0,1547.0 567.5,1587.0 555.0,1592.0 530.0,1587.0 515.0,1592.0 507.5,1607.0 500.0,1604.5 497.5,1592.0 480.0,1594.5 467.5,1582.0"/>
<ellipse cx="540.0" cy="1472.0" rx="3.5" ry="15.0"/>
<ellipse cx="495.5" cy="1469.5" rx="2.5" ry="12.5"/>
<ellipse cx="450.0" cy="1487.0" rx="3.0" ry="6.2"/>
<polygon points="570.0,1547.0 580.0,1532.0 592.5,1522.0 605.0,1517.0 616.2,1522.0 616.2,1572.0 605.0,1582.0 592.5,1592.0 577.5,1587.0 570.0,1572.0"/>
</g>
<g clip-path="url(#bc5)">
<ellipse cx="417.5" cy="1562.0" rx="16.5" ry="24.0" fill="url(#glow)"/>
<ellipse cx="510.0" cy="1553.2" rx="27.0" ry="34.5" fill="url(#glow)"/>
<ellipse cx="602.0" cy="1550.8" rx="16.5" ry="19.5" fill="url(#glow)"/>
<ellipse cx="417.5" cy="1562.0" rx="5.5" ry="8.0" fill="url(#hotG)"/>
<ellipse cx="510.0" cy="1553.2" rx="9.0" ry="11.5" fill="url(#hotR)"/>
<ellipse cx="602.0" cy="1550.8" rx="5.5" ry="6.5" fill="url(#hotC)"/>
</g>
</g>
<g clip-path="url(#cp7)">
<rect x="632.5" y="1403.9" width="471.4" height="216.7" fill="url(#bgG)"/>
<g filter="url(#bl6)" fill="#161a1a" opacity="0.8">
<ellipse cx="694.0" cy="1503.0" rx="51.6" ry="97.4"/>
<ellipse cx="786.0" cy="1503.0" rx="51.6" ry="97.4"/>
<ellipse cx="875.0" cy="1503.0" rx="51.6" ry="97.4"/>
<ellipse cx="963.7" cy="1503.0" rx="51.6" ry="97.4"/>
<ellipse cx="1058.5" cy="1503.0" rx="51.6" ry="97.4"/>
</g>
<rect x="668.8" y="1405.9" width="6.4" height="19" rx="3" fill="#1c2222" stroke="#3d4545" stroke-width="1"/>
<rect x="727.8" y="1405.9" width="6.4" height="19" rx="3" fill="#1c2222" stroke="#3d4545" stroke-width="1"/>
<path d="M695.0,1403.9 L707.0,1403.9 L711.0,1420.0 L691.0,1420.0Z" fill="#8d9696"/>
<rect x="760.8" y="1405.9" width="6.4" height="19" rx="3" fill="#1c2222" stroke="#3d4545" stroke-width="1"/>
<rect x="819.8" y="1405.9" width="6.4" height="19" rx="3" fill="#1c2222" stroke="#3d4545" stroke-width="1"/>
<path d="M787.0,1403.9 L799.0,1403.9 L803.0,1420.0 L783.0,1420.0Z" fill="#8d9696"/>
<rect x="849.8" y="1405.9" width="6.4" height="19" rx="3" fill="#1c2222" stroke="#3d4545" stroke-width="1"/>
<rect x="908.8" y="1405.9" width="6.4" height="19" rx="3" fill="#1c2222" stroke="#3d4545" stroke-width="1"/>
<path d="M876.0,1403.9 L888.0,1403.9 L892.0,1420.0 L872.0,1420.0Z" fill="#8d9696"/>
<rect x="938.5" y="1405.9" width="6.4" height="19" rx="3" fill="#1c2222" stroke="#3d4545" stroke-width="1"/>
<rect x="997.5" y="1405.9" width="6.4" height="19" rx="3" fill="#1c2222" stroke="#3d4545" stroke-width="1"/>
<path d="M964.7,1403.9 L976.7,1403.9 L980.7,1420.0 L960.7,1420.0Z" fill="#8d9696"/>
<rect x="1033.3" y="1405.9" width="6.4" height="19" rx="3" fill="#1c2222" stroke="#3d4545" stroke-width="1"/>
<rect x="1092.3" y="1405.9" width="6.4" height="19" rx="3" fill="#1c2222" stroke="#3d4545" stroke-width="1"/>
<path d="M1059.5,1403.9 L1071.5,1403.9 L1075.5,1420.0 L1055.5,1420.0Z" fill="#8d9696"/>
<g filter="url(#bl1)" stroke-linecap="round" fill="none">
<line x1="696.9" y1="1582.0" x2="695.1" y2="1624.6" stroke="#d6d6d6" stroke-width="6.5"/>
<line x1="672.6" y1="1580.0" x2="663.4" y2="1608.8" stroke="#8c8c8c" stroke-width="6"/>
<line x1="715.4" y1="1580.0" x2="726.8" y2="1608.1" stroke="#8c8c8c" stroke-width="6"/>
<line x1="788.5" y1="1582.0" x2="787.2" y2="1624.6" stroke="#d6d6d6" stroke-width="6.5"/>
<line x1="764.6" y1="1580.0" x2="752.7" y2="1608.1" stroke="#8c8c8c" stroke-width="6"/>
<line x1="807.4" y1="1580.0" x2="811.2" y2="1607.5" stroke="#8c8c8c" stroke-width="6"/>
<line x1="875.8" y1="1582.0" x2="873.9" y2="1624.6" stroke="#d6d6d6" stroke-width="6.5"/>
<line x1="853.6" y1="1580.0" x2="847.8" y2="1604.1" stroke="#8c8c8c" stroke-width="6"/>
<line x1="896.4" y1="1580.0" x2="899.1" y2="1605.7" stroke="#8c8c8c" stroke-width="6"/>
<line x1="962.1" y1="1582.0" x2="961.2" y2="1624.6" stroke="#d6d6d6" stroke-width="6.5"/>
<line x1="942.3" y1="1580.0" x2="932.6" y2="1608.2" stroke="#8c8c8c" stroke-width="6"/>
<line x1="985.1" y1="1580.0" x2="995.6" y2="1613.0" stroke="#8c8c8c" stroke-width="6"/>
<line x1="1060.9" y1="1582.0" x2="1062.7" y2="1624.6" stroke="#d6d6d6" stroke-width="6.5"/>
<line x1="1037.1" y1="1580.0" x2="1029.4" y2="1610.7" stroke="#8c8c8c" stroke-width="6"/>
<line x1="1079.9" y1="1580.0" x2="1090.7" y2="1609.4" stroke="#8c8c8c" stroke-width="6"/>
</g>
<g filter="url(#bl2)">
<ellipse cx="667.3" cy="1434.3" rx="7.1" ry="4.5" fill="#a4afaf" transform="rotate(-48 667.3 1434.3)"/>
<ellipse cx="720.7" cy="1434.3" rx="7.1" ry="4.5" fill="#a4afaf" transform="rotate(48 720.7 1434.3)"/>
<path d="M695.9,1416.0 L708.2,1418.8 L713.9,1421.6 L717.5,1424.4 L719.8,1427.1 L721.5,1429.9 L723.2,1433.4 L725.6,1442.1 L726.9,1450.8 L728.7,1459.5 L730.6,1468.2 L732.2,1476.9 L733.5,1485.6 L734.7,1494.3 L735.7,1503.0 L736.5,1511.7 L737.3,1520.4 L737.8,1529.1 L737.7,1537.8 L737.2,1546.5 L736.4,1555.2 L734.7,1563.9 L730.3,1572.6 L728.0,1576.1 L725.6,1578.9 L722.0,1581.6 L717.0,1584.4 L707.4,1587.2 L692.1,1590.0 L692.1,1590.0 L676.9,1587.2 L667.4,1584.4 L662.6,1581.6 L659.1,1578.9 L656.8,1576.1 L654.6,1572.6 L650.6,1563.9 L649.4,1555.2 L648.9,1546.5 L648.8,1537.8 L649.1,1529.1 L649.9,1520.4 L651.1,1511.7 L652.3,1503.0 L653.7,1494.3 L655.2,1485.6 L657.0,1476.9 L658.9,1468.2 L661.3,1459.5 L663.3,1450.8 L665.1,1442.1 L667.9,1433.4 L669.7,1429.9 L671.6,1427.1 L674.0,1424.4 L677.7,1421.6 L683.5,1418.8 L695.9,1416.0Z" fill="#bdc6c6"/>
<ellipse cx="759.3" cy="1434.3" rx="7.1" ry="4.5" fill="#a4afaf" transform="rotate(-48 759.3 1434.3)"/>
<ellipse cx="812.7" cy="1434.3" rx="7.1" ry="4.5" fill="#a4afaf" transform="rotate(48 812.7 1434.3)"/>
<path d="M785.9,1416.0 L798.3,1418.8 L804.0,1421.6 L807.6,1424.4 L810.0,1427.1 L811.8,1429.9 L813.6,1433.4 L816.2,1442.1 L817.7,1450.8 L819.6,1459.5 L821.8,1468.2 L823.6,1476.9 L825.1,1485.6 L826.5,1494.3 L827.7,1503.0 L828.7,1511.7 L829.7,1520.4 L830.4,1529.1 L830.5,1537.8 L830.2,1546.5 L829.6,1555.2 L828.1,1563.9 L824.0,1572.6 L821.7,1576.1 L819.3,1578.9 L815.8,1581.6 L810.9,1584.4 L801.4,1587.2 L786.1,1590.0 L786.1,1590.0 L770.9,1587.2 L761.3,1584.4 L756.4,1581.6 L752.9,1578.9 L750.5,1576.1 L748.2,1572.6 L744.0,1563.9 L742.6,1555.2 L741.9,1546.5 L741.6,1537.8 L741.7,1529.1 L742.3,1520.4 L743.3,1511.7 L744.3,1503.0 L745.5,1494.3 L746.8,1485.6 L748.4,1476.9 L750.1,1468.2 L752.2,1459.5 L754.1,1450.8 L755.7,1442.1 L758.3,1433.4 L760.0,1429.9 L761.8,1427.1 L764.2,1424.4 L767.8,1421.6 L773.5,1418.8 L785.9,1416.0Z" fill="#bdc6c6"/>
<ellipse cx="848.3" cy="1434.3" rx="7.1" ry="4.5" fill="#a4afaf" transform="rotate(-48 848.3 1434.3)"/>
<ellipse cx="901.7" cy="1434.3" rx="7.1" ry="4.5" fill="#a4afaf" transform="rotate(48 901.7 1434.3)"/>
<path d="M874.8,1416.0 L887.2,1418.8 L893.0,1421.6 L896.6,1424.4 L899.0,1427.1 L900.8,1429.9 L902.5,1433.4 L905.1,1442.1 L906.7,1450.8 L908.6,1459.5 L910.8,1468.2 L912.5,1476.9 L914.1,1485.6 L915.5,1494.3 L916.7,1503.0 L917.7,1511.7 L918.7,1520.4 L919.4,1529.1 L919.5,1537.8 L919.2,1546.5 L918.6,1555.2 L917.1,1563.9 L913.0,1572.6 L910.7,1576.1 L908.4,1578.9 L904.9,1581.6 L899.9,1584.4 L890.4,1587.2 L875.2,1590.0 L875.2,1590.0 L859.9,1587.2 L850.4,1584.4 L845.4,1581.6 L841.9,1578.9 L839.5,1576.1 L837.3,1572.6 L833.1,1563.9 L831.6,1555.2 L830.9,1546.5 L830.6,1537.8 L830.7,1529.1 L831.3,1520.4 L832.3,1511.7 L833.3,1503.0 L834.5,1494.3 L835.8,1485.6 L837.4,1476.9 L839.1,1468.2 L841.2,1459.5 L843.1,1450.8 L844.7,1442.1 L847.2,1433.4 L848.9,1429.9 L850.8,1427.1 L853.1,1424.4 L856.7,1421.6 L862.5,1418.8 L874.8,1416.0Z" fill="#bdc6c6"/>
<ellipse cx="937.0" cy="1434.3" rx="7.1" ry="4.5" fill="#a4afaf" transform="rotate(-48 937.0 1434.3)"/>
<ellipse cx="990.4" cy="1434.3" rx="7.1" ry="4.5" fill="#a4afaf" transform="rotate(48 990.4 1434.3)"/>
<path d="M965.4,1416.0 L977.7,1418.8 L983.4,1421.6 L987.0,1424.4 L989.3,1427.1 L991.1,1429.9 L992.7,1433.4 L995.1,1442.1 L996.5,1450.8 L998.3,1459.5 L1000.2,1468.2 L1001.8,1476.9 L1003.2,1485.6 L1004.4,1494.3 L1005.4,1503.0 L1006.2,1511.7 L1007.1,1520.4 L1007.6,1529.1 L1007.5,1537.8 L1007.0,1546.5 L1006.2,1555.2 L1004.5,1563.9 L1000.2,1572.6 L997.9,1576.1 L995.4,1578.9 L991.9,1581.6 L986.9,1584.4 L977.3,1587.2 L962.0,1590.0 L962.0,1590.0 L946.8,1587.2 L937.3,1584.4 L932.4,1581.6 L929.0,1578.9 L926.7,1576.1 L924.5,1572.6 L920.5,1563.9 L919.2,1555.2 L918.7,1546.5 L918.5,1537.8 L918.8,1529.1 L919.6,1520.4 L920.8,1511.7 L922.0,1503.0 L923.4,1494.3 L924.9,1485.6 L926.6,1476.9 L928.6,1468.2 L930.9,1459.5 L932.9,1450.8 L934.7,1442.1 L937.4,1433.4 L939.2,1429.9 L941.1,1427.1 L943.5,1424.4 L947.2,1421.6 L953.0,1418.8 L965.4,1416.0Z" fill="#bdc6c6"/>
<ellipse cx="1031.8" cy="1434.3" rx="7.1" ry="4.5" fill="#a4afaf" transform="rotate(-48 1031.8 1434.3)"/>
<ellipse cx="1085.2" cy="1434.3" rx="7.1" ry="4.5" fill="#a4afaf" transform="rotate(48 1085.2 1434.3)"/>
<path d="M1060.7,1416.0 L1073.0,1418.8 L1078.7,1421.6 L1082.2,1424.4 L1084.5,1427.1 L1086.2,1429.9 L1087.9,1433.4 L1090.3,1442.1 L1091.6,1450.8 L1093.3,1459.5 L1095.2,1468.2 L1096.7,1476.9 L1098.1,1485.6 L1099.2,1494.3 L1100.2,1503.0 L1101.0,1511.7 L1101.8,1520.4 L1102.2,1529.1 L1102.1,1537.8 L1101.6,1546.5 L1100.7,1555.2 L1099.0,1563.9 L1094.6,1572.6 L1092.3,1576.1 L1089.8,1578.9 L1086.3,1581.6 L1081.2,1584.4 L1071.6,1587.2 L1056.3,1590.0 L1056.3,1590.0 L1041.1,1587.2 L1031.7,1584.4 L1026.8,1581.6 L1023.4,1578.9 L1021.1,1576.1 L1018.9,1572.6 L1014.9,1563.9 L1013.7,1555.2 L1013.3,1546.5 L1013.2,1537.8 L1013.5,1529.1 L1014.4,1520.4 L1015.6,1511.7 L1016.8,1503.0 L1018.2,1494.3 L1019.8,1485.6 L1021.6,1476.9 L1023.6,1468.2 L1025.9,1459.5 L1028.0,1450.8 L1029.8,1442.1 L1032.6,1433.4 L1034.4,1429.9 L1036.3,1427.1 L1038.7,1424.4 L1042.4,1421.6 L1048.2,1418.8 L1060.7,1416.0Z" fill="#bdc6c6"/>
</g>
<g filter="url(#bl4)">
<path d="M695.9,1442.1 L707.1,1444.4 L712.3,1446.7 L715.5,1449.0 L717.6,1451.3 L719.2,1453.7 L720.7,1456.5 L722.8,1463.8 L724.1,1471.0 L725.6,1478.2 L727.4,1485.4 L728.8,1492.6 L730.0,1499.9 L731.1,1507.1 L731.9,1514.3 L732.7,1521.5 L733.4,1528.8 L733.8,1536.0 L733.7,1543.2 L733.2,1550.4 L732.4,1557.6 L730.9,1564.9 L726.9,1572.1 L724.8,1575.0 L722.6,1577.3 L719.3,1579.6 L714.8,1581.9 L706.0,1584.2 L692.1,1586.5 L692.1,1586.5 L678.3,1584.2 L669.7,1581.9 L665.2,1579.6 L662.1,1577.3 L660.0,1575.0 L658.0,1572.1 L654.4,1564.9 L653.3,1557.6 L652.9,1550.4 L652.8,1543.2 L653.0,1536.0 L653.8,1528.8 L654.9,1521.5 L656.1,1514.3 L657.3,1507.1 L658.8,1499.9 L660.4,1492.6 L662.2,1485.4 L664.3,1478.2 L666.2,1471.0 L667.8,1463.8 L670.4,1456.5 L672.0,1453.7 L673.7,1451.3 L676.0,1449.0 L679.3,1446.7 L684.6,1444.4 L695.9,1442.1Z" fill="#f1f4f4"/>
<path d="M785.9,1442.1 L797.1,1444.4 L802.4,1446.7 L805.7,1449.0 L807.8,1451.3 L809.5,1453.7 L811.1,1456.5 L813.4,1463.8 L814.9,1471.0 L816.6,1478.2 L818.6,1485.4 L820.2,1492.6 L821.6,1499.9 L822.9,1507.1 L823.9,1514.3 L824.9,1521.5 L825.8,1528.8 L826.4,1536.0 L826.5,1543.2 L826.2,1550.4 L825.6,1557.6 L824.3,1564.9 L820.6,1572.1 L818.5,1575.0 L816.3,1577.3 L813.1,1579.6 L808.6,1581.9 L800.0,1584.2 L786.1,1586.5 L786.1,1586.5 L772.2,1584.2 L763.6,1581.9 L759.1,1579.6 L755.9,1577.3 L753.7,1575.0 L751.6,1572.1 L747.8,1564.9 L746.5,1557.6 L745.9,1550.4 L745.6,1543.2 L745.7,1536.0 L746.2,1528.8 L747.1,1521.5 L748.1,1514.3 L749.1,1507.1 L750.4,1499.9 L751.8,1492.6 L753.4,1485.4 L755.3,1478.2 L757.0,1471.0 L758.4,1463.8 L760.7,1456.5 L762.3,1453.7 L764.0,1451.3 L766.1,1449.0 L769.4,1446.7 L774.6,1444.4 L785.9,1442.1Z" fill="#f1f4f4"/>
<path d="M874.8,1442.1 L886.1,1444.4 L891.3,1446.7 L894.6,1449.0 L896.8,1451.3 L898.4,1453.7 L900.0,1456.5 L902.4,1463.8 L903.8,1471.0 L905.6,1478.2 L907.5,1485.4 L909.2,1492.6 L910.6,1499.9 L911.8,1507.1 L912.9,1514.3 L913.9,1521.5 L914.8,1528.8 L915.4,1536.0 L915.5,1543.2 L915.2,1550.4 L914.7,1557.6 L913.4,1564.9 L909.6,1572.1 L907.5,1575.0 L905.4,1577.3 L902.2,1579.6 L897.7,1581.9 L889.0,1584.2 L875.2,1586.5 L875.2,1586.5 L861.3,1584.2 L852.6,1581.9 L848.1,1579.6 L844.9,1577.3 L842.7,1575.0 L840.7,1572.1 L836.9,1564.9 L835.5,1557.6 L834.9,1550.4 L834.6,1543.2 L834.7,1536.0 L835.3,1528.8 L836.1,1521.5 L837.1,1514.3 L838.1,1507.1 L839.3,1499.9 L840.7,1492.6 L842.3,1485.4 L844.3,1478.2 L846.0,1471.0 L847.4,1463.8 L849.7,1456.5 L851.3,1453.7 L852.9,1451.3 L855.1,1449.0 L858.4,1446.7 L863.6,1444.4 L874.8,1442.1Z" fill="#f1f4f4"/>
<path d="M965.4,1442.1 L976.6,1444.4 L981.8,1446.7 L985.0,1449.0 L987.1,1451.3 L988.7,1453.7 L990.2,1456.5 L992.4,1463.8 L993.7,1471.0 L995.2,1478.2 L997.0,1485.4 L998.4,1492.6 L999.7,1499.9 L1000.7,1507.1 L1001.6,1514.3 L1002.4,1521.5 L1003.1,1528.8 L1003.6,1536.0 L1003.5,1543.2 L1003.0,1550.4 L1002.3,1557.6 L1000.8,1564.9 L996.8,1572.1 L994.7,1575.0 L992.4,1577.3 L989.2,1579.6 L984.6,1581.9 L975.9,1584.2 L962.0,1586.5 L962.0,1586.5 L948.2,1584.2 L939.6,1581.9 L935.1,1579.6 L932.0,1577.3 L929.9,1575.0 L927.9,1572.1 L924.3,1564.9 L923.1,1557.6 L922.7,1550.4 L922.5,1543.2 L922.8,1536.0 L923.6,1528.8 L924.7,1521.5 L925.8,1514.3 L927.0,1507.1 L928.4,1499.9 L930.0,1492.6 L931.8,1485.4 L933.9,1478.2 L935.8,1471.0 L937.4,1463.8 L939.9,1456.5 L941.6,1453.7 L943.3,1451.3 L945.5,1449.0 L948.8,1446.7 L954.1,1444.4 L965.4,1442.1Z" fill="#f1f4f4"/>
<path d="M1060.7,1442.1 L1071.9,1444.4 L1077.0,1446.7 L1080.2,1449.0 L1082.3,1451.3 L1083.9,1453.7 L1085.4,1456.5 L1087.5,1463.8 L1088.7,1471.0 L1090.3,1478.2 L1092.0,1485.4 L1093.4,1492.6 L1094.6,1499.9 L1095.6,1507.1 L1096.4,1514.3 L1097.2,1521.5 L1097.8,1528.8 L1098.2,1536.0 L1098.1,1543.2 L1097.6,1550.4 L1096.8,1557.6 L1095.2,1564.9 L1091.2,1572.1 L1089.1,1575.0 L1086.8,1577.3 L1083.6,1579.6 L1079.0,1581.9 L1070.3,1584.2 L1056.3,1586.5 L1056.3,1586.5 L1042.5,1584.2 L1033.9,1581.9 L1029.5,1579.6 L1026.4,1577.3 L1024.3,1575.0 L1022.3,1572.1 L1018.7,1564.9 L1017.6,1557.6 L1017.2,1550.4 L1017.2,1543.2 L1017.5,1536.0 L1018.3,1528.8 L1019.4,1521.5 L1020.6,1514.3 L1021.9,1507.1 L1023.3,1499.9 L1024.9,1492.6 L1026.8,1485.4 L1028.9,1478.2 L1030.9,1471.0 L1032.5,1463.8 L1035.1,1456.5 L1036.7,1453.7 L1038.5,1451.3 L1040.7,1449.0 L1044.1,1446.7 L1049.4,1444.4 L1060.7,1442.1Z" fill="#f1f4f4"/>
</g>
<g filter="url(#bl5)">
<ellipse cx="694.0" cy="1523.9" rx="32.9" ry="52.2" fill="#fff"/>
<ellipse cx="786.0" cy="1523.9" rx="32.9" ry="52.2" fill="#fff"/>
<ellipse cx="875.0" cy="1523.9" rx="32.9" ry="52.2" fill="#fff"/>
<ellipse cx="963.7" cy="1523.9" rx="32.9" ry="52.2" fill="#fff"/>
<ellipse cx="1058.5" cy="1523.9" rx="32.9" ry="52.2" fill="#fff"/>
</g>
<rect x="632.5" y="1403.9" width="471.4" height="216.7" filter="url(#fur)" opacity="0.16"/>
<rect x="632.5" y="1403.9" width="471.4" height="216.7" filter="url(#furw)" opacity="0.12"/>
<g filter="url(#rag)" fill="#4c48ee">
<ellipse cx="724.3" cy="1553.5" rx="12.6" ry="24.1"/>
<ellipse cx="746.9" cy="1549.0" rx="10.5" ry="22.6"/>
<ellipse cx="759.0" cy="1556.5" rx="3.6" ry="9.0"/>
<ellipse cx="825.2" cy="1555.6" rx="2.7" ry="4.2"/>
<ellipse cx="1006.7" cy="1547.5" rx="2.1" ry="4.5"/>
</g>
</g>
<text x="22.3" y="1427.2" font-size="35.5" class="my" textLength="106.5" lengthAdjust="spacingAndGlyphs">Day 22</text>
<g clip-path="url(#cp8)">
<rect x="135.8" y="1630.0" width="477.6" height="216.8" fill="url(#bgG)"/>
<g filter="url(#bl6)" fill="#161a1a" opacity="0.8">
<ellipse cx="192.5" cy="1737.0" rx="53.4" ry="103.0"/>
<ellipse cx="286.0" cy="1737.0" rx="53.4" ry="103.0"/>
<ellipse cx="374.0" cy="1737.0" rx="53.4" ry="103.0"/>
<ellipse cx="465.0" cy="1737.0" rx="53.4" ry="103.0"/>
<ellipse cx="565.0" cy="1737.0" rx="53.4" ry="103.0"/>
</g>
<rect x="167.3" y="1632.0" width="6.4" height="19" rx="3" fill="#1c2222" stroke="#3d4545" stroke-width="1"/>
<rect x="226.3" y="1632.0" width="6.4" height="19" rx="3" fill="#1c2222" stroke="#3d4545" stroke-width="1"/>
<rect x="192.5" y="1630.0" width="14" height="17.0" fill="#9aa5a5" opacity="0.35"/>
<rect x="195.2" y="1630.0" width="3.6" height="14.0" fill="#fff"/>
<rect x="200.2" y="1630.0" width="3.6" height="14.0" fill="#fff"/>
<rect x="260.8" y="1632.0" width="6.4" height="19" rx="3" fill="#1c2222" stroke="#3d4545" stroke-width="1"/>
<rect x="319.8" y="1632.0" width="6.4" height="19" rx="3" fill="#1c2222" stroke="#3d4545" stroke-width="1"/>
<rect x="286.0" y="1630.0" width="14" height="17.0" fill="#9aa5a5" opacity="0.35"/>
<rect x="288.7" y="1630.0" width="3.6" height="14.0" fill="#fff"/>
<rect x="293.7" y="1630.0" width="3.6" height="14.0" fill="#fff"/>
<rect x="348.8" y="1632.0" width="6.4" height="19" rx="3" fill="#1c2222" stroke="#3d4545" stroke-width="1"/>
<rect x="407.8" y="1632.0" width="6.4" height="19" rx="3" fill="#1c2222" stroke="#3d4545" stroke-width="1"/>
<rect x="374.0" y="1630.0" width="14" height="17.0" fill="#9aa5a5" opacity="0.35"/>
<rect x="376.7" y="1630.0" width="3.6" height="14.0" fill="#fff"/>
<rect x="381.7" y="1630.0" width="3.6" height="14.0" fill="#fff"/>
<rect x="439.8" y="1632.0" width="6.4" height="19" rx="3" fill="#1c2222" stroke="#3d4545" stroke-width="1"/>
<rect x="498.8" y="1632.0" width="6.4" height="19" rx="3" fill="#1c2222" stroke="#3d4545" stroke-width="1"/>
<rect x="465.0" y="1630.0" width="14" height="17.0" fill="#9aa5a5" opacity="0.35"/>
<rect x="467.7" y="1630.0" width="3.6" height="14.0" fill="#fff"/>
<rect x="472.7" y="1630.0" width="3.6" height="14.0" fill="#fff"/>
<rect x="539.8" y="1632.0" width="6.4" height="19" rx="3" fill="#1c2222" stroke="#3d4545" stroke-width="1"/>
<rect x="598.8" y="1632.0" width="6.4" height="19" rx="3" fill="#1c2222" stroke="#3d4545" stroke-width="1"/>
<rect x="565.0" y="1630.0" width="14" height="17.0" fill="#9aa5a5" opacity="0.35"/>
<rect x="567.7" y="1630.0" width="3.6" height="14.0" fill="#fff"/>
<rect x="572.7" y="1630.0" width="3.6" height="14.0" fill="#fff"/>
<g filter="url(#bl1)" stroke-linecap="round" fill="none">
<line x1="190.8" y1="1821.0" x2="192.6" y2="1850.8" stroke="#d6d6d6" stroke-width="6.5"/>
<line x1="170.4" y1="1819.0" x2="159.0" y2="1843.2" stroke="#8c8c8c" stroke-width="6"/>
<line x1="214.6" y1="1819.0" x2="225.0" y2="1844.8" stroke="#8c8c8c" stroke-width="6"/>
<line x1="287.1" y1="1821.0" x2="285.1" y2="1850.8" stroke="#d6d6d6" stroke-width="6.5"/>
<line x1="263.9" y1="1819.0" x2="253.6" y2="1844.8" stroke="#8c8c8c" stroke-width="6"/>
<line x1="308.1" y1="1819.0" x2="318.1" y2="1844.8" stroke="#8c8c8c" stroke-width="6"/>
<line x1="375.6" y1="1821.0" x2="376.5" y2="1850.8" stroke="#d6d6d6" stroke-width="6.5"/>
<line x1="351.9" y1="1819.0" x2="346.5" y2="1844.8" stroke="#8c8c8c" stroke-width="6"/>
<line x1="396.1" y1="1819.0" x2="407.8" y2="1844.8" stroke="#8c8c8c" stroke-width="6"/>
<line x1="467.4" y1="1821.0" x2="465.8" y2="1850.8" stroke="#d6d6d6" stroke-width="6.5"/>
<line x1="442.9" y1="1819.0" x2="434.5" y2="1844.8" stroke="#8c8c8c" stroke-width="6"/>
<line x1="487.1" y1="1819.0" x2="492.1" y2="1843.5" stroke="#8c8c8c" stroke-width="6"/>
<line x1="566.5" y1="1821.0" x2="566.7" y2="1850.8" stroke="#d6d6d6" stroke-width="6.5"/>
<line x1="542.9" y1="1819.0" x2="531.3" y2="1844.8" stroke="#8c8c8c" stroke-width="6"/>
<line x1="587.1" y1="1819.0" x2="590.0" y2="1844.8" stroke="#8c8c8c" stroke-width="6"/>
</g>
<g filter="url(#bl2)">
<ellipse cx="164.9" cy="1664.3" rx="7.4" ry="4.8" fill="#a4afaf" transform="rotate(-48 164.9 1664.3)"/>
<ellipse cx="220.1" cy="1664.3" rx="7.4" ry="4.8" fill="#a4afaf" transform="rotate(48 220.1 1664.3)"/>
<path d="M190.6,1645.0 L203.4,1647.9 L209.4,1650.9 L213.2,1653.8 L215.8,1656.8 L217.7,1659.7 L219.6,1663.4 L222.4,1672.6 L224.2,1681.8 L226.4,1691.0 L228.8,1700.2 L230.8,1709.4 L232.6,1718.6 L234.2,1727.8 L235.6,1737.0 L236.8,1746.2 L238.1,1755.4 L238.9,1764.6 L239.2,1773.8 L239.1,1783.0 L238.6,1792.2 L237.3,1801.4 L233.2,1810.6 L230.9,1814.3 L228.5,1817.2 L224.9,1820.2 L219.9,1823.1 L210.1,1826.1 L194.4,1829.0 L194.4,1829.0 L178.6,1826.1 L168.7,1823.1 L163.5,1820.2 L159.8,1817.2 L157.3,1814.3 L154.9,1810.6 L150.4,1801.4 L148.7,1792.2 L147.8,1783.0 L147.3,1773.8 L147.2,1764.6 L147.7,1755.4 L148.5,1746.2 L149.4,1737.0 L150.4,1727.8 L151.7,1718.6 L153.1,1709.4 L154.7,1700.2 L156.7,1691.0 L158.5,1681.8 L159.9,1672.6 L162.4,1663.4 L164.1,1659.7 L165.9,1656.8 L168.3,1653.8 L172.0,1650.9 L177.9,1647.9 L190.6,1645.0Z" fill="#bdc6c6"/>
<ellipse cx="258.4" cy="1664.3" rx="7.4" ry="4.8" fill="#a4afaf" transform="rotate(-48 258.4 1664.3)"/>
<ellipse cx="313.6" cy="1664.3" rx="7.4" ry="4.8" fill="#a4afaf" transform="rotate(48 313.6 1664.3)"/>
<path d="M285.2,1645.0 L298.0,1647.9 L304.0,1650.9 L307.7,1653.8 L310.2,1656.8 L312.1,1659.7 L313.9,1663.4 L316.7,1672.6 L318.4,1681.8 L320.4,1691.0 L322.7,1700.2 L324.6,1709.4 L326.3,1718.6 L327.8,1727.8 L329.1,1737.0 L330.2,1746.2 L331.3,1755.4 L332.1,1764.6 L332.3,1773.8 L332.0,1783.0 L331.5,1792.2 L330.0,1801.4 L325.8,1810.6 L323.5,1814.3 L321.1,1817.2 L317.5,1820.2 L312.4,1823.1 L302.6,1826.1 L286.8,1829.0 L286.8,1829.0 L271.0,1826.1 L261.2,1823.1 L256.0,1820.2 L252.4,1817.2 L249.9,1814.3 L247.5,1810.6 L243.1,1801.4 L241.5,1792.2 L240.8,1783.0 L240.4,1773.8 L240.4,1764.6 L241.0,1755.4 L241.9,1746.2 L242.9,1737.0 L244.0,1727.8 L245.4,1718.6 L246.9,1709.4 L248.6,1700.2 L250.8,1691.0 L252.6,1681.8 L254.2,1672.6 L256.8,1663.4 L258.5,1659.7 L260.4,1656.8 L262.8,1653.8 L266.5,1650.9 L272.4,1647.9 L285.2,1645.0Z" fill="#bdc6c6"/>
<ellipse cx="346.4" cy="1664.3" rx="7.4" ry="4.8" fill="#a4afaf" transform="rotate(-48 346.4 1664.3)"/>
<ellipse cx="401.6" cy="1664.3" rx="7.4" ry="4.8" fill="#a4afaf" transform="rotate(48 401.6 1664.3)"/>
<path d="M376.2,1645.0 L388.9,1647.9 L394.8,1650.9 L398.4,1653.8 L400.8,1656.8 L402.6,1659.7 L404.3,1663.4 L406.8,1672.6 L408.2,1681.8 L409.9,1691.0 L411.9,1700.2 L413.5,1709.4 L414.9,1718.6 L416.1,1727.8 L417.1,1737.0 L417.9,1746.2 L418.7,1755.4 L419.2,1764.6 L419.1,1773.8 L418.5,1783.0 L417.7,1792.2 L415.9,1801.4 L411.4,1810.6 L409.0,1814.3 L406.4,1817.2 L402.8,1820.2 L397.6,1823.1 L387.7,1826.1 L371.8,1829.0 L371.8,1829.0 L356.1,1826.1 L346.4,1823.1 L341.3,1820.2 L337.8,1817.2 L335.4,1814.3 L333.1,1810.6 L329.0,1801.4 L327.7,1792.2 L327.3,1783.0 L327.2,1773.8 L327.5,1764.6 L328.4,1755.4 L329.6,1746.2 L330.9,1737.0 L332.3,1727.8 L334.0,1718.6 L335.8,1709.4 L337.8,1700.2 L340.3,1691.0 L342.4,1681.8 L344.3,1672.6 L347.1,1663.4 L349.0,1659.7 L351.0,1656.8 L353.5,1653.8 L357.3,1650.9 L363.3,1647.9 L376.2,1645.0Z" fill="#bdc6c6"/>
<ellipse cx="437.4" cy="1664.3" rx="7.4" ry="4.8" fill="#a4afaf" transform="rotate(-48 437.4 1664.3)"/>
<ellipse cx="492.6" cy="1664.3" rx="7.4" ry="4.8" fill="#a4afaf" transform="rotate(48 492.6 1664.3)"/>
<path d="M465.9,1645.0 L478.6,1647.9 L484.6,1650.9 L488.3,1653.8 L490.7,1656.8 L492.5,1659.7 L494.3,1663.4 L496.9,1672.6 L498.4,1681.8 L500.3,1691.0 L502.4,1700.2 L504.1,1709.4 L505.6,1718.6 L507.0,1727.8 L508.1,1737.0 L509.1,1746.2 L510.0,1755.4 L510.6,1764.6 L510.6,1773.8 L510.2,1783.0 L509.4,1792.2 L507.8,1801.4 L503.4,1810.6 L501.1,1814.3 L498.6,1817.2 L494.9,1820.2 L489.8,1823.1 L479.9,1826.1 L464.1,1829.0 L464.1,1829.0 L448.4,1826.1 L438.6,1823.1 L433.5,1820.2 L429.9,1817.2 L427.5,1814.3 L425.1,1810.6 L420.9,1801.4 L419.5,1792.2 L418.9,1783.0 L418.7,1773.8 L418.9,1764.6 L419.6,1755.4 L420.8,1746.2 L421.9,1737.0 L423.2,1727.8 L424.7,1718.6 L426.4,1709.4 L428.3,1700.2 L430.6,1691.0 L432.7,1681.8 L434.4,1672.6 L437.1,1663.4 L439.0,1659.7 L440.9,1656.8 L443.3,1653.8 L447.1,1650.9 L453.1,1647.9 L465.9,1645.0Z" fill="#bdc6c6"/>
<ellipse cx="537.4" cy="1664.3" rx="7.4" ry="4.8" fill="#a4afaf" transform="rotate(-48 537.4 1664.3)"/>
<ellipse cx="592.6" cy="1664.3" rx="7.4" ry="4.8" fill="#a4afaf" transform="rotate(48 592.6 1664.3)"/>
<path d="M567.1,1645.0 L579.8,1647.9 L585.6,1650.9 L589.3,1653.8 L591.7,1656.8 L593.5,1659.7 L595.2,1663.4 L597.7,1672.6 L599.1,1681.8 L600.9,1691.0 L602.8,1700.2 L604.5,1709.4 L605.9,1718.6 L607.1,1727.8 L608.1,1737.0 L609.0,1746.2 L609.8,1755.4 L610.3,1764.6 L610.1,1773.8 L609.6,1783.0 L608.7,1792.2 L607.0,1801.4 L602.5,1810.6 L600.1,1814.3 L597.5,1817.2 L593.9,1820.2 L588.7,1823.1 L578.8,1826.1 L562.9,1829.0 L562.9,1829.0 L547.2,1826.1 L537.5,1823.1 L532.4,1820.2 L528.9,1817.2 L526.5,1814.3 L524.2,1810.6 L520.1,1801.4 L518.8,1792.2 L518.3,1783.0 L518.2,1773.8 L518.5,1764.6 L519.4,1755.4 L520.6,1746.2 L521.9,1737.0 L523.3,1727.8 L525.0,1718.6 L526.8,1709.4 L528.8,1700.2 L531.2,1691.0 L533.4,1681.8 L535.2,1672.6 L538.0,1663.4 L539.9,1659.7 L541.9,1656.8 L544.4,1653.8 L548.2,1650.9 L554.2,1647.9 L567.1,1645.0Z" fill="#bdc6c6"/>
</g>
<g filter="url(#bl4)">
<path d="M190.6,1672.6 L202.3,1675.0 L207.8,1677.5 L211.2,1679.9 L213.5,1682.4 L215.3,1684.8 L217.0,1687.9 L219.6,1695.5 L221.3,1703.1 L223.2,1710.8 L225.4,1718.4 L227.3,1726.1 L228.9,1733.7 L230.4,1741.3 L231.7,1749.0 L232.9,1756.6 L234.0,1764.2 L234.8,1771.9 L235.1,1779.5 L235.0,1787.1 L234.6,1794.8 L233.4,1802.4 L229.7,1810.0 L227.6,1813.1 L225.4,1815.5 L222.2,1818.0 L217.6,1820.4 L208.7,1822.9 L194.4,1825.3 L194.4,1825.3 L180.0,1822.9 L171.0,1820.4 L166.3,1818.0 L162.9,1815.5 L160.6,1813.1 L158.4,1810.0 L154.3,1802.4 L152.7,1794.8 L151.9,1787.1 L151.4,1779.5 L151.3,1771.9 L151.8,1764.2 L152.5,1756.6 L153.3,1749.0 L154.2,1741.3 L155.3,1733.7 L156.6,1726.1 L158.0,1718.4 L159.8,1710.8 L161.4,1703.1 L162.7,1695.5 L165.0,1687.9 L166.5,1684.8 L168.2,1682.4 L170.3,1679.9 L173.7,1677.5 L179.0,1675.0 L190.6,1672.6Z" fill="#f1f4f4"/>
<path d="M285.2,1672.6 L296.8,1675.0 L302.3,1677.5 L305.7,1679.9 L308.0,1682.4 L309.7,1684.8 L311.4,1687.9 L313.9,1695.5 L315.4,1703.1 L317.3,1710.8 L319.4,1718.4 L321.1,1726.1 L322.7,1733.7 L324.0,1741.3 L325.2,1749.0 L326.3,1756.6 L327.3,1764.2 L328.0,1771.9 L328.2,1779.5 L327.9,1787.1 L327.4,1794.8 L326.1,1802.4 L322.3,1810.0 L320.2,1813.1 L318.0,1815.5 L314.7,1818.0 L310.1,1820.4 L301.1,1822.9 L286.8,1825.3 L286.8,1825.3 L272.4,1822.9 L263.5,1820.4 L258.8,1818.0 L255.5,1815.5 L253.2,1813.1 L251.0,1810.0 L247.0,1802.4 L245.6,1794.8 L244.9,1787.1 L244.5,1779.5 L244.5,1771.9 L245.0,1764.2 L245.9,1756.6 L246.8,1749.0 L247.8,1741.3 L249.0,1733.7 L250.4,1726.1 L252.0,1718.4 L253.9,1710.8 L255.6,1703.1 L257.0,1695.5 L259.3,1687.9 L260.9,1684.8 L262.6,1682.4 L264.8,1679.9 L268.2,1677.5 L273.6,1675.0 L285.2,1672.6Z" fill="#f1f4f4"/>
<path d="M376.2,1672.6 L387.7,1675.0 L393.1,1677.5 L396.4,1679.9 L398.6,1682.4 L400.2,1684.8 L401.8,1687.9 L404.0,1695.5 L405.2,1703.1 L406.8,1710.8 L408.6,1718.4 L410.0,1726.1 L411.3,1733.7 L412.3,1741.3 L413.2,1749.0 L414.0,1756.6 L414.7,1764.2 L415.1,1771.9 L415.0,1779.5 L414.4,1787.1 L413.6,1794.8 L412.0,1802.4 L407.9,1810.0 L405.7,1813.1 L403.4,1815.5 L400.0,1818.0 L395.3,1820.4 L386.2,1822.9 L371.8,1825.3 L371.8,1825.3 L357.5,1822.9 L348.7,1820.4 L344.1,1818.0 L340.9,1815.5 L338.7,1813.1 L336.6,1810.0 L332.9,1802.4 L331.8,1794.8 L331.4,1787.1 L331.3,1779.5 L331.6,1771.9 L332.4,1764.2 L333.6,1756.6 L334.8,1749.0 L336.1,1741.3 L337.6,1733.7 L339.3,1726.1 L341.2,1718.4 L343.4,1710.8 L345.4,1703.1 L347.1,1695.5 L349.7,1687.9 L351.4,1684.8 L353.2,1682.4 L355.5,1679.9 L359.0,1677.5 L364.5,1675.0 L376.2,1672.6Z" fill="#f1f4f4"/>
<path d="M465.9,1672.6 L477.5,1675.0 L482.9,1677.5 L486.2,1679.9 L488.4,1682.4 L490.1,1684.8 L491.7,1687.9 L494.1,1695.5 L495.4,1703.1 L497.1,1710.8 L499.0,1718.4 L500.6,1726.1 L502.0,1733.7 L503.2,1741.3 L504.2,1749.0 L505.1,1756.6 L505.9,1764.2 L506.5,1771.9 L506.5,1779.5 L506.1,1787.1 L505.4,1794.8 L503.9,1802.4 L499.9,1810.0 L497.7,1813.1 L495.5,1815.5 L492.2,1818.0 L487.5,1820.4 L478.5,1822.9 L464.1,1825.3 L464.1,1825.3 L449.8,1822.9 L440.9,1820.4 L436.2,1818.0 L433.0,1815.5 L430.8,1813.1 L428.7,1810.0 L424.8,1802.4 L423.5,1794.8 L423.0,1787.1 L422.8,1779.5 L423.0,1771.9 L423.7,1764.2 L424.7,1756.6 L425.8,1749.0 L427.0,1741.3 L428.4,1733.7 L429.9,1726.1 L431.7,1718.4 L433.7,1710.8 L435.6,1703.1 L437.2,1695.5 L439.7,1687.9 L441.4,1684.8 L443.1,1682.4 L445.4,1679.9 L448.8,1677.5 L454.2,1675.0 L465.9,1672.6Z" fill="#f1f4f4"/>
<path d="M567.1,1672.6 L578.6,1675.0 L584.0,1677.5 L587.3,1679.9 L589.5,1682.4 L591.1,1684.8 L592.7,1687.9 L594.9,1695.5 L596.1,1703.1 L597.7,1710.8 L599.5,1718.4 L601.0,1726.1 L602.2,1733.7 L603.3,1741.3 L604.2,1749.0 L605.0,1756.6 L605.7,1764.2 L606.1,1771.9 L606.0,1779.5 L605.5,1787.1 L604.7,1794.8 L603.1,1802.4 L599.0,1810.0 L596.8,1813.1 L594.5,1815.5 L591.1,1818.0 L586.4,1820.4 L577.4,1822.9 L562.9,1825.3 L562.9,1825.3 L548.7,1822.9 L539.8,1820.4 L535.2,1818.0 L532.0,1815.5 L529.8,1813.1 L527.7,1810.0 L524.0,1802.4 L522.8,1794.8 L522.4,1787.1 L522.3,1779.5 L522.6,1771.9 L523.5,1764.2 L524.6,1756.6 L525.8,1749.0 L527.1,1741.3 L528.6,1733.7 L530.3,1726.1 L532.1,1718.4 L534.3,1710.8 L536.3,1703.1 L538.0,1695.5 L540.6,1687.9 L542.3,1684.8 L544.1,1682.4 L546.4,1679.9 L549.9,1677.5 L555.4,1675.0 L567.1,1672.6Z" fill="#f1f4f4"/>
</g>
<g filter="url(#bl5)">
<ellipse cx="192.5" cy="1759.1" rx="34.0" ry="55.2" fill="#fff"/>
<ellipse cx="286.0" cy="1759.1" rx="34.0" ry="55.2" fill="#fff"/>
<ellipse cx="374.0" cy="1759.1" rx="34.0" ry="55.2" fill="#fff"/>
<ellipse cx="465.0" cy="1759.1" rx="34.0" ry="55.2" fill="#fff"/>
<ellipse cx="565.0" cy="1759.1" rx="34.0" ry="55.2" fill="#fff"/>
</g>
<rect x="135.8" y="1630.0" width="477.6" height="216.8" filter="url(#fur)" opacity="0.16"/>
<rect x="135.8" y="1630.0" width="477.6" height="216.8" filter="url(#furw)" opacity="0.12"/>
<g filter="url(#rag)" fill="#4c48ee">
<ellipse cx="230.0" cy="1790.8" rx="23.8" ry="25.0"/>
<polygon points="282.5,1792.0 290.0,1772.0 300.0,1742.0 310.0,1722.0 320.0,1729.5 327.5,1743.2 337.5,1727.0 350.0,1729.5 360.0,1747.0 365.0,1772.0 367.5,1797.0 362.5,1819.5 350.0,1822.0 342.5,1834.5 327.5,1817.0 310.0,1819.5 300.0,1834.5 285.0,1834.5 280.0,1812.0"/>
<ellipse cx="407.5" cy="1784.5" rx="14.0" ry="28.0"/>
<polygon points="422.5,1752.0 455.0,1747.0 467.5,1722.0 470.0,1659.5 497.5,1659.5 500.0,1717.0 518.8,1719.5 522.5,1669.5 530.0,1654.5 552.5,1657.0 560.0,1697.0 580.0,1727.0 616.2,1734.5 616.2,1827.0 580.0,1837.0 567.5,1848.2 462.5,1848.2 452.5,1822.0 425.0,1812.0"/>
</g>
<g clip-path="url(#bc6)">
<ellipse cx="327.5" cy="1787.0" rx="19.5" ry="21.0" fill="url(#glow)"/>
<ellipse cx="519.2" cy="1780.8" rx="25.5" ry="56.2" fill="url(#glow)"/>
<ellipse cx="504.5" cy="1782.0" rx="26.4" ry="39.6" fill="url(#glow)"/>
<ellipse cx="593.8" cy="1782.0" rx="22.5" ry="31.5" fill="url(#glow)"/>
<ellipse cx="327.5" cy="1787.0" rx="6.5" ry="7.0" fill="url(#hotC)"/>
<ellipse cx="519.2" cy="1780.8" rx="8.5" ry="18.8" fill="url(#hotY)"/>
<ellipse cx="504.5" cy="1782.0" rx="12.0" ry="18.0" fill="url(#hotRR)"/>
<ellipse cx="593.8" cy="1782.0" rx="7.5" ry="10.5" fill="url(#hotR)"/>
</g>
</g>
<g clip-path="url(#cp9)">
<rect x="632.5" y="1630.0" width="471.4" height="216.8" fill="url(#bgG)"/>
<g filter="url(#bl6)" fill="#161a1a" opacity="0.8">
<ellipse cx="685.0" cy="1730.5" rx="49.9" ry="98.0"/>
<ellipse cx="777.0" cy="1730.5" rx="49.9" ry="98.0"/>
<ellipse cx="865.8" cy="1730.5" rx="49.9" ry="98.0"/>
<ellipse cx="954.6" cy="1730.5" rx="49.9" ry="98.0"/>
<ellipse cx="1049.4" cy="1730.5" rx="49.9" ry="98.0"/>
</g>
<rect x="659.8" y="1632.0" width="6.4" height="19" rx="3" fill="#1c2222" stroke="#3d4545" stroke-width="1"/>
<rect x="718.8" y="1632.0" width="6.4" height="19" rx="3" fill="#1c2222" stroke="#3d4545" stroke-width="1"/>
<path d="M686.0,1630.0 L698.0,1630.0 L702.0,1647.0 L682.0,1647.0Z" fill="#8d9696"/>
<rect x="751.8" y="1632.0" width="6.4" height="19" rx="3" fill="#1c2222" stroke="#3d4545" stroke-width="1"/>
<rect x="810.8" y="1632.0" width="6.4" height="19" rx="3" fill="#1c2222" stroke="#3d4545" stroke-width="1"/>
<path d="M778.0,1630.0 L790.0,1630.0 L794.0,1647.0 L774.0,1647.0Z" fill="#8d9696"/>
<rect x="840.6" y="1632.0" width="6.4" height="19" rx="3" fill="#1c2222" stroke="#3d4545" stroke-width="1"/>
<rect x="899.6" y="1632.0" width="6.4" height="19" rx="3" fill="#1c2222" stroke="#3d4545" stroke-width="1"/>
<path d="M866.8,1630.0 L878.8,1630.0 L882.8,1647.0 L862.8,1647.0Z" fill="#8d9696"/>
<rect x="929.4" y="1632.0" width="6.4" height="19" rx="3" fill="#1c2222" stroke="#3d4545" stroke-width="1"/>
<rect x="988.4" y="1632.0" width="6.4" height="19" rx="3" fill="#1c2222" stroke="#3d4545" stroke-width="1"/>
<path d="M955.6,1630.0 L967.6,1630.0 L971.6,1647.0 L951.6,1647.0Z" fill="#8d9696"/>
<rect x="1024.2" y="1632.0" width="6.4" height="19" rx="3" fill="#1c2222" stroke="#3d4545" stroke-width="1"/>
<rect x="1083.2" y="1632.0" width="6.4" height="19" rx="3" fill="#1c2222" stroke="#3d4545" stroke-width="1"/>
<path d="M1050.4,1630.0 L1062.4,1630.0 L1066.4,1647.0 L1046.4,1647.0Z" fill="#8d9696"/>
<g filter="url(#bl1)" stroke-linecap="round" fill="none">
<line x1="682.4" y1="1810.0" x2="682.2" y2="1850.8" stroke="#d6d6d6" stroke-width="6.5"/>
<line x1="664.4" y1="1808.0" x2="659.9" y2="1836.5" stroke="#8c8c8c" stroke-width="6"/>
<line x1="705.6" y1="1808.0" x2="710.2" y2="1840.6" stroke="#8c8c8c" stroke-width="6"/>
<line x1="777.4" y1="1810.0" x2="778.3" y2="1850.8" stroke="#d6d6d6" stroke-width="6.5"/>
<line x1="756.4" y1="1808.0" x2="745.1" y2="1836.9" stroke="#8c8c8c" stroke-width="6"/>
<line x1="797.6" y1="1808.0" x2="804.3" y2="1833.3" stroke="#8c8c8c" stroke-width="6"/>
<line x1="867.5" y1="1810.0" x2="865.8" y2="1850.8" stroke="#d6d6d6" stroke-width="6.5"/>
<line x1="845.2" y1="1808.0" x2="839.5" y2="1833.7" stroke="#8c8c8c" stroke-width="6"/>
<line x1="886.4" y1="1808.0" x2="895.7" y2="1836.6" stroke="#8c8c8c" stroke-width="6"/>
<line x1="954.6" y1="1810.0" x2="954.7" y2="1850.8" stroke="#d6d6d6" stroke-width="6.5"/>
<line x1="934.0" y1="1808.0" x2="923.5" y2="1841.8" stroke="#8c8c8c" stroke-width="6"/>
<line x1="975.2" y1="1808.0" x2="980.9" y2="1840.8" stroke="#8c8c8c" stroke-width="6"/>
<line x1="1050.7" y1="1810.0" x2="1051.4" y2="1850.8" stroke="#d6d6d6" stroke-width="6.5"/>
<line x1="1028.8" y1="1808.0" x2="1017.0" y2="1834.1" stroke="#8c8c8c" stroke-width="6"/>
<line x1="1070.0" y1="1808.0" x2="1075.2" y2="1836.8" stroke="#8c8c8c" stroke-width="6"/>
</g>
<g filter="url(#bl2)">
<ellipse cx="659.2" cy="1661.4" rx="6.9" ry="4.5" fill="#a4afaf" transform="rotate(-48 659.2 1661.4)"/>
<ellipse cx="710.8" cy="1661.4" rx="6.9" ry="4.5" fill="#a4afaf" transform="rotate(48 710.8 1661.4)"/>
<path d="M686.0,1643.0 L697.9,1645.8 L703.4,1648.6 L706.9,1651.4 L709.2,1654.2 L710.9,1657.0 L712.5,1660.5 L714.9,1669.2 L716.3,1678.0 L718.1,1686.8 L720.0,1695.5 L721.6,1704.2 L723.0,1713.0 L724.2,1721.8 L725.2,1730.5 L726.2,1739.2 L727.0,1748.0 L727.6,1756.8 L727.6,1765.5 L727.2,1774.2 L726.4,1783.0 L724.9,1791.8 L720.8,1800.5 L718.6,1804.0 L716.2,1806.8 L712.8,1809.6 L708.0,1812.4 L698.8,1815.2 L684.0,1818.0 L684.0,1818.0 L669.3,1815.2 L660.1,1812.4 L655.4,1809.6 L652.0,1806.8 L649.8,1804.0 L647.6,1800.5 L643.7,1791.8 L642.4,1783.0 L641.8,1774.2 L641.6,1765.5 L641.8,1756.8 L642.6,1748.0 L643.6,1739.2 L644.8,1730.5 L646.0,1721.8 L647.4,1713.0 L649.0,1704.2 L650.8,1695.5 L652.9,1686.8 L654.9,1678.0 L656.5,1669.2 L659.1,1660.5 L660.8,1657.0 L662.6,1654.2 L664.9,1651.4 L668.4,1648.6 L674.0,1645.8 L686.0,1643.0Z" fill="#bdc6c6"/>
<ellipse cx="751.2" cy="1661.4" rx="6.9" ry="4.5" fill="#a4afaf" transform="rotate(-48 751.2 1661.4)"/>
<ellipse cx="802.8" cy="1661.4" rx="6.9" ry="4.5" fill="#a4afaf" transform="rotate(48 802.8 1661.4)"/>
<path d="M778.1,1643.0 L790.0,1645.8 L795.5,1648.6 L799.0,1651.4 L801.2,1654.2 L802.9,1657.0 L804.6,1660.5 L807.0,1669.2 L808.4,1678.0 L810.1,1686.8 L812.0,1695.5 L813.6,1704.2 L815.0,1713.0 L816.3,1721.8 L817.2,1730.5 L818.2,1739.2 L819.0,1748.0 L819.6,1756.8 L819.5,1765.5 L819.1,1774.2 L818.4,1783.0 L816.9,1791.8 L812.7,1800.5 L810.5,1804.0 L808.2,1806.8 L804.7,1809.6 L799.9,1812.4 L790.7,1815.2 L775.9,1818.0 L775.9,1818.0 L761.2,1815.2 L752.1,1812.4 L747.3,1809.6 L744.0,1806.8 L741.7,1804.0 L739.5,1800.5 L735.6,1791.8 L734.3,1783.0 L733.8,1774.2 L733.6,1765.5 L733.8,1756.8 L734.5,1748.0 L735.6,1739.2 L736.8,1730.5 L738.0,1721.8 L739.4,1713.0 L741.0,1704.2 L742.8,1695.5 L745.0,1686.8 L746.9,1678.0 L748.5,1669.2 L751.1,1660.5 L752.9,1657.0 L754.6,1654.2 L757.0,1651.4 L760.5,1648.6 L766.1,1645.8 L778.1,1643.0Z" fill="#bdc6c6"/>
<ellipse cx="840.0" cy="1661.4" rx="6.9" ry="4.5" fill="#a4afaf" transform="rotate(-48 840.0 1661.4)"/>
<ellipse cx="891.6" cy="1661.4" rx="6.9" ry="4.5" fill="#a4afaf" transform="rotate(48 891.6 1661.4)"/>
<path d="M867.4,1643.0 L879.2,1645.8 L884.8,1648.6 L888.2,1651.4 L890.4,1654.2 L892.1,1657.0 L893.8,1660.5 L896.1,1669.2 L897.5,1678.0 L899.1,1686.8 L901.0,1695.5 L902.6,1704.2 L903.9,1713.0 L905.1,1721.8 L906.0,1730.5 L906.9,1739.2 L907.7,1748.0 L908.2,1756.8 L908.1,1765.5 L907.7,1774.2 L906.9,1783.0 L905.3,1791.8 L901.2,1800.5 L898.9,1804.0 L896.5,1806.8 L893.1,1809.6 L888.3,1812.4 L879.0,1815.2 L864.2,1818.0 L864.2,1818.0 L849.6,1815.2 L840.4,1812.4 L835.7,1809.6 L832.3,1806.8 L830.1,1804.0 L828.0,1800.5 L824.1,1791.8 L822.8,1783.0 L822.4,1774.2 L822.2,1765.5 L822.5,1756.8 L823.3,1748.0 L824.4,1739.2 L825.6,1730.5 L826.8,1721.8 L828.3,1713.0 L829.9,1704.2 L831.8,1695.5 L834.0,1686.8 L836.0,1678.0 L837.7,1669.2 L840.3,1660.5 L842.1,1657.0 L843.9,1654.2 L846.2,1651.4 L849.7,1648.6 L855.4,1645.8 L867.4,1643.0Z" fill="#bdc6c6"/>
<ellipse cx="928.8" cy="1661.4" rx="6.9" ry="4.5" fill="#a4afaf" transform="rotate(-48 928.8 1661.4)"/>
<ellipse cx="980.4" cy="1661.4" rx="6.9" ry="4.5" fill="#a4afaf" transform="rotate(48 980.4 1661.4)"/>
<path d="M952.4,1643.0 L964.4,1645.8 L970.1,1648.6 L973.6,1651.4 L976.0,1654.2 L977.8,1657.0 L979.6,1660.5 L982.3,1669.2 L984.0,1678.0 L986.1,1686.8 L988.3,1695.5 L990.3,1704.2 L992.0,1713.0 L993.5,1721.8 L994.8,1730.5 L996.1,1739.2 L997.3,1748.0 L998.1,1756.8 L998.4,1765.5 L998.3,1774.2 L997.9,1783.0 L996.7,1791.8 L992.9,1800.5 L990.8,1804.0 L988.6,1806.8 L985.3,1809.6 L980.6,1812.4 L971.4,1815.2 L956.8,1818.0 L956.8,1818.0 L942.0,1815.2 L932.7,1812.4 L927.8,1809.6 L924.4,1806.8 L922.0,1804.0 L919.7,1800.5 L915.5,1791.8 L913.9,1783.0 L913.0,1774.2 L912.5,1765.5 L912.4,1756.8 L912.8,1748.0 L913.5,1739.2 L914.4,1730.5 L915.2,1721.8 L916.3,1713.0 L917.6,1704.2 L919.1,1695.5 L920.9,1686.8 L922.6,1678.0 L923.9,1669.2 L926.1,1660.5 L927.7,1657.0 L929.4,1654.2 L931.6,1651.4 L935.1,1648.6 L940.5,1645.8 L952.4,1643.0Z" fill="#bdc6c6"/>
<ellipse cx="1023.6" cy="1661.4" rx="6.9" ry="4.5" fill="#a4afaf" transform="rotate(-48 1023.6 1661.4)"/>
<ellipse cx="1075.2" cy="1661.4" rx="6.9" ry="4.5" fill="#a4afaf" transform="rotate(48 1075.2 1661.4)"/>
<path d="M1047.0,1643.0 L1059.0,1645.8 L1064.6,1648.6 L1068.2,1651.4 L1070.6,1654.2 L1072.4,1657.0 L1074.2,1660.5 L1076.9,1669.2 L1078.7,1678.0 L1080.7,1686.8 L1083.0,1695.5 L1085.0,1704.2 L1086.7,1713.0 L1088.3,1721.8 L1089.6,1730.5 L1090.9,1739.2 L1092.1,1748.0 L1093.0,1756.8 L1093.3,1765.5 L1093.3,1774.2 L1092.9,1783.0 L1091.7,1791.8 L1087.9,1800.5 L1085.8,1804.0 L1083.6,1806.8 L1080.3,1809.6 L1075.6,1812.4 L1066.5,1815.2 L1051.8,1818.0 L1051.8,1818.0 L1037.0,1815.2 L1027.7,1812.4 L1022.9,1809.6 L1019.4,1806.8 L1017.0,1804.0 L1014.7,1800.5 L1010.5,1791.8 L1008.8,1783.0 L1008.0,1774.2 L1007.4,1765.5 L1007.3,1756.8 L1007.6,1748.0 L1008.4,1739.2 L1009.2,1730.5 L1010.0,1721.8 L1011.1,1713.0 L1012.3,1704.2 L1013.8,1695.5 L1015.6,1686.8 L1017.2,1678.0 L1018.5,1669.2 L1020.7,1660.5 L1022.3,1657.0 L1024.0,1654.2 L1026.2,1651.4 L1029.6,1648.6 L1035.1,1645.8 L1047.0,1643.0Z" fill="#bdc6c6"/>
</g>
<g filter="url(#bl4)">
<path d="M686.0,1669.2 L696.8,1671.6 L701.9,1673.9 L705.0,1676.2 L707.1,1678.5 L708.6,1680.9 L710.1,1683.8 L712.3,1691.0 L713.6,1698.3 L715.1,1705.6 L716.9,1712.8 L718.4,1720.1 L719.6,1727.3 L720.7,1734.6 L721.6,1741.9 L722.5,1749.1 L723.2,1756.4 L723.7,1763.7 L723.7,1770.9 L723.3,1778.2 L722.7,1785.5 L721.3,1792.7 L717.5,1800.0 L715.5,1802.9 L713.3,1805.2 L710.2,1807.5 L705.8,1809.9 L697.4,1812.2 L684.0,1814.5 L684.0,1814.5 L670.6,1812.2 L662.3,1809.9 L658.0,1807.5 L654.9,1805.2 L652.9,1802.9 L650.9,1800.0 L647.3,1792.7 L646.2,1785.5 L645.7,1778.2 L645.5,1770.9 L645.7,1763.7 L646.4,1756.4 L647.3,1749.1 L648.4,1741.9 L649.5,1734.6 L650.8,1727.3 L652.2,1720.1 L653.9,1712.8 L655.9,1705.6 L657.6,1698.3 L659.1,1691.0 L661.5,1683.8 L663.1,1680.9 L664.7,1678.5 L666.8,1676.2 L670.0,1673.9 L675.1,1671.6 L686.0,1669.2Z" fill="#f1f4f4"/>
<path d="M778.1,1669.2 L788.9,1671.6 L793.9,1673.9 L797.1,1676.2 L799.1,1678.5 L800.7,1680.9 L802.2,1683.8 L804.3,1691.0 L805.6,1698.3 L807.2,1705.6 L808.9,1712.8 L810.4,1720.1 L811.6,1727.3 L812.7,1734.6 L813.6,1741.9 L814.5,1749.1 L815.2,1756.4 L815.7,1763.7 L815.7,1770.9 L815.3,1778.2 L814.6,1785.5 L813.2,1792.7 L809.4,1800.0 L807.4,1802.9 L805.3,1805.2 L802.2,1807.5 L797.8,1809.9 L789.4,1812.2 L775.9,1814.5 L775.9,1814.5 L762.5,1812.2 L754.2,1809.9 L749.9,1807.5 L746.8,1805.2 L744.8,1802.9 L742.8,1800.0 L739.3,1792.7 L738.1,1785.5 L737.6,1778.2 L737.5,1770.9 L737.7,1763.7 L738.3,1756.4 L739.3,1749.1 L740.4,1741.9 L741.5,1734.6 L742.8,1727.3 L744.3,1720.1 L745.9,1712.8 L747.9,1705.6 L749.7,1698.3 L751.2,1691.0 L753.5,1683.8 L755.1,1680.9 L756.7,1678.5 L758.9,1676.2 L762.1,1673.9 L767.2,1671.6 L778.1,1669.2Z" fill="#f1f4f4"/>
<path d="M867.4,1669.2 L878.2,1671.6 L883.2,1673.9 L886.3,1676.2 L888.3,1678.5 L889.9,1680.9 L891.4,1683.8 L893.5,1691.0 L894.7,1698.3 L896.2,1705.6 L897.9,1712.8 L899.3,1720.1 L900.5,1727.3 L901.6,1734.6 L902.4,1741.9 L903.2,1749.1 L903.9,1756.4 L904.4,1763.7 L904.3,1770.9 L903.8,1778.2 L903.1,1785.5 L901.7,1792.7 L897.9,1800.0 L895.8,1802.9 L893.7,1805.2 L890.5,1807.5 L886.1,1809.9 L877.7,1812.2 L864.2,1814.5 L864.2,1814.5 L850.9,1812.2 L842.6,1809.9 L838.3,1807.5 L835.2,1805.2 L833.2,1802.9 L831.3,1800.0 L827.8,1792.7 L826.6,1785.5 L826.2,1778.2 L826.1,1770.9 L826.3,1763.7 L827.1,1756.4 L828.1,1749.1 L829.2,1741.9 L830.3,1734.6 L831.7,1727.3 L833.2,1720.1 L834.9,1712.8 L836.9,1705.6 L838.8,1698.3 L840.3,1691.0 L842.7,1683.8 L844.3,1680.9 L846.0,1678.5 L848.1,1676.2 L851.3,1673.9 L856.4,1671.6 L867.4,1669.2Z" fill="#f1f4f4"/>
<path d="M952.4,1669.2 L963.4,1671.6 L968.5,1673.9 L971.7,1676.2 L973.9,1678.5 L975.6,1680.9 L977.2,1683.8 L979.7,1691.0 L981.3,1698.3 L983.1,1705.6 L985.2,1712.8 L987.0,1720.1 L988.6,1727.3 L990.0,1734.6 L991.2,1741.9 L992.4,1749.1 L993.5,1756.4 L994.3,1763.7 L994.6,1770.9 L994.5,1778.2 L994.2,1785.5 L993.1,1792.7 L989.6,1800.0 L987.7,1802.9 L985.7,1805.2 L982.7,1807.5 L978.4,1809.9 L970.1,1812.2 L956.8,1814.5 L956.8,1814.5 L943.3,1812.2 L934.9,1809.9 L930.4,1807.5 L927.3,1805.2 L925.1,1802.9 L923.0,1800.0 L919.2,1792.7 L917.7,1785.5 L916.9,1778.2 L916.4,1770.9 L916.2,1763.7 L916.6,1756.4 L917.3,1749.1 L918.0,1741.9 L918.8,1734.6 L919.7,1727.3 L920.9,1720.1 L922.2,1712.8 L923.9,1705.6 L925.3,1698.3 L926.5,1691.0 L928.5,1683.8 L930.0,1680.9 L931.5,1678.5 L933.5,1676.2 L936.6,1673.9 L941.6,1671.6 L952.4,1669.2Z" fill="#f1f4f4"/>
<path d="M1047.0,1669.2 L1057.9,1671.6 L1063.1,1673.9 L1066.3,1676.2 L1068.5,1678.5 L1070.2,1680.9 L1071.8,1683.8 L1074.3,1691.0 L1075.9,1698.3 L1077.8,1705.6 L1079.9,1712.8 L1081.7,1720.1 L1083.3,1727.3 L1084.8,1734.6 L1086.0,1741.9 L1087.2,1749.1 L1088.3,1756.4 L1089.1,1763.7 L1089.5,1770.9 L1089.4,1778.2 L1089.1,1785.5 L1088.1,1792.7 L1084.6,1800.0 L1082.7,1802.9 L1080.7,1805.2 L1077.7,1807.5 L1073.5,1809.9 L1065.2,1812.2 L1051.8,1814.5 L1051.8,1814.5 L1038.3,1812.2 L1029.9,1809.9 L1025.5,1807.5 L1022.3,1805.2 L1020.1,1802.9 L1018.0,1800.0 L1014.1,1792.7 L1012.6,1785.5 L1011.8,1778.2 L1011.3,1770.9 L1011.1,1763.7 L1011.4,1756.4 L1012.1,1749.1 L1012.8,1741.9 L1013.5,1734.6 L1014.5,1727.3 L1015.6,1720.1 L1016.9,1712.8 L1018.6,1705.6 L1020.0,1698.3 L1021.1,1691.0 L1023.1,1683.8 L1024.6,1680.9 L1026.1,1678.5 L1028.1,1676.2 L1031.2,1673.9 L1036.2,1671.6 L1047.0,1669.2Z" fill="#f1f4f4"/>
</g>
<g filter="url(#bl5)">
<ellipse cx="685.0" cy="1751.5" rx="31.8" ry="52.5" fill="#fff"/>
<ellipse cx="777.0" cy="1751.5" rx="31.8" ry="52.5" fill="#fff"/>
<ellipse cx="865.8" cy="1751.5" rx="31.8" ry="52.5" fill="#fff"/>
<ellipse cx="954.6" cy="1751.5" rx="31.8" ry="52.5" fill="#fff"/>
<ellipse cx="1049.4" cy="1751.5" rx="31.8" ry="52.5" fill="#fff"/>
</g>
<rect x="632.5" y="1630.0" width="471.4" height="216.8" filter="url(#fur)" opacity="0.16"/>
<rect x="632.5" y="1630.0" width="471.4" height="216.8" filter="url(#furw)" opacity="0.12"/>
<g filter="url(#rag)" fill="#4c48ee">
<ellipse cx="722.2" cy="1784.6" rx="7.2" ry="13.5"/>
<ellipse cx="737.0" cy="1783.0" rx="2.7" ry="12.0"/>
<ellipse cx="993.8" cy="1780.0" rx="6.0" ry="10.8"/>
<ellipse cx="1011.8" cy="1784.6" rx="2.4" ry="3.0"/>
</g>
</g>
<text x="22.3" y="1662.7" font-size="35.5" class="my" textLength="106.8" lengthAdjust="spacingAndGlyphs">Day 29</text>
<g clip-path="url(#cp10)">
<rect x="135.8" y="1857.5" width="477.6" height="217.7" fill="url(#bgG)"/>
<g filter="url(#bl6)" fill="#161a1a" opacity="0.8">
<ellipse cx="187.5" cy="1964.0" rx="59.2" ry="109.8"/>
<ellipse cx="280.0" cy="1964.0" rx="59.2" ry="109.8"/>
<ellipse cx="371.0" cy="1964.0" rx="59.2" ry="109.8"/>
<ellipse cx="459.0" cy="1964.0" rx="59.2" ry="109.8"/>
<ellipse cx="562.0" cy="1964.0" rx="59.2" ry="109.8"/>
</g>
<rect x="162.3" y="1859.5" width="6.4" height="19" rx="3" fill="#1c2222" stroke="#3d4545" stroke-width="1"/>
<rect x="221.3" y="1859.5" width="6.4" height="19" rx="3" fill="#1c2222" stroke="#3d4545" stroke-width="1"/>
<path d="M188.5,1857.5 L200.5,1857.5 L204.5,1870.0 L184.5,1870.0Z" fill="#8d9696"/>
<rect x="254.8" y="1859.5" width="6.4" height="19" rx="3" fill="#1c2222" stroke="#3d4545" stroke-width="1"/>
<rect x="313.8" y="1859.5" width="6.4" height="19" rx="3" fill="#1c2222" stroke="#3d4545" stroke-width="1"/>
<path d="M281.0,1857.5 L293.0,1857.5 L297.0,1870.0 L277.0,1870.0Z" fill="#8d9696"/>
<rect x="345.8" y="1859.5" width="6.4" height="19" rx="3" fill="#1c2222" stroke="#3d4545" stroke-width="1"/>
<rect x="404.8" y="1859.5" width="6.4" height="19" rx="3" fill="#1c2222" stroke="#3d4545" stroke-width="1"/>
<path d="M372.0,1857.5 L384.0,1857.5 L388.0,1870.0 L368.0,1870.0Z" fill="#8d9696"/>
<rect x="433.8" y="1859.5" width="6.4" height="19" rx="3" fill="#1c2222" stroke="#3d4545" stroke-width="1"/>
<rect x="492.8" y="1859.5" width="6.4" height="19" rx="3" fill="#1c2222" stroke="#3d4545" stroke-width="1"/>
<path d="M460.0,1857.5 L472.0,1857.5 L476.0,1870.0 L456.0,1870.0Z" fill="#8d9696"/>
<rect x="536.8" y="1859.5" width="6.4" height="19" rx="3" fill="#1c2222" stroke="#3d4545" stroke-width="1"/>
<rect x="595.8" y="1859.5" width="6.4" height="19" rx="3" fill="#1c2222" stroke="#3d4545" stroke-width="1"/>
<path d="M563.0,1857.5 L575.0,1857.5 L579.0,1870.0 L559.0,1870.0Z" fill="#8d9696"/>
<g filter="url(#bl1)" stroke-linecap="round" fill="none">
<line x1="186.2" y1="2054.0" x2="186.2" y2="2079.2" stroke="#d6d6d6" stroke-width="6.5"/>
<line x1="163.0" y1="2052.0" x2="155.4" y2="2073.2" stroke="#8c8c8c" stroke-width="6"/>
<line x1="212.0" y1="2052.0" x2="219.8" y2="2073.2" stroke="#8c8c8c" stroke-width="6"/>
<line x1="280.1" y1="2054.0" x2="278.9" y2="2079.2" stroke="#d6d6d6" stroke-width="6.5"/>
<line x1="255.5" y1="2052.0" x2="252.4" y2="2073.2" stroke="#8c8c8c" stroke-width="6"/>
<line x1="304.5" y1="2052.0" x2="314.3" y2="2073.2" stroke="#8c8c8c" stroke-width="6"/>
<line x1="370.1" y1="2054.0" x2="369.8" y2="2079.2" stroke="#d6d6d6" stroke-width="6.5"/>
<line x1="346.5" y1="2052.0" x2="339.0" y2="2073.2" stroke="#8c8c8c" stroke-width="6"/>
<line x1="395.5" y1="2052.0" x2="406.0" y2="2073.2" stroke="#8c8c8c" stroke-width="6"/>
<line x1="459.4" y1="2054.0" x2="458.2" y2="2079.2" stroke="#d6d6d6" stroke-width="6.5"/>
<line x1="434.5" y1="2052.0" x2="423.8" y2="2073.2" stroke="#8c8c8c" stroke-width="6"/>
<line x1="483.5" y1="2052.0" x2="490.1" y2="2073.2" stroke="#8c8c8c" stroke-width="6"/>
<line x1="564.3" y1="2054.0" x2="566.1" y2="2079.2" stroke="#d6d6d6" stroke-width="6.5"/>
<line x1="537.5" y1="2052.0" x2="533.2" y2="2073.2" stroke="#8c8c8c" stroke-width="6"/>
<line x1="586.5" y1="2052.0" x2="596.5" y2="2073.2" stroke="#8c8c8c" stroke-width="6"/>
</g>
<g filter="url(#bl2)">
<ellipse cx="156.9" cy="1886.6" rx="8.2" ry="5.1" fill="#a4afaf" transform="rotate(-48 156.9 1886.6)"/>
<ellipse cx="218.1" cy="1886.6" rx="8.2" ry="5.1" fill="#a4afaf" transform="rotate(48 218.1 1886.6)"/>
<path d="M188.9,1866.0 L203.0,1869.1 L209.6,1872.3 L213.6,1875.4 L216.3,1878.5 L218.4,1881.7 L220.3,1885.6 L223.1,1895.4 L224.8,1905.2 L226.8,1915.0 L229.1,1924.8 L231.0,1934.6 L232.6,1944.4 L234.1,1954.2 L235.2,1964.0 L236.3,1973.8 L237.3,1983.6 L237.9,1993.4 L237.9,2003.2 L237.4,2013.0 L236.5,2022.8 L234.7,2032.6 L229.8,2042.4 L227.1,2046.3 L224.4,2049.5 L220.3,2052.6 L214.6,2055.7 L203.6,2058.9 L186.1,2062.0 L186.1,2062.0 L168.7,2058.9 L157.8,2055.7 L152.2,2052.6 L148.2,2049.5 L145.5,2046.3 L143.0,2042.4 L138.4,2032.6 L136.8,2022.8 L136.2,2013.0 L136.0,2003.2 L136.2,1993.4 L137.1,1983.6 L138.4,1973.8 L139.8,1964.0 L141.2,1954.2 L142.9,1944.4 L144.8,1934.6 L147.0,1924.8 L149.6,1915.0 L151.9,1905.2 L153.8,1895.4 L156.9,1885.6 L159.0,1881.7 L161.1,1878.5 L163.9,1875.4 L168.0,1872.3 L174.7,1869.1 L188.9,1866.0Z" fill="#bdc6c6"/>
<ellipse cx="249.4" cy="1886.6" rx="8.2" ry="5.1" fill="#a4afaf" transform="rotate(-48 249.4 1886.6)"/>
<ellipse cx="310.6" cy="1886.6" rx="8.2" ry="5.1" fill="#a4afaf" transform="rotate(48 310.6 1886.6)"/>
<path d="M282.8,1866.0 L296.8,1869.1 L303.3,1872.3 L307.4,1875.4 L310.0,1878.5 L312.0,1881.7 L313.9,1885.6 L316.6,1895.4 L318.1,1905.2 L320.0,1915.0 L322.2,1924.8 L323.9,1934.6 L325.4,1944.4 L326.7,1954.2 L327.7,1964.0 L328.7,1973.8 L329.5,1983.6 L330.0,1993.4 L329.9,2003.2 L329.2,2013.0 L328.2,2022.8 L326.2,2032.6 L321.2,2042.4 L318.5,2046.3 L315.7,2049.5 L311.6,2052.6 L305.8,2055.7 L294.8,2058.9 L277.2,2062.0 L277.2,2062.0 L259.8,2058.9 L249.0,2055.7 L243.4,2052.6 L239.5,2049.5 L236.9,2046.3 L234.4,2042.4 L229.9,2032.6 L228.5,2022.8 L228.0,2013.0 L227.9,2003.2 L228.3,1993.4 L229.4,1983.6 L230.8,1973.8 L232.3,1964.0 L233.8,1954.2 L235.7,1944.4 L237.7,1934.6 L240.1,1924.8 L242.8,1915.0 L245.2,1905.2 L247.3,1895.4 L250.5,1885.6 L252.6,1881.7 L254.8,1878.5 L257.6,1875.4 L261.8,1872.3 L268.5,1869.1 L282.8,1866.0Z" fill="#bdc6c6"/>
<ellipse cx="340.4" cy="1886.6" rx="8.2" ry="5.1" fill="#a4afaf" transform="rotate(-48 340.4 1886.6)"/>
<ellipse cx="401.6" cy="1886.6" rx="8.2" ry="5.1" fill="#a4afaf" transform="rotate(48 401.6 1886.6)"/>
<path d="M369.4,1866.0 L383.6,1869.1 L390.3,1872.3 L394.4,1875.4 L397.2,1878.5 L399.4,1881.7 L401.4,1885.6 L404.5,1895.4 L406.5,1905.2 L408.8,1915.0 L411.4,1924.8 L413.6,1934.6 L415.5,1944.4 L417.3,1954.2 L418.7,1964.0 L420.1,1973.8 L421.4,1983.6 L422.3,1993.4 L422.6,2003.2 L422.4,2013.0 L421.8,2022.8 L420.3,2032.6 L415.7,2042.4 L413.1,2046.3 L410.5,2049.5 L406.5,2052.6 L400.9,2055.7 L390.0,2058.9 L372.6,2062.0 L372.6,2062.0 L355.1,2058.9 L344.1,2055.7 L338.4,2052.6 L334.3,2049.5 L331.5,2046.3 L328.9,2042.4 L324.0,2032.6 L322.1,2022.8 L321.2,2013.0 L320.7,2003.2 L320.6,1993.4 L321.2,1983.6 L322.2,1973.8 L323.3,1964.0 L324.4,1954.2 L325.8,1944.4 L327.4,1934.6 L329.3,1924.8 L331.6,1915.0 L333.6,1905.2 L335.2,1895.4 L338.0,1885.6 L340.0,1881.7 L342.0,1878.5 L344.7,1875.4 L348.7,1872.3 L355.3,1869.1 L369.4,1866.0Z" fill="#bdc6c6"/>
<ellipse cx="428.4" cy="1886.6" rx="8.2" ry="5.1" fill="#a4afaf" transform="rotate(-48 428.4 1886.6)"/>
<ellipse cx="489.6" cy="1886.6" rx="8.2" ry="5.1" fill="#a4afaf" transform="rotate(48 489.6 1886.6)"/>
<path d="M460.6,1866.0 L474.7,1869.1 L481.3,1872.3 L485.4,1875.4 L488.0,1878.5 L490.1,1881.7 L492.0,1885.6 L494.8,1895.4 L496.4,1905.2 L498.4,1915.0 L500.7,1924.8 L502.6,1934.6 L504.2,1944.4 L505.6,1954.2 L506.7,1964.0 L507.8,1973.8 L508.8,1983.6 L509.4,1993.4 L509.3,2003.2 L508.8,2013.0 L507.9,2022.8 L506.0,2032.6 L501.1,2042.4 L498.4,2046.3 L495.7,2049.5 L491.6,2052.6 L485.9,2055.7 L474.9,2058.9 L457.4,2062.0 L457.4,2062.0 L440.0,2058.9 L429.1,2055.7 L423.5,2052.6 L419.5,2049.5 L416.8,2046.3 L414.3,2042.4 L409.7,2032.6 L408.2,2022.8 L407.6,2013.0 L407.4,2003.2 L407.7,1993.4 L408.6,1983.6 L409.9,1973.8 L411.3,1964.0 L412.7,1954.2 L414.5,1944.4 L416.4,1934.6 L418.6,1924.8 L421.2,1915.0 L423.5,1905.2 L425.5,1895.4 L428.6,1885.6 L430.7,1881.7 L432.8,1878.5 L435.6,1875.4 L439.7,1872.3 L446.4,1869.1 L460.6,1866.0Z" fill="#bdc6c6"/>
<ellipse cx="531.4" cy="1886.6" rx="8.2" ry="5.1" fill="#a4afaf" transform="rotate(-48 531.4 1886.6)"/>
<ellipse cx="592.6" cy="1886.6" rx="8.2" ry="5.1" fill="#a4afaf" transform="rotate(48 592.6 1886.6)"/>
<path d="M564.0,1866.0 L578.1,1869.1 L584.7,1872.3 L588.7,1875.4 L591.4,1878.5 L593.4,1881.7 L595.3,1885.6 L598.1,1895.4 L599.7,1905.2 L601.6,1915.0 L603.9,1924.8 L605.7,1934.6 L607.3,1944.4 L608.6,1954.2 L609.7,1964.0 L610.8,1973.8 L611.7,1983.6 L612.2,1993.4 L612.2,2003.2 L611.6,2013.0 L610.6,2022.8 L608.8,2032.6 L603.8,2042.4 L601.1,2046.3 L598.3,2049.5 L594.2,2052.6 L588.5,2055.7 L577.5,2058.9 L560.0,2062.0 L560.0,2062.0 L542.6,2058.9 L531.7,2055.7 L526.1,2052.6 L522.2,2049.5 L519.5,2046.3 L517.0,2042.4 L512.4,2032.6 L510.9,2022.8 L510.4,2013.0 L510.2,2003.2 L510.5,1993.4 L511.5,1983.6 L512.8,1973.8 L514.3,1964.0 L515.8,1954.2 L517.5,1944.4 L519.5,1934.6 L521.8,1924.8 L524.4,1915.0 L526.8,1905.2 L528.8,1895.4 L531.9,1885.6 L534.0,1881.7 L536.1,1878.5 L538.9,1875.4 L543.1,1872.3 L549.8,1869.1 L564.0,1866.0Z" fill="#bdc6c6"/>
</g>
<g filter="url(#bl4)">
<path d="M188.9,1895.4 L201.7,1898.0 L207.7,1900.6 L211.4,1903.2 L213.8,1905.8 L215.7,1908.4 L217.5,1911.7 L220.0,1919.8 L221.5,1927.9 L223.3,1936.1 L225.4,1944.2 L227.1,1952.3 L228.6,1960.5 L229.9,1968.6 L230.9,1976.7 L231.9,1984.9 L232.8,1993.0 L233.4,2001.1 L233.3,2009.3 L232.8,2017.4 L232.0,2025.5 L230.4,2033.7 L225.9,2041.8 L223.5,2045.1 L220.9,2047.7 L217.2,2050.3 L212.0,2052.9 L202.1,2055.5 L186.1,2058.1 L186.1,2058.1 L170.3,2055.5 L160.4,2052.9 L155.3,2050.3 L151.6,2047.7 L149.2,2045.1 L146.9,2041.8 L142.7,2033.7 L141.3,2025.5 L140.8,2017.4 L140.6,2009.3 L140.8,2001.1 L141.6,1993.0 L142.8,1984.9 L144.1,1976.7 L145.4,1968.6 L147.0,1960.5 L148.7,1952.3 L150.7,1944.2 L153.0,1936.1 L155.2,1927.9 L156.9,1919.8 L159.8,1911.7 L161.6,1908.4 L163.6,1905.8 L166.1,1903.2 L169.9,1900.6 L175.9,1898.0 L188.9,1895.4Z" fill="#f1f4f4"/>
<path d="M282.8,1895.4 L295.6,1898.0 L301.5,1900.6 L305.2,1903.2 L307.5,1905.8 L309.3,1908.4 L311.1,1911.7 L313.5,1919.8 L314.8,1927.9 L316.5,1936.1 L318.5,1944.2 L320.0,1952.3 L321.4,1960.5 L322.5,1968.6 L323.4,1976.7 L324.3,1984.9 L325.0,1993.0 L325.4,2001.1 L325.3,2009.3 L324.7,2017.4 L323.7,2025.5 L321.9,2033.7 L317.3,2041.8 L314.8,2045.1 L312.2,2047.7 L308.5,2050.3 L303.2,2052.9 L293.2,2055.5 L277.2,2058.1 L277.2,2058.1 L261.4,2055.5 L251.6,2052.9 L246.5,2050.3 L242.9,2047.7 L240.6,2045.1 L238.3,2041.8 L234.2,2033.7 L233.0,2025.5 L232.6,2017.4 L232.5,2009.3 L232.9,2001.1 L233.9,1993.0 L235.2,1984.9 L236.6,1976.7 L238.0,1968.6 L239.7,1960.5 L241.6,1952.3 L243.7,1944.2 L246.2,1936.1 L248.5,1927.9 L250.4,1919.8 L253.4,1911.7 L255.3,1908.4 L257.3,1905.8 L259.8,1903.2 L263.7,1900.6 L269.8,1898.0 L282.8,1895.4Z" fill="#f1f4f4"/>
<path d="M369.4,1895.4 L382.3,1898.0 L388.4,1900.6 L392.2,1903.2 L394.7,1905.8 L396.7,1908.4 L398.6,1911.7 L401.4,1919.8 L403.2,1927.9 L405.3,1936.1 L407.7,1944.2 L409.7,1952.3 L411.5,1960.5 L413.1,1968.6 L414.4,1976.7 L415.7,1984.9 L416.9,1993.0 L417.8,2001.1 L418.0,2009.3 L417.8,2017.4 L417.3,2025.5 L416.0,2033.7 L411.8,2041.8 L409.5,2045.1 L407.0,2047.7 L403.4,2050.3 L398.3,2052.9 L388.5,2055.5 L372.6,2058.1 L372.6,2058.1 L356.6,2055.5 L346.7,2052.9 L341.5,2050.3 L337.8,2047.7 L335.2,2045.1 L332.8,2041.8 L328.3,2033.7 L326.6,2025.5 L325.8,2017.4 L325.3,2009.3 L325.2,2001.1 L325.7,1993.0 L326.6,1984.9 L327.6,1976.7 L328.6,1968.6 L329.9,1960.5 L331.3,1952.3 L333.0,1944.2 L335.1,1936.1 L336.9,1927.9 L338.3,1919.8 L340.9,1911.7 L342.6,1908.4 L344.5,1905.8 L346.9,1903.2 L350.6,1900.6 L356.6,1898.0 L369.4,1895.4Z" fill="#f1f4f4"/>
<path d="M460.6,1895.4 L473.5,1898.0 L479.4,1900.6 L483.1,1903.2 L485.5,1905.8 L487.4,1908.4 L489.1,1911.7 L491.7,1919.8 L493.1,1927.9 L495.0,1936.1 L497.0,1944.2 L498.7,1952.3 L500.1,1960.5 L501.4,1968.6 L502.4,1976.7 L503.4,1984.9 L504.3,1993.0 L504.8,2001.1 L504.7,2009.3 L504.2,2017.4 L503.4,2025.5 L501.7,2033.7 L497.2,2041.8 L494.8,2045.1 L492.2,2047.7 L488.5,2050.3 L483.3,2052.9 L473.3,2055.5 L457.4,2058.1 L457.4,2058.1 L441.5,2055.5 L431.7,2052.9 L426.5,2050.3 L422.9,2047.7 L420.5,2045.1 L418.2,2041.8 L414.0,2033.7 L412.7,2025.5 L412.2,2017.4 L412.0,2009.3 L412.2,2001.1 L413.1,1993.0 L414.3,1984.9 L415.6,1976.7 L416.9,1968.6 L418.5,1960.5 L420.3,1952.3 L422.3,1944.2 L424.7,1936.1 L426.8,1927.9 L428.6,1919.8 L431.4,1911.7 L433.3,1908.4 L435.3,1905.8 L437.8,1903.2 L441.6,1900.6 L447.7,1898.0 L460.6,1895.4Z" fill="#f1f4f4"/>
<path d="M564.0,1895.4 L576.8,1898.0 L582.8,1900.6 L586.5,1903.2 L588.9,1905.8 L590.7,1908.4 L592.5,1911.7 L594.9,1919.8 L596.4,1927.9 L598.2,1936.1 L600.2,1944.2 L601.8,1952.3 L603.2,1960.5 L604.5,1968.6 L605.4,1976.7 L606.3,1984.9 L607.2,1993.0 L607.7,2001.1 L607.6,2009.3 L607.0,2017.4 L606.2,2025.5 L604.4,2033.7 L599.9,2041.8 L597.4,2045.1 L594.9,2047.7 L591.2,2050.3 L585.9,2052.9 L576.0,2055.5 L560.0,2058.1 L560.0,2058.1 L544.1,2055.5 L534.3,2052.9 L529.2,2050.3 L525.6,2047.7 L523.2,2045.1 L520.9,2041.8 L516.8,2033.7 L515.4,2025.5 L515.0,2017.4 L514.8,2009.3 L515.1,2001.1 L516.0,1993.0 L517.2,1984.9 L518.6,1976.7 L520.0,1968.6 L521.6,1960.5 L523.4,1952.3 L525.5,1944.2 L527.9,1936.1 L530.0,1927.9 L531.9,1919.8 L534.8,1911.7 L536.7,1908.4 L538.6,1905.8 L541.2,1903.2 L545.0,1900.6 L551.1,1898.0 L564.0,1895.4Z" fill="#f1f4f4"/>
</g>
<g filter="url(#bl5)">
<ellipse cx="187.5" cy="1987.5" rx="37.7" ry="58.8" fill="#fff"/>
<ellipse cx="280.0" cy="1987.5" rx="37.7" ry="58.8" fill="#fff"/>
<ellipse cx="371.0" cy="1987.5" rx="37.7" ry="58.8" fill="#fff"/>
<ellipse cx="459.0" cy="1987.5" rx="37.7" ry="58.8" fill="#fff"/>
<ellipse cx="562.0" cy="1987.5" rx="37.7" ry="58.8" fill="#fff"/>
</g>
<rect x="135.8" y="1857.5" width="477.6" height="217.7" filter="url(#fur)" opacity="0.16"/>
<rect x="135.8" y="1857.5" width="477.6" height="217.7" filter="url(#furw)" opacity="0.12"/>
<g filter="url(#rag)" fill="#4c48ee">
<polygon points="175.0,2022.0 180.0,2007.0 192.5,1987.0 202.5,1974.5 217.5,1973.2 230.0,1977.0 233.8,1984.0 237.5,1974.5 245.0,1972.0 252.5,1987.0 256.2,2007.0 257.5,2027.0 265.0,2044.5 255.0,2054.5 240.0,2047.0 230.0,2039.5 220.0,2047.0 225.0,2064.5 226.2,2073.2 215.0,2067.0 207.5,2052.0 187.5,2049.5 177.5,2039.5"/>
<polygon points="283.8,2032.0 290.0,2007.0 302.5,1987.0 315.0,1975.8 322.5,1987.0 326.2,2009.5 330.0,1982.0 340.0,1969.5 355.0,1969.5 363.8,1987.0 366.2,2012.0 370.0,2034.5 377.5,2054.5 376.2,2073.2 355.0,2073.2 352.5,2054.5 330.0,2052.0 320.0,2062.0 325.0,2074.5 292.5,2074.5 282.5,2052.0"/>
<polygon points="405.0,2012.0 407.5,1997.0 412.5,1989.5 418.8,1997.5 423.8,1987.0 430.0,1994.5 435.0,2009.5 432.5,2027.0 425.0,2032.0 417.5,2027.0 410.0,2032.0 406.2,2022.0"/>
<polygon points="462.5,1897.0 490.0,1892.0 500.0,1952.0 512.5,1964.5 522.5,1947.0 527.5,1892.0 540.0,1887.0 552.5,1902.0 565.0,1987.0 565.0,2074.5 540.0,2074.5 535.0,2047.0 505.0,2042.0 490.0,2064.5 470.0,2074.5 462.5,2037.0 455.0,2017.0 470.0,1959.5 475.0,1912.0"/>
<ellipse cx="598.8" cy="2008.2" rx="12.0" ry="19.5"/>
</g>
<g clip-path="url(#bc7)">
<ellipse cx="215.0" cy="2019.5" rx="43.5" ry="42.0" fill="url(#glow)"/>
<ellipse cx="315.0" cy="2032.0" rx="36.0" ry="41.2" fill="url(#glow)"/>
<ellipse cx="337.5" cy="2029.5" rx="10.5" ry="21.0" fill="url(#glow)"/>
<ellipse cx="502.0" cy="2008.2" rx="36.3" ry="55.0" fill="url(#glow)"/>
<ellipse cx="524.5" cy="2002.0" rx="30.8" ry="52.3" fill="url(#glow)"/>
<ellipse cx="215.0" cy="2019.5" rx="14.5" ry="14.0" fill="url(#hotG)"/>
<ellipse cx="315.0" cy="2032.0" rx="12.0" ry="13.8" fill="url(#hotR)"/>
<ellipse cx="337.5" cy="2029.5" rx="3.5" ry="7.0" fill="url(#hotC)"/>
<ellipse cx="502.0" cy="2008.2" rx="16.5" ry="25.0" fill="url(#hotRR)"/>
<ellipse cx="524.5" cy="2002.0" rx="14.0" ry="23.8" fill="url(#hotRR)"/>
</g>
</g>
<g clip-path="url(#cp11)">
<rect x="632.5" y="1857.5" width="471.4" height="217.7" fill="url(#bgG)"/>
<g filter="url(#bl6)" fill="#161a1a" opacity="0.8">
<ellipse cx="682.0" cy="1963.5" rx="52.8" ry="102.5"/>
<ellipse cx="772.5" cy="1963.5" rx="52.8" ry="102.5"/>
<ellipse cx="864.0" cy="1963.5" rx="52.8" ry="102.5"/>
<ellipse cx="953.0" cy="1963.5" rx="52.8" ry="102.5"/>
<ellipse cx="1049.5" cy="1963.5" rx="52.8" ry="102.5"/>
</g>
<rect x="656.8" y="1859.5" width="6.4" height="19" rx="3" fill="#1c2222" stroke="#3d4545" stroke-width="1"/>
<rect x="715.8" y="1859.5" width="6.4" height="19" rx="3" fill="#1c2222" stroke="#3d4545" stroke-width="1"/>
<path d="M683.0,1857.5 L695.0,1857.5 L699.0,1876.0 L679.0,1876.0Z" fill="#8d9696"/>
<rect x="747.3" y="1859.5" width="6.4" height="19" rx="3" fill="#1c2222" stroke="#3d4545" stroke-width="1"/>
<rect x="806.3" y="1859.5" width="6.4" height="19" rx="3" fill="#1c2222" stroke="#3d4545" stroke-width="1"/>
<path d="M773.5,1857.5 L785.5,1857.5 L789.5,1876.0 L769.5,1876.0Z" fill="#8d9696"/>
<rect x="838.8" y="1859.5" width="6.4" height="19" rx="3" fill="#1c2222" stroke="#3d4545" stroke-width="1"/>
<rect x="897.8" y="1859.5" width="6.4" height="19" rx="3" fill="#1c2222" stroke="#3d4545" stroke-width="1"/>
<path d="M865.0,1857.5 L877.0,1857.5 L881.0,1876.0 L861.0,1876.0Z" fill="#8d9696"/>
<rect x="927.8" y="1859.5" width="6.4" height="19" rx="3" fill="#1c2222" stroke="#3d4545" stroke-width="1"/>
<rect x="986.8" y="1859.5" width="6.4" height="19" rx="3" fill="#1c2222" stroke="#3d4545" stroke-width="1"/>
<path d="M954.0,1857.5 L966.0,1857.5 L970.0,1876.0 L950.0,1876.0Z" fill="#8d9696"/>
<rect x="1024.3" y="1859.5" width="6.4" height="19" rx="3" fill="#1c2222" stroke="#3d4545" stroke-width="1"/>
<rect x="1083.3" y="1859.5" width="6.4" height="19" rx="3" fill="#1c2222" stroke="#3d4545" stroke-width="1"/>
<path d="M1050.5,1857.5 L1062.5,1857.5 L1066.5,1876.0 L1046.5,1876.0Z" fill="#8d9696"/>
<g filter="url(#bl1)" stroke-linecap="round" fill="none">
<line x1="680.6" y1="2047.0" x2="680.8" y2="2079.2" stroke="#d6d6d6" stroke-width="6.5"/>
<line x1="660.2" y1="2045.0" x2="651.1" y2="2073.2" stroke="#8c8c8c" stroke-width="6"/>
<line x1="703.8" y1="2045.0" x2="709.5" y2="2073.2" stroke="#8c8c8c" stroke-width="6"/>
<line x1="771.7" y1="2047.0" x2="771.9" y2="2079.2" stroke="#d6d6d6" stroke-width="6.5"/>
<line x1="750.7" y1="2045.0" x2="740.2" y2="2073.2" stroke="#8c8c8c" stroke-width="6"/>
<line x1="794.3" y1="2045.0" x2="805.6" y2="2073.2" stroke="#8c8c8c" stroke-width="6"/>
<line x1="861.3" y1="2047.0" x2="860.3" y2="2079.2" stroke="#d6d6d6" stroke-width="6.5"/>
<line x1="842.2" y1="2045.0" x2="830.7" y2="2073.2" stroke="#8c8c8c" stroke-width="6"/>
<line x1="885.8" y1="2045.0" x2="889.3" y2="2073.2" stroke="#8c8c8c" stroke-width="6"/>
<line x1="955.6" y1="2047.0" x2="954.5" y2="2079.2" stroke="#d6d6d6" stroke-width="6.5"/>
<line x1="931.2" y1="2045.0" x2="925.6" y2="2070.7" stroke="#8c8c8c" stroke-width="6"/>
<line x1="974.8" y1="2045.0" x2="986.6" y2="2071.0" stroke="#8c8c8c" stroke-width="6"/>
<line x1="1048.1" y1="2047.0" x2="1046.4" y2="2079.2" stroke="#d6d6d6" stroke-width="6.5"/>
<line x1="1027.7" y1="2045.0" x2="1024.6" y2="2069.2" stroke="#8c8c8c" stroke-width="6"/>
<line x1="1071.3" y1="2045.0" x2="1073.4" y2="2073.2" stroke="#8c8c8c" stroke-width="6"/>
</g>
<g filter="url(#bl2)">
<ellipse cx="654.7" cy="1891.2" rx="7.3" ry="4.8" fill="#a4afaf" transform="rotate(-48 654.7 1891.2)"/>
<ellipse cx="709.3" cy="1891.2" rx="7.3" ry="4.8" fill="#a4afaf" transform="rotate(48 709.3 1891.2)"/>
<path d="M683.1,1872.0 L695.7,1874.9 L701.6,1877.9 L705.2,1880.8 L707.6,1883.7 L709.4,1886.6 L711.2,1890.3 L713.7,1899.5 L715.2,1908.6 L717.0,1917.8 L719.1,1926.9 L720.8,1936.0 L722.2,1945.2 L723.5,1954.3 L724.6,1963.5 L725.6,1972.7 L726.5,1981.8 L727.0,1991.0 L727.0,2000.1 L726.6,2009.2 L725.8,2018.4 L724.2,2027.5 L719.8,2036.7 L717.5,2040.4 L715.0,2043.3 L711.4,2046.2 L706.3,2049.1 L696.5,2052.1 L680.9,2055.0 L680.9,2055.0 L665.3,2052.1 L655.6,2049.1 L650.6,2046.2 L647.1,2043.3 L644.7,2040.4 L642.4,2036.7 L638.3,2027.5 L636.9,2018.4 L636.3,2009.2 L636.1,2000.1 L636.3,1991.0 L637.1,1981.8 L638.2,1972.7 L639.4,1963.5 L640.7,1954.3 L642.2,1945.2 L643.9,1936.0 L645.8,1926.9 L648.1,1917.8 L650.1,1908.6 L651.9,1899.5 L654.6,1890.3 L656.4,1886.6 L658.3,1883.7 L660.8,1880.8 L664.5,1877.9 L670.4,1874.9 L683.1,1872.0Z" fill="#bdc6c6"/>
<ellipse cx="745.2" cy="1891.2" rx="7.3" ry="4.8" fill="#a4afaf" transform="rotate(-48 745.2 1891.2)"/>
<ellipse cx="799.8" cy="1891.2" rx="7.3" ry="4.8" fill="#a4afaf" transform="rotate(48 799.8 1891.2)"/>
<path d="M773.2,1872.0 L785.8,1874.9 L791.7,1877.9 L795.4,1880.8 L797.8,1883.7 L799.6,1886.6 L801.4,1890.3 L803.9,1899.5 L805.4,1908.6 L807.3,1917.8 L809.4,1926.9 L811.2,1936.0 L812.7,1945.2 L814.0,1954.3 L815.1,1963.5 L816.1,1972.7 L817.0,1981.8 L817.7,1991.0 L817.7,2000.1 L817.3,2009.2 L816.5,2018.4 L815.0,2027.5 L810.7,2036.7 L808.3,2040.4 L805.8,2043.3 L802.2,2046.2 L797.1,2049.1 L787.4,2052.1 L771.8,2055.0 L771.8,2055.0 L756.2,2052.1 L746.5,2049.1 L741.5,2046.2 L737.9,2043.3 L735.5,2040.4 L733.2,2036.7 L729.0,2027.5 L727.6,2018.4 L727.0,2009.2 L726.7,2000.1 L726.9,1991.0 L727.7,1981.8 L728.8,1972.7 L729.9,1963.5 L731.2,1954.3 L732.6,1945.2 L734.3,1936.0 L736.2,1926.9 L738.4,1917.8 L740.4,1908.6 L742.1,1899.5 L744.8,1890.3 L746.6,1886.6 L748.5,1883.7 L750.9,1880.8 L754.7,1877.9 L760.6,1874.9 L773.2,1872.0Z" fill="#bdc6c6"/>
<ellipse cx="836.7" cy="1891.2" rx="7.3" ry="4.8" fill="#a4afaf" transform="rotate(-48 836.7 1891.2)"/>
<ellipse cx="891.3" cy="1891.2" rx="7.3" ry="4.8" fill="#a4afaf" transform="rotate(48 891.3 1891.2)"/>
<path d="M863.6,1872.0 L876.2,1874.9 L882.1,1877.9 L885.8,1880.8 L888.3,1883.7 L890.1,1886.6 L891.9,1890.3 L894.6,1899.5 L896.3,1908.6 L898.2,1917.8 L900.5,1926.9 L902.3,1936.0 L903.9,1945.2 L905.4,1954.3 L906.6,1963.5 L907.7,1972.7 L908.8,1981.8 L909.5,1991.0 L909.6,2000.1 L909.4,2009.2 L908.7,2018.4 L907.3,2027.5 L903.1,2036.7 L900.8,2040.4 L898.3,2043.3 L894.8,2046.2 L889.7,2049.1 L880.0,2052.1 L864.4,2055.0 L864.4,2055.0 L848.8,2052.1 L839.1,2049.1 L834.0,2046.2 L830.4,2043.3 L828.0,2040.4 L825.6,2036.7 L821.3,2027.5 L819.8,2018.4 L819.1,2009.2 L818.7,2000.1 L818.8,1991.0 L819.4,1981.8 L820.4,1972.7 L821.4,1963.5 L822.5,1954.3 L823.9,1945.2 L825.4,1936.0 L827.2,1926.9 L829.3,1917.8 L831.2,1908.6 L832.8,1899.5 L835.4,1890.3 L837.1,1886.6 L839.0,1883.7 L841.4,1880.8 L845.1,1877.9 L850.9,1874.9 L863.6,1872.0Z" fill="#bdc6c6"/>
<ellipse cx="925.7" cy="1891.2" rx="7.3" ry="4.8" fill="#a4afaf" transform="rotate(-48 925.7 1891.2)"/>
<ellipse cx="980.3" cy="1891.2" rx="7.3" ry="4.8" fill="#a4afaf" transform="rotate(48 980.3 1891.2)"/>
<path d="M954.0,1872.0 L966.6,1874.9 L972.5,1877.9 L976.1,1880.8 L978.5,1883.7 L980.3,1886.6 L982.1,1890.3 L984.6,1899.5 L986.1,1908.6 L988.0,1917.8 L990.0,1926.9 L991.7,1936.0 L993.2,1945.2 L994.5,1954.3 L995.6,1963.5 L996.6,1972.7 L997.5,1981.8 L998.1,1991.0 L998.1,2000.1 L997.6,2009.2 L996.9,2018.4 L995.3,2027.5 L990.9,2036.7 L988.6,2040.4 L986.1,2043.3 L982.5,2046.2 L977.4,2049.1 L967.6,2052.1 L952.0,2055.0 L952.0,2055.0 L936.4,2052.1 L926.7,2049.1 L921.7,2046.2 L918.2,2043.3 L915.8,2040.4 L913.5,2036.7 L909.3,2027.5 L907.9,2018.4 L907.4,2009.2 L907.1,2000.1 L907.3,1991.0 L908.1,1981.8 L909.2,1972.7 L910.4,1963.5 L911.7,1954.3 L913.2,1945.2 L914.9,1936.0 L916.8,1926.9 L919.0,1917.8 L921.1,1908.6 L922.8,1899.5 L925.5,1890.3 L927.4,1886.6 L929.2,1883.7 L931.7,1880.8 L935.4,1877.9 L941.3,1874.9 L954.0,1872.0Z" fill="#bdc6c6"/>
<ellipse cx="1022.2" cy="1891.2" rx="7.3" ry="4.8" fill="#a4afaf" transform="rotate(-48 1022.2 1891.2)"/>
<ellipse cx="1076.8" cy="1891.2" rx="7.3" ry="4.8" fill="#a4afaf" transform="rotate(48 1076.8 1891.2)"/>
<path d="M1048.2,1872.0 L1060.9,1874.9 L1066.8,1877.9 L1070.5,1880.8 L1073.0,1883.7 L1074.9,1886.6 L1076.7,1890.3 L1079.5,1899.5 L1081.2,1908.6 L1083.3,1917.8 L1085.6,1926.9 L1087.5,1936.0 L1089.3,1945.2 L1090.8,1954.3 L1092.1,1963.5 L1093.3,1972.7 L1094.5,1981.8 L1095.3,1991.0 L1095.5,2000.1 L1095.3,2009.2 L1094.8,2018.4 L1093.4,2027.5 L1089.3,2036.7 L1087.0,2040.4 L1084.6,2043.3 L1081.1,2046.2 L1076.1,2049.1 L1066.4,2052.1 L1050.8,2055.0 L1050.8,2055.0 L1035.2,2052.1 L1025.4,2049.1 L1020.3,2046.2 L1016.7,2043.3 L1014.2,2040.4 L1011.8,2036.7 L1007.4,2027.5 L1005.8,2018.4 L1005.0,2009.2 L1004.6,2000.1 L1004.5,1991.0 L1005.1,1981.8 L1006.0,1972.7 L1006.9,1963.5 L1007.9,1954.3 L1009.2,1945.2 L1010.7,1936.0 L1012.3,1926.9 L1014.4,1917.8 L1016.2,1908.6 L1017.7,1899.5 L1020.2,1890.3 L1021.9,1886.6 L1023.7,1883.7 L1026.1,1880.8 L1029.7,1877.9 L1035.6,1874.9 L1048.2,1872.0Z" fill="#bdc6c6"/>
</g>
<g filter="url(#bl4)">
<path d="M683.1,1899.5 L694.6,1901.9 L699.9,1904.3 L703.2,1906.7 L705.4,1909.2 L707.0,1911.6 L708.6,1914.6 L710.9,1922.2 L712.3,1929.8 L713.9,1937.4 L715.8,1945.0 L717.3,1952.6 L718.6,1960.2 L719.8,1967.8 L720.8,1975.4 L721.6,1983.0 L722.5,1990.6 L723.0,1998.2 L722.9,2005.8 L722.5,2013.4 L721.8,2021.0 L720.3,2028.6 L716.4,2036.2 L714.2,2039.2 L711.9,2041.6 L708.7,2044.0 L704.0,2046.5 L695.1,2048.9 L680.9,2051.3 L680.9,2051.3 L666.7,2048.9 L657.9,2046.5 L653.3,2044.0 L650.1,2041.6 L647.9,2039.2 L645.9,2036.2 L642.1,2028.6 L640.9,2021.0 L640.4,2013.4 L640.2,2005.8 L640.4,1998.2 L641.1,1990.6 L642.1,1983.0 L643.2,1975.4 L644.4,1967.8 L645.8,1960.2 L647.4,1952.6 L649.1,1945.0 L651.2,1937.4 L653.1,1929.8 L654.6,1922.2 L657.1,1914.6 L658.8,1911.6 L660.5,1909.2 L662.8,1906.7 L666.2,1904.3 L671.6,1901.9 L683.1,1899.5Z" fill="#f1f4f4"/>
<path d="M773.2,1899.5 L784.7,1901.9 L790.0,1904.3 L793.4,1906.7 L795.6,1909.2 L797.2,1911.6 L798.8,1914.6 L801.1,1922.2 L802.5,1929.8 L804.2,1937.4 L806.1,1945.0 L807.7,1952.6 L809.1,1960.2 L810.3,1967.8 L811.3,1975.4 L812.2,1983.0 L813.0,1990.6 L813.6,1998.2 L813.6,2005.8 L813.2,2013.4 L812.5,2021.0 L811.1,2028.6 L807.2,2036.2 L805.0,2039.2 L802.8,2041.6 L799.5,2044.0 L794.9,2046.5 L786.0,2048.9 L771.8,2051.3 L771.8,2051.3 L757.6,2048.9 L748.8,2046.5 L744.2,2044.0 L741.0,2041.6 L738.8,2039.2 L736.7,2036.2 L732.9,2028.6 L731.6,2021.0 L731.1,2013.4 L730.8,2005.8 L731.0,1998.2 L731.7,1990.6 L732.7,1983.0 L733.7,1975.4 L734.9,1967.8 L736.2,1960.2 L737.7,1952.6 L739.5,1945.0 L741.5,1937.4 L743.3,1929.8 L744.9,1922.2 L747.3,1914.6 L749.0,1911.6 L750.7,1909.2 L752.9,1906.7 L756.3,1904.3 L761.7,1901.9 L773.2,1899.5Z" fill="#f1f4f4"/>
<path d="M863.6,1899.5 L875.1,1901.9 L880.5,1904.3 L883.8,1906.7 L886.0,1909.2 L887.8,1911.6 L889.4,1914.6 L891.8,1922.2 L893.3,1929.8 L895.1,1937.4 L897.2,1945.0 L898.8,1952.6 L900.3,1960.2 L901.6,1967.8 L902.8,1975.4 L903.8,1983.0 L904.8,1990.6 L905.4,1998.2 L905.5,2005.8 L905.3,2013.4 L904.7,2021.0 L903.4,2028.6 L899.6,2036.2 L897.5,2039.2 L895.3,2041.6 L892.0,2044.0 L887.5,2046.5 L878.6,2048.9 L864.4,2051.3 L864.4,2051.3 L850.2,2048.9 L841.4,2046.5 L836.7,2044.0 L833.5,2041.6 L831.2,2039.2 L829.1,2036.2 L825.2,2028.6 L823.8,2021.0 L823.1,2013.4 L822.8,2005.8 L822.8,1998.2 L823.4,1990.6 L824.3,1983.0 L825.2,1975.4 L826.3,1967.8 L827.5,1960.2 L828.9,1952.6 L830.5,1945.0 L832.4,1937.4 L834.2,1929.8 L835.6,1922.2 L837.9,1914.6 L839.5,1911.6 L841.2,1909.2 L843.4,1906.7 L846.7,1904.3 L852.1,1901.9 L863.6,1899.5Z" fill="#f1f4f4"/>
<path d="M954.0,1899.5 L965.5,1901.9 L970.8,1904.3 L974.1,1906.7 L976.3,1909.2 L978.0,1911.6 L979.5,1914.6 L981.8,1922.2 L983.2,1929.8 L984.9,1937.4 L986.7,1945.0 L988.3,1952.6 L989.6,1960.2 L990.8,1967.8 L991.8,1975.4 L992.6,1983.0 L993.5,1990.6 L994.0,1998.2 L994.0,2005.8 L993.6,2013.4 L992.9,2021.0 L991.4,2028.6 L987.4,2036.2 L985.3,2039.2 L983.0,2041.6 L979.7,2044.0 L975.1,2046.5 L966.2,2048.9 L952.0,2051.3 L952.0,2051.3 L937.8,2048.9 L929.0,2046.5 L924.4,2044.0 L921.2,2041.6 L919.0,2039.2 L916.9,2036.2 L913.2,2028.6 L911.9,2021.0 L911.4,2013.4 L911.2,2005.8 L911.4,1998.2 L912.1,1990.6 L913.2,1983.0 L914.2,1975.4 L915.4,1967.8 L916.8,1960.2 L918.3,1952.6 L920.1,1945.0 L922.2,1937.4 L924.0,1929.8 L925.6,1922.2 L928.1,1914.6 L929.7,1911.6 L931.5,1909.2 L933.7,1906.7 L937.1,1904.3 L942.5,1901.9 L954.0,1899.5Z" fill="#f1f4f4"/>
<path d="M1048.2,1899.5 L1059.7,1901.9 L1065.1,1904.3 L1068.5,1906.7 L1070.8,1909.2 L1072.5,1911.6 L1074.2,1914.6 L1076.7,1922.2 L1078.3,1929.8 L1080.2,1937.4 L1082.3,1945.0 L1084.1,1952.6 L1085.7,1960.2 L1087.1,1967.8 L1088.3,1975.4 L1089.4,1983.0 L1090.4,1990.6 L1091.2,1998.2 L1091.4,2005.8 L1091.2,2013.4 L1090.8,2021.0 L1089.5,2028.6 L1085.8,2036.2 L1083.7,2039.2 L1081.6,2041.6 L1078.3,2044.0 L1073.8,2046.5 L1065.0,2048.9 L1050.8,2051.3 L1050.8,2051.3 L1036.6,2048.9 L1027.7,2046.5 L1023.0,2044.0 L1019.7,2041.6 L1017.5,2039.2 L1015.3,2036.2 L1011.3,2028.6 L1009.8,2021.0 L1009.1,2013.4 L1008.7,2005.8 L1008.6,1998.2 L1009.1,1990.6 L1009.9,1983.0 L1010.7,1975.4 L1011.7,1967.8 L1012.8,1960.2 L1014.1,1952.6 L1015.6,1945.0 L1017.5,1937.4 L1019.1,1929.8 L1020.4,1922.2 L1022.7,1914.6 L1024.3,1911.6 L1025.9,1909.2 L1028.1,1906.7 L1031.4,1904.3 L1036.7,1901.9 L1048.2,1899.5Z" fill="#f1f4f4"/>
</g>
<g filter="url(#bl5)">
<ellipse cx="682.0" cy="1985.5" rx="33.7" ry="54.9" fill="#fff"/>
<ellipse cx="772.5" cy="1985.5" rx="33.7" ry="54.9" fill="#fff"/>
<ellipse cx="864.0" cy="1985.5" rx="33.7" ry="54.9" fill="#fff"/>
<ellipse cx="953.0" cy="1985.5" rx="33.7" ry="54.9" fill="#fff"/>
<ellipse cx="1049.5" cy="1985.5" rx="33.7" ry="54.9" fill="#fff"/>
</g>
<rect x="632.5" y="1857.5" width="471.4" height="217.7" filter="url(#fur)" opacity="0.16"/>
<rect x="632.5" y="1857.5" width="471.4" height="217.7" filter="url(#furw)" opacity="0.12"/>
<g filter="url(#rag)" fill="#4c48ee">
<ellipse cx="724.3" cy="2017.1" rx="16.9" ry="18.7"/>
<ellipse cx="815.2" cy="2014.7" rx="12.6" ry="16.6"/>
<ellipse cx="905.0" cy="2011.1" rx="6.6" ry="9.6"/>
<ellipse cx="914.0" cy="2009.0" rx="1.8" ry="3.6"/>
<ellipse cx="1088.6" cy="2013.2" rx="10.2" ry="17.5"/>
</g>
</g>
<text x="22.3" y="1891.3" font-size="35.5" class="my" textLength="107.6" lengthAdjust="spacingAndGlyphs">Day 44</text>
<rect x="1105.6" y="733.2" width="12.6" height="215.4" fill="url(#jet)" stroke="#26262e" stroke-width="1"/>
<line x1="1118.5" y1="733.2" x2="1123.5" y2="733.2" stroke="#111" stroke-width="1.5"/>
<line x1="1118.5" y1="783.8" x2="1123.5" y2="783.8" stroke="#111" stroke-width="1.5"/>
<line x1="1118.5" y1="874.3" x2="1123.5" y2="874.3" stroke="#111" stroke-width="1.5"/>
<line x1="1118.5" y1="882.9" x2="1123.5" y2="882.9" stroke="#111" stroke-width="1.5"/>
<line x1="1118.5" y1="892.6" x2="1123.5" y2="892.6" stroke="#111" stroke-width="1.5"/>
<line x1="1118.5" y1="928.1" x2="1123.5" y2="928.1" stroke="#111" stroke-width="1.5"/>
<text x="1122.5" y="750.6" font-size="25" class="my" textLength="74.5" lengthAdjust="spacingAndGlyphs">5.0x10</text>
<text x="1199.0" y="739.1" font-size="16" class="my">7</text>
<text x="1123.5" y="948.2" font-size="25" class="my" textLength="73.5" lengthAdjust="spacingAndGlyphs">1.3x10</text>
<text x="1199.0" y="936.7" font-size="16" class="my">6</text>
<rect x="1105.6" y="959.3" width="12.6" height="436.1" fill="url(#jet)" stroke="#26262e" stroke-width="1"/>
<line x1="1118.5" y1="979.8" x2="1123.5" y2="979.8" stroke="#111" stroke-width="1.5"/>
<line x1="1118.5" y1="1000.3" x2="1123.5" y2="1000.3" stroke="#111" stroke-width="1.5"/>
<line x1="1118.5" y1="1015.1" x2="1123.5" y2="1015.1" stroke="#111" stroke-width="1.5"/>
<line x1="1118.5" y1="1044.8" x2="1123.5" y2="1044.8" stroke="#111" stroke-width="1.5"/>
<line x1="1118.5" y1="1059.6" x2="1123.5" y2="1059.6" stroke="#111" stroke-width="1.5"/>
<line x1="1118.5" y1="1103.2" x2="1123.5" y2="1103.2" stroke="#111" stroke-width="1.5"/>
<line x1="1118.5" y1="1147.3" x2="1123.5" y2="1147.3" stroke="#111" stroke-width="1.5"/>
<line x1="1118.5" y1="1190.4" x2="1123.5" y2="1190.4" stroke="#111" stroke-width="1.5"/>
<line x1="1118.5" y1="1234.0" x2="1123.5" y2="1234.0" stroke="#111" stroke-width="1.5"/>
<line x1="1118.5" y1="1277.7" x2="1123.5" y2="1277.7" stroke="#111" stroke-width="1.5"/>
<line x1="1118.5" y1="1292.9" x2="1123.5" y2="1292.9" stroke="#111" stroke-width="1.5"/>
<line x1="1118.5" y1="1321.3" x2="1123.5" y2="1321.3" stroke="#111" stroke-width="1.5"/>
<line x1="1118.5" y1="1336.5" x2="1123.5" y2="1336.5" stroke="#111" stroke-width="1.5"/>
<line x1="1118.5" y1="1364.9" x2="1123.5" y2="1364.9" stroke="#111" stroke-width="1.5"/>
<line x1="1118.5" y1="1380.1" x2="1123.5" y2="1380.1" stroke="#111" stroke-width="1.5"/>
<text x="1122.5" y="980.0" font-size="25" class="my" textLength="74.5" lengthAdjust="spacingAndGlyphs">3.0x10</text>
<text x="1199.0" y="968.5" font-size="16" class="my">7</text>
<text x="1123.5" y="1397.1" font-size="25" class="my" textLength="73.5" lengthAdjust="spacingAndGlyphs">1.0x10</text>
<text x="1199.0" y="1385.6" font-size="16" class="my">5</text>
<rect x="1105.6" y="1407.8" width="12.6" height="666.6" fill="url(#jet)" stroke="#26262e" stroke-width="1"/>
<line x1="1118.5" y1="1431.1" x2="1123.5" y2="1431.1" stroke="#111" stroke-width="1.5"/>
<line x1="1118.5" y1="1527.8" x2="1123.5" y2="1527.8" stroke="#111" stroke-width="1.5"/>
<line x1="1118.5" y1="1561.1" x2="1123.5" y2="1561.1" stroke="#111" stroke-width="1.5"/>
<line x1="1118.5" y1="1594.4" x2="1123.5" y2="1594.4" stroke="#111" stroke-width="1.5"/>
<line x1="1118.5" y1="1627.8" x2="1123.5" y2="1627.8" stroke="#111" stroke-width="1.5"/>
<line x1="1118.5" y1="1701.1" x2="1123.5" y2="1701.1" stroke="#111" stroke-width="1.5"/>
<line x1="1118.5" y1="1774.4" x2="1123.5" y2="1774.4" stroke="#111" stroke-width="1.5"/>
<line x1="1118.5" y1="1807.8" x2="1123.5" y2="1807.8" stroke="#111" stroke-width="1.5"/>
<line x1="1118.5" y1="1841.1" x2="1123.5" y2="1841.1" stroke="#111" stroke-width="1.5"/>
<line x1="1118.5" y1="1874.4" x2="1123.5" y2="1874.4" stroke="#111" stroke-width="1.5"/>
<line x1="1118.5" y1="1947.7" x2="1123.5" y2="1947.7" stroke="#111" stroke-width="1.5"/>
<line x1="1118.5" y1="1981.1" x2="1123.5" y2="1981.1" stroke="#111" stroke-width="1.5"/>
<line x1="1118.5" y1="2014.4" x2="1123.5" y2="2014.4" stroke="#111" stroke-width="1.5"/>
<line x1="1118.5" y1="2047.7" x2="1123.5" y2="2047.7" stroke="#111" stroke-width="1.5"/>
<text x="1122.5" y="1431.8" font-size="25" class="my" textLength="74.5" lengthAdjust="spacingAndGlyphs">2.2x10</text>
<text x="1199.0" y="1420.3" font-size="16" class="my">8</text>
<text x="1123.5" y="2071.6" font-size="25" class="my" textLength="73.5" lengthAdjust="spacingAndGlyphs">1.0x10</text>
<text x="1199.0" y="2060.1" font-size="16" class="my">5</text>
<text x="1.4" y="48.0" font-size="53.5" textLength="28.4" lengthAdjust="spacingAndGlyphs" font-weight="bold">a</text>
<rect x="267" y="252.5" width="620" height="100" fill="#f69382"/>
<line x1="177.0" y1="352.0" x2="1090.0" y2="352.0" stroke="#111" stroke-width="2.4"/>
<path d="M1117,352 L1080,341.5 L1090,352 L1080,362.5 Z" fill="#111"/>
<line x1="177.5" y1="336.5" x2="177.5" y2="367.5" stroke="#111" stroke-width="2.4"/>
<text x="177.5" y="402.0" font-size="36" text-anchor="middle">0</text>
<line x1="267.0" y1="336.5" x2="267.0" y2="367.5" stroke="#111" stroke-width="2.4"/>
<text x="267.0" y="402.0" font-size="36" text-anchor="middle">3</text>
<line x1="355.0" y1="336.5" x2="355.0" y2="367.5" stroke="#111" stroke-width="2.4"/>
<text x="355.0" y="402.0" font-size="36" text-anchor="middle">5</text>
<line x1="444.0" y1="336.5" x2="444.0" y2="367.5" stroke="#111" stroke-width="2.4"/>
<text x="444.0" y="402.0" font-size="36" text-anchor="middle">7</text>
<line x1="534.0" y1="336.5" x2="534.0" y2="367.5" stroke="#111" stroke-width="2.4"/>
<text x="534.0" y="402.0" font-size="36" text-anchor="middle">9</text>
<line x1="622.5" y1="336.5" x2="622.5" y2="367.5" stroke="#111" stroke-width="2.4"/>
<text x="622.5" y="402.0" font-size="36" text-anchor="middle">11</text>
<line x1="712.0" y1="336.5" x2="712.0" y2="367.5" stroke="#111" stroke-width="2.4"/>
<text x="712.0" y="402.0" font-size="36" text-anchor="middle">13</text>
<line x1="801.0" y1="336.5" x2="801.0" y2="367.5" stroke="#111" stroke-width="2.4"/>
<text x="801.0" y="402.0" font-size="36" text-anchor="middle">15</text>
<line x1="886.5" y1="336.5" x2="886.5" y2="367.5" stroke="#111" stroke-width="2.4"/>
<text x="886.5" y="402.0" font-size="36" text-anchor="middle">17</text>
<line x1="177.5" y1="252.0" x2="177.5" y2="312.0" stroke="#111" stroke-width="2.6"/>
<path d="M168.0,308 L187.0,308 L177.5,330.5 Z" fill="#111"/>
<line x1="267.0" y1="252.0" x2="267.0" y2="312.0" stroke="#111" stroke-width="2.6"/>
<path d="M257.5,308 L276.5,308 L267,330.5 Z" fill="#111"/>
<line x1="267.5" y1="438.0" x2="267.5" y2="494.0" stroke="#e0261c" stroke-width="2.4"/>
<path d="M267.5,426 L276,455.5 L267.5,449 L259,455.5 Z" fill="#e0261c"/>
<line x1="355.5" y1="438.0" x2="355.5" y2="494.0" stroke="#e0261c" stroke-width="2.4"/>
<path d="M355.5,426 L364,455.5 L355.5,449 L347,455.5 Z" fill="#e0261c"/>
<line x1="444.5" y1="438.0" x2="444.5" y2="494.0" stroke="#e0261c" stroke-width="2.4"/>
<path d="M444.5,426 L453,455.5 L444.5,449 L436,455.5 Z" fill="#e0261c"/>
<line x1="534.5" y1="438.0" x2="534.5" y2="494.0" stroke="#e0261c" stroke-width="2.4"/>
<path d="M534.5,426 L543,455.5 L534.5,449 L526,455.5 Z" fill="#e0261c"/>
<line x1="623.0" y1="438.0" x2="623.0" y2="494.0" stroke="#e0261c" stroke-width="2.4"/>
<path d="M623.0,426 L631.5,455.5 L623.0,449 L614.5,455.5 Z" fill="#e0261c"/>
<line x1="712.5" y1="438.0" x2="712.5" y2="494.0" stroke="#e0261c" stroke-width="2.4"/>
<path d="M712.5,426 L721,455.5 L712.5,449 L704,455.5 Z" fill="#e0261c"/>
<line x1="801.5" y1="438.0" x2="801.5" y2="494.0" stroke="#e0261c" stroke-width="2.4"/>
<path d="M801.5,426 L810,455.5 L801.5,449 L793,455.5 Z" fill="#e0261c"/>
<line x1="887.0" y1="438.0" x2="887.0" y2="494.0" stroke="#e0261c" stroke-width="2.4"/>
<path d="M887.0,426 L895.5,455.5 L887.0,449 L878.5,455.5 Z" fill="#e0261c"/>
<text x="903.5" y="324.5" font-size="36" textLength="179.0" lengthAdjust="spacingAndGlyphs">120 (Days)</text>
<text x="225.0" y="548.5" font-size="35.5" class="my" textLength="679.0" lengthAdjust="spacingAndGlyphs">DUPA-3-diketone, 500 nmol/kg i.v. injection</text>
<text x="0.0" y="0.0" font-size="36" textLength="289.0" lengthAdjust="spacingAndGlyphs" transform="translate(115,234) rotate(-45)">PC-3 PSMA /ffluc</text>
<text x="0.0" y="0.0" font-size="36" transform="translate(210,207) rotate(-45)">(1x10<tspan font-size="27" dy="-15">6</tspan><tspan dy="15">)</tspan></text>
<text x="0.0" y="0.0" font-size="36" textLength="142.5" lengthAdjust="spacingAndGlyphs" transform="translate(311.5,202) rotate(-45)">CovCAR</text>
<text x="0.0" y="0.0" font-size="36" transform="translate(348,233) rotate(-45)">(10x10<tspan font-size="27" dy="-15">6</tspan><tspan dy="15">)</tspan></text>
<g transform="translate(40,270) scale(0.081633)" fill="#6f8080">
<ellipse cx="583" cy="365" rx="58" ry="130" transform="rotate(-2 583 365)"/>
<ellipse cx="742" cy="428" rx="52" ry="125" transform="rotate(52 742 428)"/>
<path d="M195,540 C300,500 420,485 520,490 C600,490 660,505 720,550 C850,650 980,780 1050,920 C1110,1050 1120,1200 1080,1320 C1055,1390 1010,1430 960,1450 C1100,1440 1200,1350 1240,1150 C1265,1000 1255,800 1240,650 C1300,850 1310,1050 1285,1220 C1250,1400 1150,1490 1000,1503 L600,1506 C560,1500 540,1490 545,1478 C570,1445 620,1435 720,1432 C690,1380 670,1300 668,1200 C665,1100 665,1040 690,1000 C630,1060 640,1200 665,1362 C580,1290 510,1180 495,1050 C490,990 492,950 485,920 C420,905 360,910 320,935 C300,930 305,905 330,895 C380,875 430,875 470,872 C420,760 330,650 195,540 Z"/>
<ellipse cx="545" cy="598" rx="80" ry="76" fill="#fff"/>
<path d="M668,1300 C655,1150 650,1050 690,1000 C715,970 750,975 775,1005" fill="none" stroke="#fff" stroke-width="26" stroke-linecap="round"/>
</g>
<text x="1273.2" y="48.0" font-size="53.5" textLength="26.5" lengthAdjust="spacingAndGlyphs" font-weight="bold">c</text>
<rect x="1476.4" y="147" width="97.2" height="381.0" fill="#f69382"/>
<line x1="1456.5" y1="106.0" x2="1456.5" y2="529.2" stroke="#111" stroke-width="2.4"/>
<line x1="1441.5" y1="528.0" x2="2091.8" y2="528.0" stroke="#111" stroke-width="2.4"/>
<line x1="1441.5" y1="528.0" x2="1456.5" y2="528.0" stroke="#111" stroke-width="2.4"/>
<line x1="1447.5" y1="432.0" x2="1456.5" y2="432.0" stroke="#111" stroke-width="2.4"/>
<line x1="1441.5" y1="336.0" x2="1456.5" y2="336.0" stroke="#111" stroke-width="2.4"/>
<line x1="1447.5" y1="240.0" x2="1456.5" y2="240.0" stroke="#111" stroke-width="2.4"/>
<line x1="1441.5" y1="144.0" x2="1456.5" y2="144.0" stroke="#111" stroke-width="2.4"/>
<line x1="1456.5" y1="528.0" x2="1456.5" y2="543.0" stroke="#111" stroke-width="2.4"/>
<line x1="1498.8" y1="528.0" x2="1498.8" y2="537.0" stroke="#111" stroke-width="2.4"/>
<line x1="1541.0" y1="528.0" x2="1541.0" y2="537.0" stroke="#111" stroke-width="2.4"/>
<line x1="1583.3" y1="528.0" x2="1583.3" y2="537.0" stroke="#111" stroke-width="2.4"/>
<line x1="1625.6" y1="528.0" x2="1625.6" y2="537.0" stroke="#111" stroke-width="2.4"/>
<line x1="1667.8" y1="528.0" x2="1667.8" y2="543.0" stroke="#111" stroke-width="2.4"/>
<line x1="1710.1" y1="528.0" x2="1710.1" y2="537.0" stroke="#111" stroke-width="2.4"/>
<line x1="1752.4" y1="528.0" x2="1752.4" y2="537.0" stroke="#111" stroke-width="2.4"/>
<line x1="1794.7" y1="528.0" x2="1794.7" y2="537.0" stroke="#111" stroke-width="2.4"/>
<line x1="1836.9" y1="528.0" x2="1836.9" y2="537.0" stroke="#111" stroke-width="2.4"/>
<line x1="1879.2" y1="528.0" x2="1879.2" y2="543.0" stroke="#111" stroke-width="2.4"/>
<line x1="1921.5" y1="528.0" x2="1921.5" y2="537.0" stroke="#111" stroke-width="2.4"/>
<line x1="1963.7" y1="528.0" x2="1963.7" y2="537.0" stroke="#111" stroke-width="2.4"/>
<line x1="2006.0" y1="528.0" x2="2006.0" y2="537.0" stroke="#111" stroke-width="2.4"/>
<line x1="2048.3" y1="528.0" x2="2048.3" y2="537.0" stroke="#111" stroke-width="2.4"/>
<line x1="2090.6" y1="528.0" x2="2090.6" y2="543.0" stroke="#111" stroke-width="2.4"/>
<text x="1438.0" y="538.8" font-size="32.5" text-anchor="end">0</text>
<text x="1438.0" y="346.8" font-size="32.5" text-anchor="end">50</text>
<text x="1438.0" y="154.8" font-size="32.5" text-anchor="end">100</text>
<text x="1456.5" y="574.8" font-size="32.8" text-anchor="middle">0</text>
<text x="1667.8" y="574.8" font-size="32.8" text-anchor="middle">50</text>
<text x="1879.2" y="574.8" font-size="32.8" text-anchor="middle">100</text>
<text x="2090.6" y="574.8" font-size="32.8" text-anchor="middle">150</text>
<polyline points="1456.5,144.0 1718.6,144.0 1718.6,220.8 1955.3,220.8 1955.3,374.4 2031.4,374.4 2031.4,528.0" fill="none" stroke="#e8220f" stroke-width="6" stroke-linejoin="miter" stroke-linecap="butt"/>
<polyline points="1456.5,144.0 1667.8,144.0 1667.8,208.0 1697.4,208.0 1697.4,272.0 1718.6,272.0 1718.6,400.0 1748.2,400.0 1748.2,528.0" fill="none" stroke="#3f5be6" stroke-width="6" stroke-linejoin="miter" stroke-linecap="butt"/>
<text x="1971.0" y="352.0" font-size="39" textLength="163.0" lengthAdjust="spacingAndGlyphs">p=0.0128</text>
<text x="2057.5" y="513.0" font-size="40" text-anchor="middle">*</text>
<text x="1687.5" y="622.6" font-size="35.5" class="my" textLength="207.4" lengthAdjust="spacingAndGlyphs">Days elapsed</text>
<text x="0.0" y="0.0" font-size="35" class="my" textLength="168.0" lengthAdjust="spacingAndGlyphs" transform="translate(1349,414) rotate(-90)">Survival, %</text>
<text x="1273.8" y="710.0" font-size="56.5" textLength="35.5" lengthAdjust="spacingAndGlyphs" font-weight="bold">d</text>
<line x1="1453.3" y1="743.1" x2="1453.3" y2="1194.2" stroke="#111" stroke-width="2.4"/>
<line x1="1437.3" y1="1193.0" x2="2125.0" y2="1193.0" stroke="#111" stroke-width="2.4"/>
<line x1="1437.3" y1="1193.0" x2="1453.3" y2="1193.0" stroke="#111" stroke-width="2.4"/>
<text x="1435.5" y="1206.6" font-size="34.5" text-anchor="end">10<tspan font-size="26.5" dy="-12.7">5</tspan></text>
<line x1="1437.3" y1="1103.3" x2="1453.3" y2="1103.3" stroke="#111" stroke-width="2.4"/>
<text x="1435.5" y="1116.9" font-size="34.5" text-anchor="end">10<tspan font-size="26.5" dy="-12.7">6</tspan></text>
<line x1="1437.3" y1="1013.5" x2="1453.3" y2="1013.5" stroke="#111" stroke-width="2.4"/>
<text x="1435.5" y="1027.1" font-size="34.5" text-anchor="end">10<tspan font-size="26.5" dy="-12.7">7</tspan></text>
<line x1="1437.3" y1="923.8" x2="1453.3" y2="923.8" stroke="#111" stroke-width="2.4"/>
<text x="1435.5" y="937.4" font-size="34.5" text-anchor="end">10<tspan font-size="26.5" dy="-12.7">8</tspan></text>
<line x1="1437.3" y1="834.0" x2="1453.3" y2="834.0" stroke="#111" stroke-width="2.4"/>
<text x="1435.5" y="847.6" font-size="34.5" text-anchor="end">10<tspan font-size="26.5" dy="-12.7">9</tspan></text>
<line x1="1437.3" y1="744.3" x2="1453.3" y2="744.3" stroke="#111" stroke-width="2.4"/>
<text x="1435.5" y="757.9" font-size="34.5" text-anchor="end">10<tspan font-size="26.5" dy="-12.7">10</tspan></text>
<line x1="1520.1" y1="1193.0" x2="1520.1" y2="1209.0" stroke="#111" stroke-width="2.4"/>
<text x="1520.1" y="1244.0" font-size="33" text-anchor="middle">5</text>
<line x1="1654.8" y1="1193.0" x2="1654.8" y2="1209.0" stroke="#111" stroke-width="2.4"/>
<text x="1654.8" y="1244.0" font-size="33" text-anchor="middle">8</text>
<line x1="1789.2" y1="1193.0" x2="1789.2" y2="1209.0" stroke="#111" stroke-width="2.4"/>
<text x="1789.2" y="1244.0" font-size="33" text-anchor="middle">15</text>
<line x1="1923.9" y1="1193.0" x2="1923.9" y2="1209.0" stroke="#111" stroke-width="2.4"/>
<text x="1923.9" y="1244.0" font-size="33" text-anchor="middle">22</text>
<line x1="2058.3" y1="1193.0" x2="2058.3" y2="1209.0" stroke="#111" stroke-width="2.4"/>
<text x="2058.3" y="1244.0" font-size="33" text-anchor="middle">29</text>
<polyline points="1520.1,892.8 1654.8,1115.7 1789.2,1126.8 1923.9,1145.4 2058.3,1133.6" fill="none" stroke="#e8220f" stroke-width="3.5" stroke-linejoin="round" stroke-linecap="round"/>
<rect x="1511.4" y="884.1" width="17.4" height="17.4" fill="#e8220f"/>
<rect x="1646.1" y="1107.0" width="17.4" height="17.4" fill="#e8220f"/>
<rect x="1780.5" y="1118.1" width="17.4" height="17.4" fill="#e8220f"/>
<rect x="1915.2" y="1136.7" width="17.4" height="17.4" fill="#e8220f"/>
<rect x="2049.6" y="1124.9" width="17.4" height="17.4" fill="#e8220f"/>
<polyline points="1520.1,938.3 1654.8,1074.6 1789.2,1128.5 1923.9,1145.4 2058.3,1123.5" fill="none" stroke="#e8220f" stroke-width="3.5" stroke-linejoin="round" stroke-linecap="round"/>
<rect x="1511.4" y="929.6" width="17.4" height="17.4" fill="#e8220f"/>
<rect x="1646.1" y="1065.9" width="17.4" height="17.4" fill="#e8220f"/>
<rect x="1780.5" y="1119.8" width="17.4" height="17.4" fill="#e8220f"/>
<rect x="1915.2" y="1136.7" width="17.4" height="17.4" fill="#e8220f"/>
<rect x="2049.6" y="1114.8" width="17.4" height="17.4" fill="#e8220f"/>
<polyline points="1520.1,966.2 1654.8,1019.1 1789.2,1125.2 1923.9,997.2 2058.3,1051.1" fill="none" stroke="#e8220f" stroke-width="3.5" stroke-linejoin="round" stroke-linecap="round"/>
<rect x="1511.4" y="957.5" width="17.4" height="17.4" fill="#e8220f"/>
<rect x="1646.1" y="1010.4" width="17.4" height="17.4" fill="#e8220f"/>
<rect x="1780.5" y="1116.5" width="17.4" height="17.4" fill="#e8220f"/>
<rect x="1915.2" y="988.5" width="17.4" height="17.4" fill="#e8220f"/>
<rect x="2049.6" y="1042.4" width="17.4" height="17.4" fill="#e8220f"/>
<polyline points="1520.1,1077.3 1654.8,1042.7 1789.2,1123.5 1923.9,1111.7 2058.3,1076.3" fill="none" stroke="#e8220f" stroke-width="3.5" stroke-linejoin="round" stroke-linecap="round"/>
<rect x="1511.4" y="1068.6" width="17.4" height="17.4" fill="#e8220f"/>
<rect x="1646.1" y="1034.0" width="17.4" height="17.4" fill="#e8220f"/>
<rect x="1780.5" y="1114.8" width="17.4" height="17.4" fill="#e8220f"/>
<rect x="1915.2" y="1103.0" width="17.4" height="17.4" fill="#e8220f"/>
<rect x="2049.6" y="1067.6" width="17.4" height="17.4" fill="#e8220f"/>
<polyline points="1520.1,1080.7 1654.8,1079.0 1789.2,1121.8 1923.9,1111.7 2058.3,1107.3" fill="none" stroke="#e8220f" stroke-width="3.5" stroke-linejoin="round" stroke-linecap="round"/>
<rect x="1511.4" y="1072.0" width="17.4" height="17.4" fill="#e8220f"/>
<rect x="1646.1" y="1070.3" width="17.4" height="17.4" fill="#e8220f"/>
<rect x="1780.5" y="1113.1" width="17.4" height="17.4" fill="#e8220f"/>
<rect x="1915.2" y="1103.0" width="17.4" height="17.4" fill="#e8220f"/>
<rect x="2049.6" y="1098.6" width="17.4" height="17.4" fill="#e8220f"/>
<polyline points="1520.1,921.4 1654.8,947.7 1789.2,1021.4 1923.9,985.4 2058.3,1001.2" fill="none" stroke="#3f5be6" stroke-width="3.8" stroke-linejoin="round" stroke-linecap="round"/>
<circle cx="1520.1" cy="921.4" r="8.4" fill="#3f5be6"/>
<circle cx="1654.8" cy="947.7" r="8.4" fill="#3f5be6"/>
<circle cx="1789.2" cy="1021.4" r="8.4" fill="#3f5be6"/>
<circle cx="1923.9" cy="985.4" r="8.4" fill="#3f5be6"/>
<circle cx="2058.3" cy="1001.2" r="8.4" fill="#3f5be6"/>
<polyline points="1520.1,933.2 1654.8,913.7 1789.2,918.1 1923.9,1042.7 2058.3,873.6" fill="none" stroke="#3f5be6" stroke-width="3.8" stroke-linejoin="round" stroke-linecap="round"/>
<circle cx="1520.1" cy="933.2" r="8.4" fill="#3f5be6"/>
<circle cx="1654.8" cy="913.7" r="8.4" fill="#3f5be6"/>
<circle cx="1789.2" cy="918.1" r="8.4" fill="#3f5be6"/>
<circle cx="1923.9" cy="1042.7" r="8.4" fill="#3f5be6"/>
<circle cx="2058.3" cy="873.6" r="8.4" fill="#3f5be6"/>
<polyline points="1520.1,1036.6 1654.8,919.7 1789.2,906.3 1923.9,888.4 2058.3,832.2" fill="none" stroke="#3f5be6" stroke-width="3.8" stroke-linejoin="round" stroke-linecap="round"/>
<circle cx="1520.1" cy="1036.6" r="8.4" fill="#3f5be6"/>
<circle cx="1654.8" cy="919.7" r="8.4" fill="#3f5be6"/>
<circle cx="1789.2" cy="906.3" r="8.4" fill="#3f5be6"/>
<circle cx="1923.9" cy="888.4" r="8.4" fill="#3f5be6"/>
<circle cx="2058.3" cy="832.2" r="8.4" fill="#3f5be6"/>
<polyline points="1520.1,1057.8 1654.8,1090.5 1789.2,916.4 1923.9,870.9 2058.3,981.0" fill="none" stroke="#3f5be6" stroke-width="3.8" stroke-linejoin="round" stroke-linecap="round"/>
<circle cx="1520.1" cy="1057.8" r="8.4" fill="#3f5be6"/>
<circle cx="1654.8" cy="1090.5" r="8.4" fill="#3f5be6"/>
<circle cx="1789.2" cy="916.4" r="8.4" fill="#3f5be6"/>
<circle cx="1923.9" cy="870.9" r="8.4" fill="#3f5be6"/>
<circle cx="2058.3" cy="981.0" r="8.4" fill="#3f5be6"/>
<polyline points="1520.1,1083.1 1654.8,939.9 1789.2,900.6 1923.9,833.9 2058.3,793.5" fill="none" stroke="#3f5be6" stroke-width="3.8" stroke-linejoin="round" stroke-linecap="round"/>
<circle cx="1520.1" cy="1083.1" r="8.4" fill="#3f5be6"/>
<circle cx="1654.8" cy="939.9" r="8.4" fill="#3f5be6"/>
<circle cx="1789.2" cy="900.6" r="8.4" fill="#3f5be6"/>
<circle cx="1923.9" cy="833.9" r="8.4" fill="#3f5be6"/>
<circle cx="2058.3" cy="793.5" r="8.4" fill="#3f5be6"/>
<text x="1791.5" y="1299.0" font-size="35.5" class="my" text-anchor="middle" textLength="74.5" lengthAdjust="spacingAndGlyphs">Days</text>
<text x="0.0" y="0.0" font-size="35" class="my" textLength="226.0" lengthAdjust="spacingAndGlyphs" transform="translate(1305,1056) rotate(-90)">Total radiance</text>
<text x="0.0" y="0.0" font-size="35" class="my" textLength="208.0" lengthAdjust="spacingAndGlyphs" transform="translate(1350,1047) rotate(-90)">p/sec/cm2/sr</text>
<text x="1274.0" y="1312.8" font-size="53.5" textLength="31.5" lengthAdjust="spacingAndGlyphs" font-weight="bold">e</text>
<line x1="1452.4" y1="1384.8" x2="1452.4" y2="1811.2" stroke="#111" stroke-width="2.4"/>
<line x1="1436.4" y1="1810.0" x2="2089.6" y2="1810.0" stroke="#111" stroke-width="2.4"/>
<line x1="1436.4" y1="1810.0" x2="1452.4" y2="1810.0" stroke="#111" stroke-width="2.4"/>
<text x="1435.2" y="1821.6" font-size="32.8" text-anchor="end">0</text>
<line x1="1443.4" y1="1781.7" x2="1452.4" y2="1781.7" stroke="#111" stroke-width="2.4"/>
<line x1="1443.4" y1="1753.5" x2="1452.4" y2="1753.5" stroke="#111" stroke-width="2.4"/>
<line x1="1443.4" y1="1725.2" x2="1452.4" y2="1725.2" stroke="#111" stroke-width="2.4"/>
<line x1="1443.4" y1="1696.9" x2="1452.4" y2="1696.9" stroke="#111" stroke-width="2.4"/>
<line x1="1436.4" y1="1668.7" x2="1452.4" y2="1668.7" stroke="#111" stroke-width="2.4"/>
<text x="1435.2" y="1680.3" font-size="32.8" text-anchor="end">500</text>
<line x1="1443.4" y1="1640.4" x2="1452.4" y2="1640.4" stroke="#111" stroke-width="2.4"/>
<line x1="1443.4" y1="1612.1" x2="1452.4" y2="1612.1" stroke="#111" stroke-width="2.4"/>
<line x1="1443.4" y1="1583.9" x2="1452.4" y2="1583.9" stroke="#111" stroke-width="2.4"/>
<line x1="1443.4" y1="1555.6" x2="1452.4" y2="1555.6" stroke="#111" stroke-width="2.4"/>
<line x1="1436.4" y1="1527.3" x2="1452.4" y2="1527.3" stroke="#111" stroke-width="2.4"/>
<text x="1435.2" y="1538.9" font-size="32.8" text-anchor="end">1000</text>
<line x1="1443.4" y1="1499.1" x2="1452.4" y2="1499.1" stroke="#111" stroke-width="2.4"/>
<line x1="1443.4" y1="1470.8" x2="1452.4" y2="1470.8" stroke="#111" stroke-width="2.4"/>
<line x1="1443.4" y1="1442.5" x2="1452.4" y2="1442.5" stroke="#111" stroke-width="2.4"/>
<line x1="1443.4" y1="1414.3" x2="1452.4" y2="1414.3" stroke="#111" stroke-width="2.4"/>
<line x1="1436.4" y1="1386.0" x2="1452.4" y2="1386.0" stroke="#111" stroke-width="2.4"/>
<text x="1435.2" y="1397.6" font-size="32.8" text-anchor="end">1500</text>
<line x1="1452.4" y1="1810.0" x2="1452.4" y2="1827.0" stroke="#111" stroke-width="2.4"/>
<text x="1452.4" y="1858.0" font-size="33" text-anchor="middle">0</text>
<line x1="1473.6" y1="1810.0" x2="1473.6" y2="1819.0" stroke="#111" stroke-width="2.4"/>
<line x1="1494.8" y1="1810.0" x2="1494.8" y2="1819.0" stroke="#111" stroke-width="2.4"/>
<line x1="1516.0" y1="1810.0" x2="1516.0" y2="1819.0" stroke="#111" stroke-width="2.4"/>
<line x1="1537.2" y1="1810.0" x2="1537.2" y2="1819.0" stroke="#111" stroke-width="2.4"/>
<line x1="1558.4" y1="1810.0" x2="1558.4" y2="1819.0" stroke="#111" stroke-width="2.4"/>
<line x1="1579.6" y1="1810.0" x2="1579.6" y2="1819.0" stroke="#111" stroke-width="2.4"/>
<line x1="1600.8" y1="1810.0" x2="1600.8" y2="1819.0" stroke="#111" stroke-width="2.4"/>
<line x1="1622.0" y1="1810.0" x2="1622.0" y2="1819.0" stroke="#111" stroke-width="2.4"/>
<line x1="1643.2" y1="1810.0" x2="1643.2" y2="1819.0" stroke="#111" stroke-width="2.4"/>
<line x1="1664.4" y1="1810.0" x2="1664.4" y2="1827.0" stroke="#111" stroke-width="2.4"/>
<text x="1664.4" y="1858.0" font-size="33" text-anchor="middle">50</text>
<line x1="1685.6" y1="1810.0" x2="1685.6" y2="1819.0" stroke="#111" stroke-width="2.4"/>
<line x1="1706.8" y1="1810.0" x2="1706.8" y2="1819.0" stroke="#111" stroke-width="2.4"/>
<line x1="1728.0" y1="1810.0" x2="1728.0" y2="1819.0" stroke="#111" stroke-width="2.4"/>
<line x1="1749.2" y1="1810.0" x2="1749.2" y2="1819.0" stroke="#111" stroke-width="2.4"/>
<line x1="1770.4" y1="1810.0" x2="1770.4" y2="1819.0" stroke="#111" stroke-width="2.4"/>
<line x1="1791.6" y1="1810.0" x2="1791.6" y2="1819.0" stroke="#111" stroke-width="2.4"/>
<line x1="1812.8" y1="1810.0" x2="1812.8" y2="1819.0" stroke="#111" stroke-width="2.4"/>
<line x1="1834.0" y1="1810.0" x2="1834.0" y2="1819.0" stroke="#111" stroke-width="2.4"/>
<line x1="1855.2" y1="1810.0" x2="1855.2" y2="1819.0" stroke="#111" stroke-width="2.4"/>
<line x1="1876.4" y1="1810.0" x2="1876.4" y2="1827.0" stroke="#111" stroke-width="2.4"/>
<text x="1876.4" y="1858.0" font-size="33" text-anchor="middle">100</text>
<line x1="1897.6" y1="1810.0" x2="1897.6" y2="1819.0" stroke="#111" stroke-width="2.4"/>
<line x1="1918.8" y1="1810.0" x2="1918.8" y2="1819.0" stroke="#111" stroke-width="2.4"/>
<line x1="1940.0" y1="1810.0" x2="1940.0" y2="1819.0" stroke="#111" stroke-width="2.4"/>
<line x1="1961.2" y1="1810.0" x2="1961.2" y2="1819.0" stroke="#111" stroke-width="2.4"/>
<line x1="1982.4" y1="1810.0" x2="1982.4" y2="1819.0" stroke="#111" stroke-width="2.4"/>
<line x1="2003.6" y1="1810.0" x2="2003.6" y2="1819.0" stroke="#111" stroke-width="2.4"/>
<line x1="2024.8" y1="1810.0" x2="2024.8" y2="1819.0" stroke="#111" stroke-width="2.4"/>
<line x1="2046.0" y1="1810.0" x2="2046.0" y2="1819.0" stroke="#111" stroke-width="2.4"/>
<line x1="2067.2" y1="1810.0" x2="2067.2" y2="1819.0" stroke="#111" stroke-width="2.4"/>
<line x1="2088.4" y1="1810.0" x2="2088.4" y2="1827.0" stroke="#111" stroke-width="2.4"/>
<text x="2088.4" y="1858.0" font-size="33" text-anchor="middle">150</text>
<polyline points="1634.7,1809.0 1664.4,1786.1 1694.1,1767.8 1715.3,1713.7" fill="none" stroke="#e8220f" stroke-width="3.0" stroke-linejoin="round" stroke-linecap="round"/>
<rect x="1628.5" y="1802.8" width="12.4" height="12.4" fill="#e8220f"/>
<rect x="1658.2" y="1779.9" width="12.4" height="12.4" fill="#e8220f"/>
<rect x="1687.9" y="1761.6" width="12.4" height="12.4" fill="#e8220f"/>
<rect x="1709.1" y="1707.5" width="12.4" height="12.4" fill="#e8220f"/>
<polyline points="1664.4,1809.0 1694.1,1808.2 1715.3,1806.5 1745.0,1795.3 1812.8,1736.7 1872.2,1669.4 1901.8,1647.8 1923.0,1572.9 1952.7,1513.7" fill="none" stroke="#e8220f" stroke-width="3.0" stroke-linejoin="round" stroke-linecap="round"/>
<rect x="1658.2" y="1802.8" width="12.4" height="12.4" fill="#e8220f"/>
<rect x="1687.9" y="1802.0" width="12.4" height="12.4" fill="#e8220f"/>
<rect x="1709.1" y="1800.3" width="12.4" height="12.4" fill="#e8220f"/>
<rect x="1738.8" y="1789.1" width="12.4" height="12.4" fill="#e8220f"/>
<rect x="1806.6" y="1730.5" width="12.4" height="12.4" fill="#e8220f"/>
<rect x="1866.0" y="1663.2" width="12.4" height="12.4" fill="#e8220f"/>
<rect x="1895.6" y="1641.6" width="12.4" height="12.4" fill="#e8220f"/>
<rect x="1916.8" y="1566.7" width="12.4" height="12.4" fill="#e8220f"/>
<rect x="1946.5" y="1507.5" width="12.4" height="12.4" fill="#e8220f"/>
<polyline points="1715.3,1806.5 1745.0,1795.3 1812.8,1736.7 1872.2,1694.3 1901.8,1696.3 1923.0,1652.4 1952.7,1628.6" fill="none" stroke="#e8220f" stroke-width="3.0" stroke-linejoin="round" stroke-linecap="round"/>
<rect x="1709.1" y="1800.3" width="12.4" height="12.4" fill="#e8220f"/>
<rect x="1738.8" y="1789.1" width="12.4" height="12.4" fill="#e8220f"/>
<rect x="1806.6" y="1730.5" width="12.4" height="12.4" fill="#e8220f"/>
<rect x="1866.0" y="1688.1" width="12.4" height="12.4" fill="#e8220f"/>
<rect x="1895.6" y="1690.1" width="12.4" height="12.4" fill="#e8220f"/>
<rect x="1916.8" y="1646.2" width="12.4" height="12.4" fill="#e8220f"/>
<rect x="1946.5" y="1622.4" width="12.4" height="12.4" fill="#e8220f"/>
<polyline points="1694.1,1807.6 1715.3,1797.3 1745.0,1792.2 1812.8,1780.0 1872.2,1787.1 1901.8,1744.9 1923.0,1782.0 1952.7,1700.0 1982.4,1724.5 2029.0,1667.8" fill="none" stroke="#e8220f" stroke-width="3.0" stroke-linejoin="round" stroke-linecap="round"/>
<rect x="1687.9" y="1801.4" width="12.4" height="12.4" fill="#e8220f"/>
<rect x="1709.1" y="1791.1" width="12.4" height="12.4" fill="#e8220f"/>
<rect x="1738.8" y="1786.0" width="12.4" height="12.4" fill="#e8220f"/>
<rect x="1806.6" y="1773.8" width="12.4" height="12.4" fill="#e8220f"/>
<rect x="1866.0" y="1780.9" width="12.4" height="12.4" fill="#e8220f"/>
<rect x="1895.6" y="1738.7" width="12.4" height="12.4" fill="#e8220f"/>
<rect x="1916.8" y="1775.8" width="12.4" height="12.4" fill="#e8220f"/>
<rect x="1946.5" y="1693.8" width="12.4" height="12.4" fill="#e8220f"/>
<rect x="1976.2" y="1718.3" width="12.4" height="12.4" fill="#e8220f"/>
<rect x="2022.8" y="1661.6" width="12.4" height="12.4" fill="#e8220f"/>
<polyline points="1715.3,1809.0 1745.0,1808.6 1812.8,1808.6 1872.2,1799.4 1901.8,1792.2 1923.0,1780.0 1952.7,1729.0 1982.4,1724.5 2029.0,1685.7" fill="none" stroke="#e8220f" stroke-width="3.0" stroke-linejoin="round" stroke-linecap="round"/>
<rect x="1709.1" y="1802.8" width="12.4" height="12.4" fill="#e8220f"/>
<rect x="1738.8" y="1802.4" width="12.4" height="12.4" fill="#e8220f"/>
<rect x="1806.6" y="1802.4" width="12.4" height="12.4" fill="#e8220f"/>
<rect x="1866.0" y="1793.2" width="12.4" height="12.4" fill="#e8220f"/>
<rect x="1895.6" y="1786.0" width="12.4" height="12.4" fill="#e8220f"/>
<rect x="1916.8" y="1773.8" width="12.4" height="12.4" fill="#e8220f"/>
<rect x="1946.5" y="1722.8" width="12.4" height="12.4" fill="#e8220f"/>
<rect x="1976.2" y="1718.3" width="12.4" height="12.4" fill="#e8220f"/>
<rect x="2022.8" y="1679.5" width="12.4" height="12.4" fill="#e8220f"/>
<polyline points="1545.7,1810.2 1575.4,1810.2 1605.0,1794.4 1634.7,1766.3 1664.4,1696.8 1694.1,1571.2 1715.3,1447.6" fill="none" stroke="#3f5be6" stroke-width="6.2" stroke-linejoin="round" stroke-linecap="round"/>
<circle cx="1545.7" cy="1810.2" r="6.4" fill="#3f5be6"/>
<circle cx="1575.4" cy="1810.2" r="6.4" fill="#3f5be6"/>
<circle cx="1605.0" cy="1794.4" r="6.4" fill="#3f5be6"/>
<circle cx="1634.7" cy="1766.3" r="6.4" fill="#3f5be6"/>
<circle cx="1664.4" cy="1696.8" r="6.4" fill="#3f5be6"/>
<circle cx="1694.1" cy="1571.2" r="6.4" fill="#3f5be6"/>
<circle cx="1715.3" cy="1447.6" r="6.4" fill="#3f5be6"/>
<polyline points="1545.7,1810.2 1575.4,1810.2 1605.0,1799.3 1634.7,1770.0 1664.4,1712.7 1694.1,1678.5 1715.3,1429.8" fill="none" stroke="#3f5be6" stroke-width="6.2" stroke-linejoin="round" stroke-linecap="round"/>
<circle cx="1545.7" cy="1810.2" r="6.4" fill="#3f5be6"/>
<circle cx="1575.4" cy="1810.2" r="6.4" fill="#3f5be6"/>
<circle cx="1605.0" cy="1799.3" r="6.4" fill="#3f5be6"/>
<circle cx="1634.7" cy="1770.0" r="6.4" fill="#3f5be6"/>
<circle cx="1664.4" cy="1712.7" r="6.4" fill="#3f5be6"/>
<circle cx="1694.1" cy="1678.5" r="6.4" fill="#3f5be6"/>
<circle cx="1715.3" cy="1429.8" r="6.4" fill="#3f5be6"/>
<polyline points="1545.7,1810.2 1575.4,1810.2 1605.0,1806.6 1634.7,1772.4 1664.4,1742.0 1694.1,1678.5 1715.3,1608.5 1745.0,1572.9" fill="none" stroke="#3f5be6" stroke-width="6.2" stroke-linejoin="round" stroke-linecap="round"/>
<circle cx="1545.7" cy="1810.2" r="6.4" fill="#3f5be6"/>
<circle cx="1575.4" cy="1810.2" r="6.4" fill="#3f5be6"/>
<circle cx="1605.0" cy="1806.6" r="6.4" fill="#3f5be6"/>
<circle cx="1634.7" cy="1772.4" r="6.4" fill="#3f5be6"/>
<circle cx="1664.4" cy="1742.0" r="6.4" fill="#3f5be6"/>
<circle cx="1694.1" cy="1678.5" r="6.4" fill="#3f5be6"/>
<circle cx="1715.3" cy="1608.5" r="6.4" fill="#3f5be6"/>
<circle cx="1745.0" cy="1572.9" r="6.4" fill="#3f5be6"/>
<polyline points="1545.7,1810.2 1575.4,1810.2 1605.0,1810.2 1634.7,1789.5 1664.4,1777.3 1694.1,1770.0 1715.3,1702.9 1745.0,1674.9" fill="none" stroke="#3f5be6" stroke-width="6.2" stroke-linejoin="round" stroke-linecap="round"/>
<circle cx="1545.7" cy="1810.2" r="6.4" fill="#3f5be6"/>
<circle cx="1575.4" cy="1810.2" r="6.4" fill="#3f5be6"/>
<circle cx="1605.0" cy="1810.2" r="6.4" fill="#3f5be6"/>
<circle cx="1634.7" cy="1789.5" r="6.4" fill="#3f5be6"/>
<circle cx="1664.4" cy="1777.3" r="6.4" fill="#3f5be6"/>
<circle cx="1694.1" cy="1770.0" r="6.4" fill="#3f5be6"/>
<circle cx="1715.3" cy="1702.9" r="6.4" fill="#3f5be6"/>
<circle cx="1745.0" cy="1674.9" r="6.4" fill="#3f5be6"/>
<polyline points="1545.7,1810.2 1575.4,1810.2 1605.0,1804.1 1634.7,1809.0 1664.4,1746.8 1694.1,1678.5" fill="none" stroke="#3f5be6" stroke-width="6.2" stroke-linejoin="round" stroke-linecap="round"/>
<circle cx="1545.7" cy="1810.2" r="6.4" fill="#3f5be6"/>
<circle cx="1575.4" cy="1810.2" r="6.4" fill="#3f5be6"/>
<circle cx="1605.0" cy="1804.1" r="6.4" fill="#3f5be6"/>
<circle cx="1634.7" cy="1809.0" r="6.4" fill="#3f5be6"/>
<circle cx="1664.4" cy="1746.8" r="6.4" fill="#3f5be6"/>
<circle cx="1694.1" cy="1678.5" r="6.4" fill="#3f5be6"/>
<text x="1791.5" y="1898.5" font-size="35.5" class="my" text-anchor="middle" textLength="74.5" lengthAdjust="spacingAndGlyphs">Days</text>
<text x="0.0" y="0.0" font-size="35" class="my" textLength="312.0" lengthAdjust="spacingAndGlyphs" transform="translate(1349,1778) rotate(-90)">Tumor volume, mm</text>
<text x="0.0" y="0.0" font-size="21" textLength="15.0" lengthAdjust="spacingAndGlyphs" transform="translate(1329,1457.5) rotate(-90)">3</text>
<line x1="1392.5" y1="1952.5" x2="1449.8" y2="1952.5" stroke="#3f5be6" stroke-width="12.5" stroke-linecap="round"/>
<line x1="1392.5" y1="2025.0" x2="1449.8" y2="2025.0" stroke="#e8220f" stroke-width="12.5" stroke-linecap="round"/>
<text x="1475.5" y="1961.5" font-size="35.5" class="my" textLength="227.0" lengthAdjust="spacingAndGlyphs">CovCAR + PBS</text>
<text x="1475.5" y="2035.5" font-size="35.5" class="my" textLength="684.0" lengthAdjust="spacingAndGlyphs">CovCAR + DUPA-3-diketone 3 500 nmol/kg</text>
</svg>
</body></html>
